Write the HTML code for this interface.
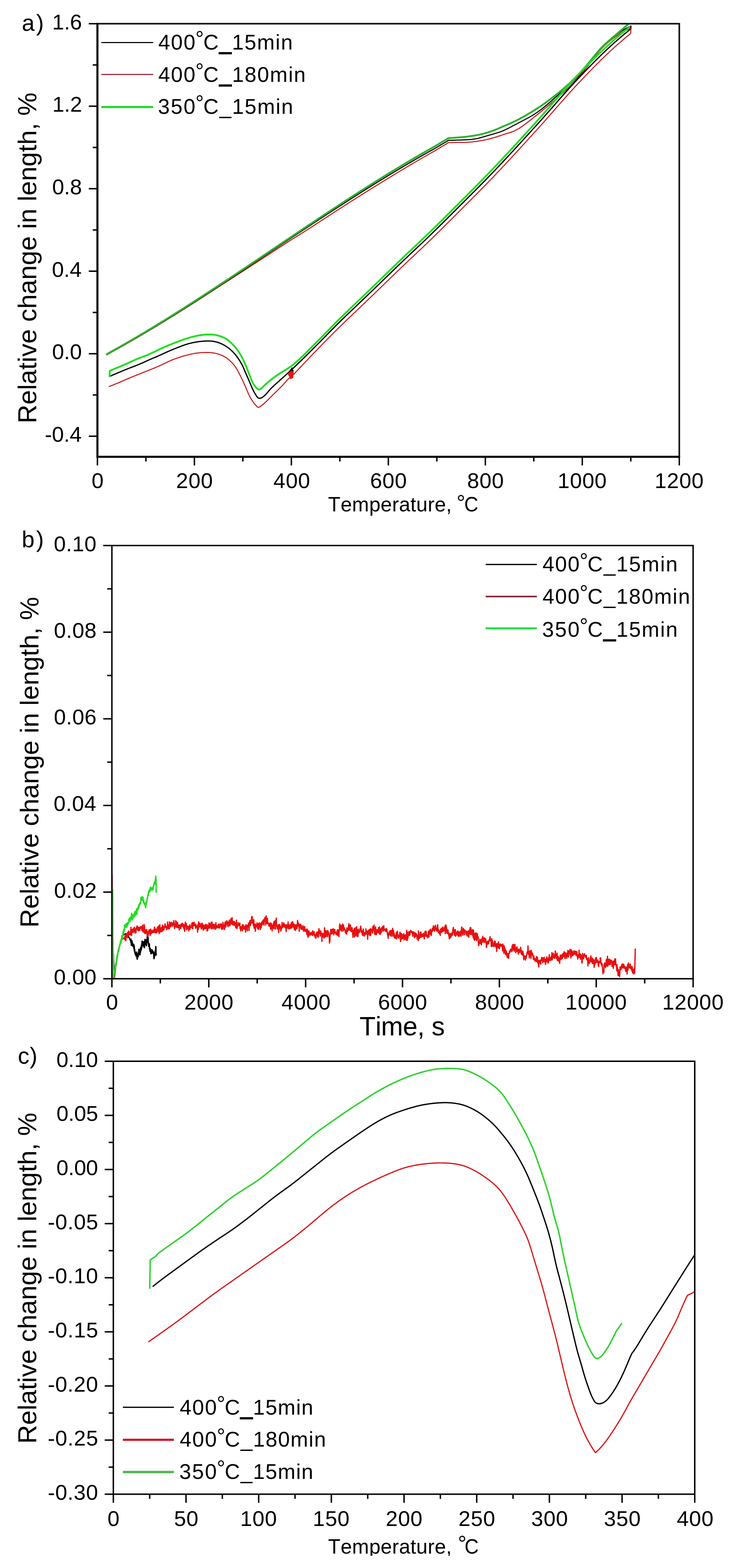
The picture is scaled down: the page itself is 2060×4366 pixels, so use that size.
<!DOCTYPE html>
<html><head><meta charset="utf-8"><title>Figure</title>
<style>html,body{margin:0;padding:0;background:#fff;}svg{display:block;} text{font-kerning:none;}</style>
</head><body>
<svg width="2060" height="4366" viewBox="0 0 2060 4366" font-family="'Liberation Sans', Arial, sans-serif">
<rect width="2060" height="4366" fill="#fff"/>
<defs>
<clipPath id="ca"><rect x="271.2" y="66.0" width="1619.8" height="1206.0"/></clipPath>
<clipPath id="cb"><rect x="311.5" y="1519.0" width="1618.0" height="1206.3"/></clipPath>
<clipPath id="cc"><rect x="315.5" y="2955.0" width="1618.5" height="1205.5"/></clipPath>
</defs>
<path d="M1756.0,78.6L1751.6,80.5L1750.8,80.9L1749.9,81.3L1749.0,81.7L1747.9,82.2L1746.9,82.7L1745.7,83.2L1744.5,83.7L1743.3,84.3L1742.1,84.9L1740.8,85.6L1739.5,86.2L1738.2,86.9L1736.9,87.5L1735.6,88.2L1734.3,88.9L1733.0,89.7L1731.7,90.4L1730.4,91.1L1729.1,91.9L1727.8,92.6L1726.5,93.4L1725.2,94.2L1724.0,94.9L1722.7,95.7L1721.4,96.5L1720.2,97.3L1718.9,98.2L1717.7,99.0L1716.4,99.8L1715.2,100.7L1713.9,101.5L1712.7,102.4L1711.5,103.3L1710.3,104.1L1709.1,105.0L1707.9,105.9L1706.7,106.8L1705.5,107.7L1704.3,108.7L1703.1,109.6L1702.0,110.5L1700.8,111.5L1699.6,112.4L1698.5,113.4L1697.3,114.3L1696.2,115.3L1695.0,116.3L1693.9,117.3L1692.8,118.2L1691.6,119.2L1690.5,120.2L1689.4,121.2L1688.3,122.2L1687.2,123.3L1686.1,124.3L1685.0,125.3L1683.9,126.3L1682.8,127.4L1681.7,128.4L1680.6,129.4L1679.6,130.5L1678.5,131.5L1677.4,132.6L1676.4,133.7L1675.3,134.7L1674.3,135.8L1673.3,136.9L1672.2,138.0L1671.2,139.1L1670.2,140.2L1669.2,141.3L1668.2,142.4L1667.2,143.6L1666.2,144.7L1665.2,145.8L1664.3,147.0L1663.3,148.1L1662.4,149.3L1661.4,150.5L1660.5,151.6L1659.6,152.8L1658.6,154.0L1657.7,155.2L1656.8,156.4L1655.9,157.6L1655.0,158.7L1654.1,159.9L1653.2,161.2L1652.3,162.4L1651.4,163.6L1650.5,164.8L1649.6,166.0L1648.7,167.2L1647.9,168.4L1647.0,169.6L1646.1,170.8L1645.2,172.1L1644.3,173.3L1643.5,174.5L1642.6,175.7L1641.7,176.9L1640.8,178.1L1639.9,179.4L1639.0,180.6L1638.2,181.8L1637.3,183.0L1636.4,184.2L1635.5,185.4L1634.6,186.6L1633.7,187.8L1632.7,189.0L1631.8,190.2L1630.9,191.3L1630.0,192.5L1629.0,193.7L1628.1,194.9L1627.2,196.0L1626.2,197.2L1625.3,198.4L1624.3,199.5L1623.3,200.7L1622.4,201.8L1621.4,203.0L1620.4,204.1L1619.4,205.2L1618.5,206.4L1617.5,207.5L1616.5,208.6L1615.5,209.7L1614.5,210.9L1613.5,212.0L1612.5,213.1L1611.5,214.2L1610.5,215.3L1609.4,216.4L1608.4,217.5L1607.4,218.6L1606.4,219.7L1605.4,220.8L1604.3,221.9L1603.3,223.0L1602.3,224.1L1601.2,225.2L1600.2,226.3L1599.2,227.4L1598.1,228.4L1597.1,229.5L1596.0,230.6L1595.0,231.7L1593.9,232.7L1592.9,233.8L1591.8,234.9L1590.8,236.0L1589.7,237.0L1588.7,238.1L1587.6,239.1L1586.5,240.2L1585.5,241.3L1584.4,242.3L1583.3,243.4L1582.3,244.4L1581.2,245.5L1580.1,246.5L1579.0,247.5L1577.9,248.6L1576.8,249.6L1575.8,250.6L1574.7,251.7L1573.6,252.7L1572.5,253.7L1571.4,254.7L1570.3,255.8L1569.2,256.8L1568.0,257.8L1566.9,258.8L1565.8,259.8L1564.7,260.8L1563.6,261.8L1562.4,262.8L1561.3,263.8L1560.2,264.8L1559.1,265.7L1557.9,266.7L1556.8,267.7L1555.7,268.7L1554.5,269.7L1553.4,270.7L1552.2,271.6L1551.1,272.6L1550.0,273.6L1548.8,274.6L1547.7,275.6L1546.6,276.5L1545.4,277.5L1544.3,278.5L1543.1,279.5L1542.0,280.4L1540.9,281.4L1539.7,282.4L1538.6,283.4L1537.5,284.4L1536.3,285.3L1535.2,286.3L1534.0,287.3L1532.9,288.3L1531.8,289.3L1530.6,290.2L1529.5,291.2L1528.3,292.2L1527.2,293.2L1526.1,294.1L1524.9,295.1L1523.8,296.1L1522.6,297.1L1521.5,298.0L1520.3,299.0L1519.2,300.0L1518.0,300.9L1516.9,301.9L1515.7,302.9L1514.6,303.8L1513.4,304.8L1512.3,305.7L1511.1,306.7L1510.0,307.7L1508.8,308.6L1507.6,309.6L1506.5,310.5L1505.3,311.5L1504.1,312.4L1503.0,313.3L1501.8,314.3L1500.6,315.2L1499.5,316.1L1498.3,317.1L1497.1,318.0L1495.9,319.0L1494.8,319.9L1493.6,320.8L1492.4,321.7L1491.2,322.7L1490.1,323.6L1488.9,324.5L1487.7,325.5L1486.5,326.4L1485.4,327.4L1484.2,328.3L1483.0,329.2L1481.8,330.2L1480.7,331.1L1479.5,332.0L1478.3,333.0L1477.2,333.9L1476.0,334.9L1474.8,335.8L1473.6,336.7L1472.5,337.7L1471.3,338.6L1470.1,339.5L1468.9,340.5L1467.7,341.4L1466.6,342.3L1465.4,343.2L1464.2,344.1L1463.0,345.0L1461.8,345.9L1460.6,346.8L1459.4,347.7L1458.2,348.6L1457.0,349.5L1455.7,350.4L1454.5,351.2L1453.3,352.1L1452.0,352.9L1450.8,353.8L1449.5,354.6L1448.3,355.4L1447.0,356.2L1445.8,357.0L1444.5,357.8L1443.2,358.6L1441.9,359.3L1440.6,360.0L1439.3,360.8L1438.0,361.5L1436.6,362.1L1435.3,362.8L1433.9,363.5L1432.6,364.1L1431.2,364.7L1429.8,365.3L1428.5,365.9L1427.1,366.4L1425.7,367.0L1424.3,367.5L1422.9,368.0L1421.5,368.5L1420.0,369.0L1418.6,369.4L1417.2,369.9L1415.8,370.3L1414.3,370.8L1412.9,371.2L1411.5,371.7L1410.0,372.1L1408.6,372.5L1407.2,373.0L1405.7,373.4L1404.3,373.8L1402.9,374.3L1401.4,374.7L1400.0,375.2L1398.6,375.7L1397.1,376.1L1395.7,376.6L1394.3,377.1L1392.9,377.5L1391.4,378.0L1390.0,378.5L1388.6,379.0L1387.2,379.4L1385.7,379.9L1384.3,380.4L1382.9,380.8L1381.5,381.3L1380.0,381.8L1378.6,382.2L1377.2,382.6L1375.7,383.1L1374.3,383.5L1372.9,383.9L1371.4,384.3L1370.0,384.7L1368.5,385.1L1367.1,385.5L1365.6,385.9L1364.2,386.3L1362.7,386.7L1361.3,387.0L1359.8,387.4L1358.3,387.7L1356.9,388.1L1355.4,388.4L1354.0,388.7L1352.5,389.1L1351.0,389.4L1349.6,389.7L1348.1,390.0L1346.6,390.3L1345.1,390.6L1343.7,390.9L1342.2,391.1L1340.7,391.4L1339.2,391.6L1337.8,391.9L1336.3,392.1L1334.8,392.4L1333.3,392.6L1331.8,392.8L1330.3,393.1L1328.9,393.3L1327.4,393.5L1325.9,393.7L1324.4,393.9L1322.9,394.1L1321.4,394.3L1319.9,394.5L1318.4,394.6L1317.0,394.8L1315.5,395.0L1314.0,395.1L1312.5,395.3L1311.0,395.4L1309.5,395.6L1308.0,395.7L1306.5,395.8L1305.0,395.9L1303.5,396.0L1302.0,396.1L1300.5,396.2L1299.0,396.3L1297.5,396.3L1296.0,396.4L1294.5,396.4L1293.0,396.5L1291.5,396.5L1290.0,396.5L1288.5,396.5L1287.0,396.6L1285.5,396.6L1284.0,396.6L1282.5,396.6L1281.0,396.6L1279.5,396.6L1278.0,396.6L1276.5,396.6L1275.0,396.6L1273.5,396.6L1272.0,396.6L1270.5,396.6L1269.0,396.7L1267.5,396.7L1266.0,396.7L1264.5,396.7L1263.0,396.8L1261.6,396.8L1260.1,396.9L1258.6,397.0L1257.1,397.0L1255.6,397.0L1254.1,397.0L1252.6,396.9L1251.0,396.8L1249.5,396.8L1248.1,397.1L1246.8,397.9L1245.6,398.8L1244.4,399.7L1243.1,400.5L1241.8,401.3L1240.5,402.1L1239.2,402.8L1237.9,403.5L1236.6,404.2L1235.4,405.0L1234.1,405.7L1232.8,406.5L1231.5,407.3L1230.2,408.0L1228.9,408.8L1227.7,409.6L1226.4,410.4L1225.1,411.2L1223.8,411.9L1222.5,412.7L1221.3,413.5L1220.0,414.3L1218.7,415.0L1217.4,415.8L1216.1,416.6L1214.8,417.3L1213.5,418.1L1212.2,418.9L1210.9,419.6L1209.6,420.4L1208.3,421.1L1207.0,421.9L1205.7,422.6L1204.4,423.3L1203.1,424.1L1201.8,424.8L1200.5,425.6L1199.2,426.3L1197.9,427.0L1196.6,427.8L1195.3,428.5L1194.0,429.3L1192.7,430.0L1191.3,430.7L1190.0,431.5L1188.7,432.2L1187.4,433.0L1186.1,433.7L1184.8,434.5L1183.5,435.2L1182.2,436.0L1180.9,436.7L1179.6,437.5L1178.3,438.2L1177.0,439.0L1175.7,439.7L1174.4,440.5L1173.1,441.2L1171.8,442.0L1170.5,442.7L1169.2,443.5L1167.9,444.2L1166.6,445.0L1165.3,445.7L1164.0,446.5L1162.7,447.2L1161.4,448.0L1160.1,448.7L1158.8,449.5L1157.5,450.3L1156.2,451.0L1154.9,451.8L1153.7,452.5L1152.4,453.3L1151.1,454.0L1149.8,454.8L1148.5,455.6L1147.2,456.3L1145.9,457.1L1144.6,457.9L1143.3,458.6L1142.0,459.4L1140.7,460.2L1139.4,460.9L1138.1,461.7L1136.8,462.4L1135.6,463.2L1134.3,464.0L1133.0,464.8L1131.7,465.5L1130.4,466.3L1129.1,467.1L1127.8,467.8L1126.5,468.6L1125.2,469.4L1124.0,470.1L1122.7,470.9L1121.4,471.7L1120.1,472.5L1118.8,473.2L1117.5,474.0L1116.2,474.8L1115.0,475.6L1113.7,476.3L1112.4,477.1L1111.1,477.9L1109.8,478.7L1108.5,479.4L1107.2,480.2L1106.0,481.0L1104.7,481.8L1103.4,482.6L1102.1,483.3L1100.8,484.1L1099.5,484.9L1098.3,485.7L1097.0,486.5L1095.7,487.2L1094.4,488.0L1093.1,488.8L1091.9,489.6L1090.6,490.4L1089.3,491.2L1088.0,491.9L1086.7,492.7L1085.5,493.5L1084.2,494.3L1082.9,495.1L1081.6,495.9L1080.3,496.6L1079.1,497.4L1077.8,498.2L1076.5,499.0L1075.2,499.8L1073.9,500.6L1072.6,501.3L1071.4,502.1L1070.1,502.9L1068.8,503.7L1067.5,504.5L1066.2,505.2L1065.0,506.0L1063.7,506.8L1062.4,507.6L1061.1,508.4L1059.8,509.2L1058.6,509.9L1057.3,510.7L1056.0,511.5L1054.7,512.3L1053.4,513.1L1052.2,513.9L1050.9,514.7L1049.6,515.4L1048.3,516.2L1047.0,517.0L1045.8,517.8L1044.5,518.6L1043.2,519.4L1041.9,520.2L1040.7,521.0L1039.4,521.8L1038.1,522.6L1036.8,523.3L1035.6,524.1L1034.3,524.9L1033.0,525.7L1031.7,526.5L1030.5,527.3L1029.2,528.1L1027.9,528.9L1026.6,529.7L1025.4,530.5L1024.1,531.3L1022.8,532.1L1021.5,532.9L1020.3,533.7L1019.0,534.5L1017.7,535.3L1016.5,536.1L1015.2,536.8L1013.9,537.6L1012.6,538.4L1011.4,539.2L1010.1,540.0L1008.8,540.8L1007.6,541.6L1006.3,542.4L1005.0,543.2L1003.7,544.0L1002.5,544.8L1001.2,545.6L999.9,546.4L998.7,547.2L997.4,548.0L996.1,548.8L994.9,549.6L993.6,550.5L992.3,551.3L991.1,552.1L989.8,552.9L988.5,553.7L987.2,554.5L986.0,555.3L984.7,556.1L983.4,556.9L982.2,557.7L980.9,558.5L979.6,559.3L978.4,560.1L977.1,560.9L975.8,561.7L974.6,562.5L973.3,563.3L972.0,564.1L970.8,565.0L969.5,565.8L968.3,566.6L967.0,567.4L965.7,568.2L964.5,569.0L963.2,569.8L961.9,570.6L960.7,571.4L959.4,572.2L958.1,573.0L956.9,573.9L955.6,574.7L954.4,575.5L953.1,576.3L951.8,577.1L950.6,577.9L949.3,578.7L948.0,579.5L946.8,580.4L945.5,581.2L944.3,582.0L943.0,582.8L941.7,583.6L940.5,584.4L939.2,585.2L937.9,586.1L936.7,586.9L935.4,587.7L934.2,588.5L932.9,589.3L931.6,590.1L930.4,590.9L929.1,591.8L927.9,592.6L926.6,593.4L925.3,594.2L924.1,595.0L922.8,595.8L921.6,596.7L920.3,597.5L919.1,598.3L917.8,599.1L916.5,599.9L915.3,600.8L914.0,601.6L912.8,602.4L911.5,603.2L910.2,604.0L909.0,604.8L907.7,605.7L906.5,606.5L905.2,607.3L904.0,608.1L902.7,608.9L901.4,609.8L900.2,610.6L898.9,611.4L897.7,612.2L896.4,613.1L895.2,613.9L893.9,614.7L892.6,615.5L891.4,616.3L890.1,617.2L888.9,618.0L887.6,618.8L886.4,619.6L885.1,620.5L883.9,621.3L882.6,622.1L881.3,622.9L880.1,623.7L878.8,624.6L877.6,625.4L876.3,626.2L875.1,627.0L873.8,627.9L872.5,628.7L871.3,629.5L870.0,630.3L868.8,631.1L867.5,631.9L866.3,632.8L865.0,633.6L863.7,634.4L862.5,635.2L861.2,636.0L859.9,636.8L858.7,637.6L857.4,638.4L856.1,639.3L854.9,640.1L853.6,640.9L852.4,641.7L851.1,642.5L849.8,643.3L848.5,644.1L847.3,644.9L846.0,645.7L844.7,646.5L843.5,647.3L842.2,648.1L840.9,648.9L839.7,649.7L838.4,650.5L837.1,651.3L835.8,652.1L834.6,652.9L833.3,653.7L832.0,654.5L830.7,655.3L829.5,656.0L828.2,656.8L826.9,657.6L825.6,658.4L824.4,659.2L823.1,660.0L821.8,660.8L820.5,661.6L819.3,662.4L818.0,663.2L816.7,664.0L815.4,664.7L814.2,665.5L812.9,666.3L811.6,667.1L810.4,667.9L809.1,668.8L807.8,669.6L806.6,670.4L805.3,671.2L804.0,672.0L802.8,672.8L801.5,673.6L800.2,674.4L799.0,675.2L797.7,676.1L796.5,676.9L795.2,677.7L793.9,678.5L792.7,679.3L791.4,680.2L790.2,681.0L788.9,681.8L787.7,682.6L786.4,683.4L785.1,684.2L783.9,685.1L782.6,685.9L781.4,686.7L780.1,687.5L778.8,688.3L777.6,689.2L776.3,690.0L775.1,690.8L773.8,691.6L772.6,692.4L771.3,693.3L770.0,694.1L768.8,694.9L767.5,695.7L766.3,696.5L765.0,697.4L763.8,698.2L762.5,699.0L761.2,699.8L760.0,700.6L758.7,701.4L757.5,702.3L756.2,703.1L754.9,703.9L753.7,704.7L752.4,705.5L751.2,706.4L749.9,707.2L748.7,708.0L747.4,708.8L746.1,709.6L744.9,710.5L743.6,711.3L742.4,712.1L741.1,712.9L739.8,713.7L738.6,714.6L737.3,715.4L736.1,716.2L734.8,717.0L733.6,717.8L732.3,718.6L731.0,719.5L729.8,720.3L728.5,721.1L727.3,721.9L726.0,722.7L724.7,723.6L723.5,724.4L722.2,725.2L721.0,726.0L719.7,726.8L718.5,727.7L717.2,728.5L715.9,729.3L714.7,730.1L713.4,730.9L712.2,731.7L710.9,732.6L709.6,733.4L708.4,734.2L707.1,735.0L705.9,735.8L704.6,736.6L703.3,737.5L702.1,738.3L700.8,739.1L699.6,739.9L698.3,740.7L697.1,741.6L695.8,742.4L694.5,743.2L693.3,744.0L692.0,744.8L690.8,745.6L689.5,746.5L688.2,747.3L687.0,748.1L685.7,748.9L684.5,749.7L683.2,750.5L681.9,751.3L680.7,752.2L679.4,753.0L678.2,753.8L676.9,754.6L675.6,755.4L674.4,756.2L673.1,757.1L671.9,757.9L670.6,758.7L669.3,759.5L668.1,760.3L666.8,761.1L665.5,761.9L664.3,762.8L663.0,763.6L661.8,764.4L660.5,765.2L659.2,766.0L658.0,766.8L656.7,767.6L655.5,768.5L654.2,769.3L652.9,770.1L651.7,770.9L650.4,771.7L649.1,772.5L647.9,773.3L646.6,774.1L645.4,775.0L644.1,775.8L642.8,776.6L641.6,777.4L640.3,778.2L639.0,779.0L637.8,779.8L636.5,780.6L635.3,781.4L634.0,782.3L632.7,783.1L631.5,783.9L630.2,784.7L628.9,785.5L627.7,786.3L626.4,787.1L625.1,787.9L623.9,788.8L622.6,789.6L621.4,790.4L620.1,791.2L618.8,792.0L617.6,792.8L616.3,793.6L615.1,794.4L613.8,795.3L612.5,796.1L611.3,796.9L610.0,797.7L608.7,798.5L607.5,799.3L606.2,800.1L605.0,801.0L603.7,801.8L602.4,802.6L601.2,803.4L599.9,804.2L598.7,805.0L597.4,805.9L596.1,806.7L594.9,807.5L593.6,808.3L592.4,809.1L591.1,809.9L589.8,810.7L588.6,811.6L587.3,812.4L586.1,813.2L584.8,814.0L583.5,814.8L582.3,815.7L581.0,816.5L579.8,817.3L578.5,818.1L577.2,818.9L576.0,819.7L574.7,820.6L573.5,821.4L572.2,822.2L570.9,823.0L569.7,823.8L568.4,824.6L567.2,825.4L565.9,826.3L564.6,827.1L563.4,827.9L562.1,828.7L560.9,829.5L559.6,830.3L558.3,831.1L557.1,832.0L555.8,832.8L554.5,833.6L553.3,834.4L552.0,835.2L550.8,836.0L549.5,836.8L548.2,837.6L547.0,838.4L545.7,839.3L544.4,840.1L543.2,840.9L541.9,841.7L540.6,842.5L539.4,843.3L538.1,844.1L536.8,844.9L535.6,845.7L534.3,846.5L533.1,847.3L531.8,848.1L530.5,849.0L529.3,849.8L528.0,850.6L526.7,851.4L525.5,852.2L524.2,853.0L522.9,853.8L521.7,854.6L520.4,855.4L519.1,856.2L517.8,857.0L516.6,857.8L515.3,858.6L514.0,859.4L512.8,860.2L511.5,861.0L510.2,861.8L509.0,862.6L507.7,863.4L506.4,864.2L505.2,865.0L503.9,865.8L502.6,866.6L501.3,867.4L500.1,868.2L498.8,869.0L497.5,869.8L496.3,870.6L495.0,871.4L493.7,872.2L492.4,873.0L491.2,873.8L489.9,874.6L488.6,875.4L487.3,876.2L486.1,877.0L484.8,877.8L483.5,878.6L482.3,879.4L481.0,880.1L479.7,880.9L478.4,881.7L477.2,882.5L475.9,883.3L474.6,884.1L473.3,884.9L472.0,885.7L470.8,886.5L469.5,887.3L468.2,888.1L466.9,888.8L465.7,889.6L464.4,890.4L463.1,891.2L461.8,892.0L460.6,892.8L459.3,893.6L458.0,894.4L456.7,895.1L455.4,895.9L454.2,896.7L452.9,897.5L451.6,898.3L450.3,899.1L449.0,899.8L447.7,900.6L446.5,901.4L445.2,902.2L443.9,903.0L442.6,903.8L441.3,904.5L440.1,905.3L438.8,906.1L437.5,906.9L436.2,907.7L434.9,908.4L433.6,909.2L432.4,910.0L431.1,910.8L429.8,911.5L428.5,912.3L427.2,913.1L425.9,913.9L424.6,914.6L423.4,915.4L422.1,916.2L420.8,917.0L419.5,917.7L418.2,918.5L416.9,919.3L415.6,920.0L414.3,920.8L413.1,921.6L411.8,922.4L410.5,923.1L409.2,923.9L407.9,924.7L406.6,925.4L405.3,926.2L404.0,927.0L402.7,927.7L401.4,928.5L400.1,929.3L398.9,930.0L397.6,930.8L396.3,931.5L395.0,932.3L393.7,933.1L392.4,933.8L391.1,934.6L389.8,935.3L388.5,936.1L387.2,936.9L385.9,937.6L384.6,938.4L383.3,939.1L382.0,939.9L380.7,940.7L379.4,941.4L378.1,942.2L376.8,942.9L375.5,943.7L374.2,944.4L372.9,945.2L371.6,945.9L370.3,946.7L369.0,947.4L367.7,948.2L366.4,948.9L365.1,949.7L363.8,950.4L362.5,951.2L361.2,951.9L359.9,952.7L358.6,953.4L357.3,954.2L356.0,954.9L354.7,955.7L353.4,956.4L352.1,957.2L350.8,957.9L349.5,958.6L348.2,959.4L346.9,960.1L345.6,960.9L344.3,961.6L343.0,962.3L341.7,963.1L340.4,963.8L339.1,964.6L337.8,965.3L336.4,966.0L335.1,966.8L333.8,967.5L332.5,968.2L331.2,969.0L329.9,969.7L328.6,970.4L327.3,971.2L326.0,971.9L324.7,972.6L323.4,973.4L322.0,974.1L320.7,974.8L319.4,975.5L318.1,976.3L316.8,977.0L315.5,977.7L314.2,978.4L313.0,979.1L311.7,979.8L310.5,980.5L309.3,981.2L308.1,981.8L307.0,982.5L305.9,983.1L304.8,983.7L303.8,984.2L302.9,984.8L302.1,985.2L301.3,985.7L297.3,988.1" fill="none" stroke="#c82020" stroke-width="3" stroke-linejoin="round" stroke-linecap="round" clip-path="url(#ca)" />
<path d="M1756.0,72.3L1751.8,74.5L1751.0,74.9L1750.1,75.3L1749.2,75.8L1748.2,76.4L1747.1,76.9L1746.0,77.5L1744.9,78.1L1743.7,78.8L1742.5,79.5L1741.3,80.1L1740.0,80.9L1738.7,81.6L1737.5,82.3L1736.2,83.1L1734.9,83.8L1733.7,84.6L1732.4,85.4L1731.1,86.2L1729.8,87.0L1728.6,87.8L1727.3,88.6L1726.0,89.4L1724.8,90.2L1723.5,91.0L1722.3,91.9L1721.0,92.7L1719.8,93.6L1718.6,94.4L1717.3,95.3L1716.1,96.1L1714.9,97.0L1713.7,97.9L1712.5,98.8L1711.3,99.6L1710.1,100.5L1708.9,101.4L1707.7,102.4L1706.5,103.3L1705.3,104.2L1704.1,105.1L1702.9,106.0L1701.8,107.0L1700.6,107.9L1699.4,108.9L1698.3,109.8L1697.1,110.8L1696.0,111.7L1694.8,112.7L1693.7,113.7L1692.5,114.7L1691.4,115.7L1690.3,116.6L1689.2,117.6L1688.0,118.6L1686.9,119.6L1685.8,120.7L1684.7,121.7L1683.6,122.7L1682.5,123.7L1681.4,124.8L1680.3,125.8L1679.3,126.8L1678.2,127.9L1677.1,128.9L1676.1,130.0L1675.0,131.1L1674.0,132.2L1672.9,133.2L1671.9,134.3L1670.9,135.4L1669.9,136.5L1668.9,137.6L1667.9,138.8L1666.9,139.9L1665.9,141.0L1665.0,142.2L1664.0,143.3L1663.0,144.5L1662.1,145.6L1661.2,146.8L1660.2,148.0L1659.3,149.2L1658.4,150.4L1657.5,151.5L1656.5,152.7L1655.6,153.9L1654.7,155.1L1653.8,156.3L1653.0,157.5L1652.1,158.8L1651.2,160.0L1650.3,161.2L1649.4,162.4L1648.5,163.6L1647.6,164.8L1646.8,166.0L1645.9,167.3L1645.0,168.5L1644.1,169.7L1643.3,170.9L1642.4,172.1L1641.5,173.3L1640.6,174.5L1639.7,175.8L1638.8,177.0L1637.9,178.2L1637.0,179.4L1636.1,180.6L1635.2,181.8L1634.3,183.0L1633.4,184.2L1632.5,185.4L1631.6,186.5L1630.7,187.7L1629.7,188.9L1628.8,190.1L1627.8,191.2L1626.9,192.4L1625.9,193.5L1625.0,194.7L1624.0,195.8L1623.0,197.0L1622.0,198.1L1621.1,199.2L1620.1,200.4L1619.1,201.5L1618.1,202.6L1617.1,203.7L1616.0,204.8L1615.0,205.9L1614.0,207.0L1613.0,208.1L1612.0,209.2L1610.9,210.3L1609.9,211.4L1608.9,212.5L1607.8,213.6L1606.8,214.7L1605.8,215.8L1604.7,216.8L1603.7,217.9L1602.6,219.0L1601.6,220.0L1600.5,221.1L1599.4,222.2L1598.4,223.2L1597.3,224.3L1596.2,225.4L1595.2,226.4L1594.1,227.5L1593.0,228.5L1592.0,229.6L1590.9,230.6L1589.8,231.7L1588.7,232.7L1587.7,233.7L1586.6,234.8L1585.5,235.8L1584.4,236.9L1583.3,237.9L1582.2,238.9L1581.1,240.0L1580.0,241.0L1578.9,242.0L1577.8,243.0L1576.7,244.1L1575.6,245.1L1574.5,246.1L1573.4,247.1L1572.3,248.1L1571.2,249.1L1570.1,250.2L1569.0,251.2L1567.9,252.2L1566.8,253.2L1565.7,254.2L1564.5,255.2L1563.4,256.2L1562.3,257.2L1561.2,258.1L1560.0,259.1L1558.9,260.1L1557.8,261.1L1556.6,262.1L1555.5,263.1L1554.4,264.1L1553.2,265.0L1552.1,266.0L1551.0,267.0L1549.8,268.0L1548.7,269.0L1547.5,270.0L1546.4,270.9L1545.3,271.9L1544.1,272.9L1543.0,273.9L1541.9,274.9L1540.7,275.9L1539.6,276.8L1538.5,277.8L1537.4,278.8L1536.2,279.8L1535.1,280.8L1534.0,281.8L1532.8,282.8L1531.7,283.8L1530.6,284.7L1529.4,285.7L1528.3,286.7L1527.2,287.7L1526.0,288.7L1524.9,289.7L1523.8,290.6L1522.6,291.6L1521.5,292.6L1520.3,293.6L1519.2,294.5L1518.0,295.5L1516.9,296.5L1515.7,297.4L1514.6,298.4L1513.4,299.3L1512.3,300.3L1511.1,301.2L1509.9,302.1L1508.7,303.1L1507.5,304.0L1506.4,304.9L1505.2,305.8L1504.0,306.7L1502.8,307.6L1501.6,308.5L1500.3,309.4L1499.1,310.3L1497.9,311.1L1496.7,312.0L1495.4,312.8L1494.2,313.7L1492.9,314.5L1491.7,315.3L1490.4,316.1L1489.2,317.0L1487.9,317.8L1486.6,318.6L1485.4,319.4L1484.1,320.1L1482.8,320.9L1481.5,321.7L1480.2,322.5L1478.9,323.2L1477.6,324.0L1476.3,324.7L1475.0,325.5L1473.7,326.2L1472.4,326.9L1471.1,327.7L1469.8,328.4L1468.5,329.1L1467.2,329.9L1465.8,330.6L1464.5,331.3L1463.2,332.0L1461.9,332.7L1460.5,333.4L1459.2,334.1L1457.9,334.8L1456.6,335.5L1455.2,336.2L1453.9,336.9L1452.6,337.6L1451.2,338.3L1449.9,339.0L1448.6,339.6L1447.2,340.3L1445.9,341.0L1444.6,341.7L1443.2,342.4L1441.9,343.1L1440.6,343.8L1439.2,344.5L1437.9,345.2L1436.6,345.9L1435.2,346.5L1433.9,347.2L1432.6,347.9L1431.2,348.6L1429.9,349.3L1428.6,350.0L1427.3,350.7L1425.9,351.5L1424.6,352.2L1423.3,352.9L1422.0,353.6L1420.6,354.3L1419.3,355.0L1418.0,355.7L1416.7,356.4L1415.3,357.1L1414.0,357.7L1412.6,358.4L1411.3,359.1L1410.0,359.7L1408.6,360.4L1407.3,361.0L1405.9,361.7L1404.5,362.3L1403.2,362.9L1401.8,363.5L1400.4,364.0L1399.0,364.6L1397.6,365.2L1396.2,365.7L1394.8,366.2L1393.4,366.8L1392.0,367.3L1390.6,367.8L1389.2,368.3L1387.8,368.7L1386.3,369.2L1384.9,369.7L1383.5,370.1L1382.0,370.6L1380.6,371.0L1379.2,371.5L1377.7,371.9L1376.3,372.3L1374.9,372.8L1373.4,373.2L1372.0,373.6L1370.5,374.0L1369.1,374.4L1367.6,374.8L1366.2,375.2L1364.8,375.6L1363.3,376.1L1361.9,376.5L1360.4,376.9L1359.0,377.3L1357.5,377.7L1356.1,378.1L1354.6,378.5L1353.2,378.9L1351.8,379.3L1350.3,379.8L1348.9,380.2L1347.4,380.6L1346.0,381.0L1344.6,381.5L1343.1,381.9L1341.7,382.3L1340.2,382.7L1338.8,383.1L1337.3,383.5L1335.9,383.9L1334.5,384.3L1333.0,384.7L1331.5,385.0L1330.1,385.4L1328.6,385.7L1327.2,386.0L1325.7,386.3L1324.2,386.6L1322.8,386.9L1321.3,387.1L1319.8,387.3L1318.3,387.5L1316.8,387.7L1315.4,387.9L1313.9,388.1L1312.4,388.2L1310.9,388.4L1309.4,388.5L1307.9,388.6L1306.4,388.7L1304.9,388.8L1303.4,388.9L1301.9,389.0L1300.4,389.1L1298.9,389.2L1297.4,389.2L1295.9,389.3L1294.4,389.4L1292.9,389.4L1291.4,389.5L1289.9,389.5L1288.4,389.6L1286.9,389.7L1285.4,389.7L1283.9,389.8L1282.4,389.8L1280.9,389.9L1279.4,389.9L1277.9,389.9L1276.4,390.0L1274.9,390.0L1273.4,390.1L1271.9,390.1L1270.4,390.2L1268.9,390.2L1267.4,390.3L1265.9,390.3L1264.4,390.4L1263.0,390.4L1261.5,390.5L1260.0,390.6L1258.5,390.7L1257.0,390.7L1255.5,390.8L1254.0,390.7L1252.5,390.6L1250.9,390.5L1249.4,390.6L1248.1,391.0L1246.8,391.7L1245.5,392.6L1244.3,393.5L1243.0,394.3L1241.7,395.1L1240.4,395.8L1239.1,396.6L1237.8,397.3L1236.5,398.0L1235.2,398.8L1233.9,399.5L1232.7,400.3L1231.4,401.0L1230.1,401.8L1228.8,402.6L1227.5,403.3L1226.2,404.1L1224.9,404.9L1223.7,405.7L1222.4,406.4L1221.1,407.2L1219.8,408.0L1218.5,408.7L1217.2,409.5L1215.9,410.2L1214.6,411.0L1213.3,411.8L1212.0,412.5L1210.7,413.2L1209.4,414.0L1208.1,414.7L1206.8,415.5L1205.5,416.2L1204.2,416.9L1202.9,417.7L1201.6,418.4L1200.2,419.1L1198.9,419.9L1197.6,420.6L1196.3,421.3L1195.0,422.1L1193.7,422.8L1192.4,423.5L1191.1,424.3L1189.8,425.0L1188.5,425.7L1187.1,426.5L1185.8,427.2L1184.5,427.9L1183.2,428.7L1181.9,429.4L1180.6,430.2L1179.3,430.9L1178.0,431.6L1176.7,432.4L1175.4,433.1L1174.1,433.9L1172.8,434.6L1171.5,435.4L1170.2,436.1L1168.9,436.9L1167.6,437.6L1166.3,438.3L1165.0,439.1L1163.7,439.8L1162.4,440.6L1161.1,441.3L1159.8,442.1L1158.5,442.8L1157.2,443.6L1155.9,444.3L1154.6,445.1L1153.3,445.8L1152.0,446.6L1150.7,447.3L1149.4,448.1L1148.1,448.9L1146.8,449.6L1145.5,450.4L1144.2,451.1L1142.9,451.9L1141.6,452.6L1140.3,453.4L1139.0,454.1L1137.7,454.9L1136.4,455.7L1135.1,456.4L1133.8,457.2L1132.5,457.9L1131.2,458.7L1129.9,459.5L1128.6,460.2L1127.3,461.0L1126.1,461.8L1124.8,462.5L1123.5,463.3L1122.2,464.1L1120.9,464.8L1119.6,465.6L1118.3,466.4L1117.0,467.1L1115.7,467.9L1114.4,468.7L1113.1,469.4L1111.9,470.2L1110.6,471.0L1109.3,471.7L1108.0,472.5L1106.7,473.3L1105.4,474.1L1104.1,474.8L1102.8,475.6L1101.6,476.4L1100.3,477.1L1099.0,477.9L1097.7,478.7L1096.4,479.5L1095.1,480.2L1093.8,481.0L1092.6,481.8L1091.3,482.6L1090.0,483.3L1088.7,484.1L1087.4,484.9L1086.1,485.7L1084.8,486.5L1083.6,487.2L1082.3,488.0L1081.0,488.8L1079.7,489.6L1078.4,490.4L1077.1,491.1L1075.9,491.9L1074.6,492.7L1073.3,493.5L1072.0,494.3L1070.7,495.0L1069.5,495.8L1068.2,496.6L1066.9,497.4L1065.6,498.2L1064.3,499.0L1063.1,499.7L1061.8,500.5L1060.5,501.3L1059.2,502.1L1057.9,502.9L1056.7,503.7L1055.4,504.5L1054.1,505.2L1052.8,506.0L1051.5,506.8L1050.3,507.6L1049.0,508.4L1047.7,509.2L1046.4,510.0L1045.2,510.8L1043.9,511.6L1042.6,512.4L1041.3,513.1L1040.1,513.9L1038.8,514.7L1037.5,515.5L1036.2,516.3L1035.0,517.1L1033.7,517.9L1032.4,518.7L1031.1,519.5L1029.9,520.3L1028.6,521.1L1027.3,521.9L1026.0,522.7L1024.8,523.5L1023.5,524.3L1022.2,525.1L1021.0,525.9L1019.7,526.7L1018.4,527.5L1017.1,528.3L1015.9,529.0L1014.6,529.8L1013.3,530.6L1012.1,531.4L1010.8,532.2L1009.5,533.0L1008.2,533.8L1007.0,534.6L1005.7,535.4L1004.4,536.2L1003.2,537.1L1001.9,537.9L1000.6,538.7L999.4,539.5L998.1,540.3L996.8,541.1L995.6,541.9L994.3,542.7L993.0,543.5L991.8,544.3L990.5,545.1L989.2,545.9L988.0,546.7L986.7,547.5L985.4,548.3L984.2,549.1L982.9,549.9L981.6,550.7L980.4,551.5L979.1,552.3L977.8,553.2L976.6,554.0L975.3,554.8L974.0,555.6L972.8,556.4L971.5,557.2L970.2,558.0L969.0,558.8L967.7,559.6L966.4,560.4L965.2,561.2L963.9,562.1L962.7,562.9L961.4,563.7L960.1,564.5L958.9,565.3L957.6,566.1L956.3,566.9L955.1,567.7L953.8,568.6L952.6,569.4L951.3,570.2L950.0,571.0L948.8,571.8L947.5,572.6L946.2,573.4L945.0,574.2L943.7,575.1L942.5,575.9L941.2,576.7L939.9,577.5L938.7,578.3L937.4,579.1L936.2,580.0L934.9,580.8L933.6,581.6L932.4,582.4L931.1,583.2L929.9,584.0L928.6,584.9L927.3,585.7L926.1,586.5L924.8,587.3L923.6,588.1L922.3,589.0L921.1,589.8L919.8,590.6L918.5,591.4L917.3,592.2L916.0,593.0L914.8,593.9L913.5,594.7L912.3,595.5L911.0,596.3L909.7,597.1L908.5,598.0L907.2,598.8L906.0,599.6L904.7,600.4L903.5,601.3L902.2,602.1L900.9,602.9L899.7,603.7L898.4,604.5L897.2,605.4L895.9,606.2L894.7,607.0L893.4,607.8L892.2,608.7L890.9,609.5L889.6,610.3L888.4,611.1L887.1,612.0L885.9,612.8L884.6,613.6L883.4,614.4L882.1,615.2L880.9,616.1L879.6,616.9L878.3,617.7L877.1,618.5L875.8,619.4L874.6,620.2L873.3,621.0L872.1,621.8L870.8,622.7L869.6,623.5L868.3,624.3L867.1,625.2L865.8,626.0L864.6,626.8L863.3,627.6L862.1,628.5L860.8,629.3L859.5,630.1L858.3,630.9L857.0,631.8L855.8,632.6L854.5,633.4L853.3,634.2L852.0,635.1L850.8,635.9L849.5,636.7L848.3,637.6L847.0,638.4L845.8,639.2L844.5,640.0L843.3,640.9L842.0,641.7L840.8,642.5L839.5,643.4L838.3,644.2L837.0,645.0L835.8,645.8L834.5,646.7L833.2,647.5L832.0,648.3L830.7,649.2L829.5,650.0L828.2,650.8L827.0,651.6L825.7,652.5L824.5,653.3L823.2,654.1L822.0,655.0L820.7,655.8L819.5,656.6L818.2,657.5L817.0,658.3L815.7,659.1L814.5,660.0L813.2,660.8L812.0,661.6L810.7,662.5L809.5,663.3L808.2,664.1L807.0,665.0L805.7,665.8L804.5,666.6L803.2,667.5L802.0,668.3L800.8,669.1L799.5,670.0L798.3,670.8L797.0,671.6L795.8,672.5L794.5,673.3L793.3,674.1L792.0,675.0L790.8,675.8L789.5,676.6L788.3,677.5L787.0,678.3L785.8,679.1L784.5,680.0L783.3,680.8L782.0,681.7L780.8,682.5L779.6,683.3L778.3,684.2L777.1,685.0L775.8,685.8L774.6,686.7L773.3,687.5L772.1,688.3L770.8,689.2L769.6,690.0L768.3,690.9L767.1,691.7L765.8,692.5L764.6,693.4L763.3,694.2L762.1,695.0L760.8,695.9L759.6,696.7L758.4,697.5L757.1,698.4L755.9,699.2L754.6,700.0L753.4,700.9L752.1,701.7L750.9,702.6L749.6,703.4L748.4,704.2L747.1,705.1L745.9,705.9L744.6,706.7L743.4,707.6L742.1,708.4L740.9,709.2L739.6,710.1L738.4,710.9L737.2,711.8L735.9,712.6L734.7,713.4L733.4,714.3L732.2,715.1L730.9,715.9L729.7,716.8L728.4,717.6L727.2,718.4L725.9,719.3L724.7,720.1L723.4,720.9L722.2,721.8L720.9,722.6L719.7,723.4L718.4,724.3L717.2,725.1L716.0,726.0L714.7,726.8L713.5,727.6L712.2,728.5L711.0,729.3L709.7,730.1L708.5,731.0L707.2,731.8L706.0,732.6L704.7,733.5L703.5,734.3L702.2,735.1L701.0,736.0L699.7,736.8L698.5,737.6L697.2,738.5L696.0,739.3L694.7,740.1L693.5,741.0L692.2,741.8L691.0,742.6L689.7,743.5L688.5,744.3L687.2,745.1L686.0,746.0L684.7,746.8L683.5,747.6L682.2,748.5L681.0,749.3L679.7,750.1L678.5,751.0L677.3,751.8L676.0,752.6L674.8,753.5L673.5,754.3L672.3,755.1L671.0,756.0L669.8,756.8L668.5,757.6L667.3,758.5L666.0,759.3L664.8,760.1L663.5,760.9L662.3,761.8L661.0,762.6L659.8,763.4L658.5,764.3L657.3,765.1L656.0,765.9L654.7,766.8L653.5,767.6L652.2,768.4L651.0,769.3L649.7,770.1L648.5,770.9L647.2,771.7L646.0,772.6L644.7,773.4L643.5,774.2L642.2,775.1L641.0,775.9L639.7,776.7L638.5,777.5L637.2,778.4L636.0,779.2L634.7,780.0L633.5,780.9L632.2,781.7L631.0,782.5L629.7,783.3L628.5,784.2L627.2,785.0L626.0,785.8L624.7,786.6L623.4,787.5L622.2,788.3L620.9,789.1L619.7,789.9L618.4,790.8L617.2,791.6L615.9,792.4L614.7,793.2L613.4,794.1L612.2,794.9L610.9,795.7L609.7,796.5L608.4,797.4L607.1,798.2L605.9,799.0L604.6,799.8L603.4,800.7L602.1,801.5L600.9,802.3L599.6,803.1L598.4,804.0L597.1,804.8L595.8,805.6L594.6,806.4L593.3,807.2L592.1,808.1L590.8,808.9L589.6,809.7L588.3,810.5L587.0,811.3L585.8,812.2L584.5,813.0L583.3,813.8L582.0,814.6L580.8,815.4L579.5,816.3L578.2,817.1L577.0,817.9L575.7,818.7L574.5,819.5L573.2,820.4L571.9,821.2L570.7,822.0L569.4,822.8L568.2,823.6L566.9,824.4L565.6,825.3L564.4,826.1L563.1,826.9L561.9,827.7L560.6,828.5L559.3,829.3L558.1,830.2L556.8,831.0L555.6,831.8L554.3,832.6L553.0,833.4L551.8,834.2L550.5,835.0L549.3,835.8L548.0,836.7L546.7,837.5L545.5,838.3L544.2,839.1L542.9,839.9L541.7,840.7L540.4,841.5L539.2,842.3L537.9,843.2L536.6,844.0L535.4,844.8L534.1,845.6L532.8,846.4L531.6,847.2L530.3,848.0L529.0,848.8L527.8,849.6L526.5,850.4L525.2,851.2L524.0,852.0L522.7,852.9L521.4,853.7L520.2,854.5L518.9,855.3L517.6,856.1L516.4,856.9L515.1,857.7L513.8,858.5L512.6,859.3L511.3,860.1L510.0,860.9L508.8,861.7L507.5,862.5L506.2,863.3L505.0,864.1L503.7,864.9L502.4,865.7L501.2,866.5L499.9,867.3L498.6,868.1L497.3,868.9L496.1,869.7L494.8,870.5L493.5,871.3L492.3,872.1L491.0,872.9L489.7,873.7L488.4,874.5L487.2,875.3L485.9,876.1L484.6,876.9L483.4,877.7L482.1,878.5L480.8,879.3L479.5,880.1L478.3,880.9L477.0,881.7L475.7,882.5L474.4,883.2L473.2,884.0L471.9,884.8L470.6,885.6L469.3,886.4L468.1,887.2L466.8,888.0L465.5,888.8L464.2,889.6L463.0,890.4L461.7,891.2L460.4,891.9L459.1,892.7L457.8,893.5L456.6,894.3L455.3,895.1L454.0,895.9L452.7,896.7L451.4,897.5L450.2,898.2L448.9,899.0L447.6,899.8L446.3,900.6L445.0,901.4L443.8,902.2L442.5,902.9L441.2,903.7L439.9,904.5L438.6,905.3L437.4,906.1L436.1,906.9L434.8,907.6L433.5,908.4L432.2,909.2L430.9,910.0L429.7,910.7L428.4,911.5L427.1,912.3L425.8,913.1L424.5,913.9L423.2,914.6L422.0,915.4L420.7,916.2L419.4,917.0L418.1,917.7L416.8,918.5L415.5,919.3L414.2,920.0L412.9,920.8L411.7,921.6L410.4,922.4L409.1,923.1L407.8,923.9L406.5,924.7L405.2,925.4L403.9,926.2L402.6,927.0L401.3,927.7L400.1,928.5L398.8,929.3L397.5,930.0L396.2,930.8L394.9,931.6L393.6,932.3L392.3,933.1L391.0,933.9L389.7,934.6L388.4,935.4L387.1,936.1L385.8,936.9L384.5,937.7L383.2,938.4L382.0,939.2L380.7,939.9L379.4,940.7L378.1,941.5L376.8,942.2L375.5,943.0L374.2,943.7L372.9,944.5L371.6,945.2L370.3,946.0L369.0,946.8L367.7,947.5L366.4,948.3L365.1,949.0L363.8,949.8L362.5,950.5L361.2,951.3L359.9,952.0L358.6,952.8L357.3,953.5L356.0,954.3L354.7,955.0L353.4,955.8L352.1,956.5L350.8,957.2L349.5,958.0L348.2,958.7L346.9,959.5L345.6,960.2L344.3,961.0L342.9,961.7L341.6,962.4L340.3,963.2L339.0,963.9L337.7,964.7L336.4,965.4L335.1,966.1L333.8,966.9L332.5,967.6L331.2,968.3L329.9,969.1L328.6,969.8L327.3,970.6L325.9,971.3L324.6,972.0L323.3,972.7L322.0,973.5L320.7,974.2L319.4,974.9L318.1,975.7L316.8,976.4L315.5,977.1L314.2,977.8L313.0,978.5L311.7,979.2L310.5,979.9L309.3,980.6L308.1,981.2L306.9,981.9L305.9,982.5L304.8,983.1L303.8,983.7L302.9,984.2L302.1,984.7L301.3,985.1L297.3,987.6" fill="none" stroke="#000000" stroke-width="3" stroke-linejoin="round" stroke-linecap="round" clip-path="url(#ca)" />
<path d="M1756.0,60.3L1752.6,63.6L1751.9,64.2L1751.2,64.8L1750.4,65.5L1749.6,66.3L1748.7,67.1L1747.8,68.0L1746.9,68.9L1745.9,69.8L1744.8,70.7L1743.8,71.6L1742.7,72.6L1741.6,73.5L1740.5,74.5L1739.4,75.5L1738.3,76.4L1737.1,77.4L1736.0,78.4L1734.8,79.4L1733.7,80.3L1732.6,81.3L1731.4,82.3L1730.3,83.2L1729.1,84.2L1728.0,85.2L1726.8,86.1L1725.7,87.1L1724.5,88.1L1723.4,89.0L1722.2,90.0L1721.1,91.0L1720.0,91.9L1718.8,92.9L1717.7,93.9L1716.5,94.9L1715.4,95.8L1714.3,96.8L1713.1,97.8L1712.0,98.8L1710.8,99.8L1709.7,100.8L1708.6,101.7L1707.4,102.7L1706.3,103.7L1705.2,104.7L1704.0,105.7L1702.9,106.7L1701.8,107.7L1700.7,108.7L1699.5,109.6L1698.4,110.6L1697.3,111.6L1696.2,112.6L1695.1,113.6L1693.9,114.6L1692.8,115.7L1691.7,116.7L1690.6,117.7L1689.5,118.7L1688.4,119.7L1687.3,120.7L1686.2,121.8L1685.1,122.8L1684.0,123.8L1683.0,124.9L1681.9,125.9L1680.8,126.9L1679.7,128.0L1678.7,129.0L1677.6,130.1L1676.5,131.2L1675.5,132.2L1674.4,133.3L1673.4,134.4L1672.3,135.5L1671.3,136.6L1670.3,137.6L1669.3,138.7L1668.2,139.8L1667.2,140.9L1666.2,142.1L1665.2,143.2L1664.2,144.3L1663.2,145.4L1662.3,146.6L1661.3,147.7L1660.3,148.8L1659.3,150.0L1658.3,151.1L1657.4,152.3L1656.4,153.4L1655.5,154.6L1654.5,155.7L1653.6,156.9L1652.6,158.0L1651.6,159.2L1650.7,160.4L1649.8,161.5L1648.8,162.7L1647.9,163.9L1646.9,165.0L1646.0,166.2L1645.0,167.4L1644.1,168.5L1643.1,169.7L1642.2,170.9L1641.2,172.0L1640.3,173.2L1639.3,174.3L1638.4,175.5L1637.4,176.7L1636.5,177.8L1635.5,179.0L1634.6,180.1L1633.6,181.3L1632.6,182.4L1631.6,183.6L1630.7,184.7L1629.7,185.8L1628.7,187.0L1627.7,188.1L1626.7,189.2L1625.7,190.3L1624.7,191.5L1623.7,192.6L1622.7,193.7L1621.7,194.8L1620.7,195.9L1619.7,197.0L1618.7,198.1L1617.6,199.2L1616.6,200.3L1615.6,201.4L1614.6,202.5L1613.5,203.6L1612.5,204.7L1611.5,205.8L1610.4,206.8L1609.4,207.9L1608.3,209.0L1607.3,210.1L1606.2,211.2L1605.2,212.2L1604.2,213.3L1603.1,214.4L1602.0,215.5L1601.0,216.5L1599.9,217.6L1598.9,218.7L1597.8,219.7L1596.7,220.8L1595.7,221.8L1594.6,222.9L1593.5,223.9L1592.5,225.0L1591.4,226.0L1590.3,227.1L1589.2,228.1L1588.2,229.2L1587.1,230.2L1586.0,231.2L1584.9,232.3L1583.8,233.3L1582.7,234.3L1581.6,235.3L1580.5,236.4L1579.4,237.4L1578.3,238.4L1577.2,239.4L1576.1,240.4L1574.9,241.4L1573.8,242.4L1572.7,243.4L1571.6,244.4L1570.4,245.4L1569.3,246.3L1568.2,247.3L1567.0,248.3L1565.9,249.3L1564.7,250.2L1563.6,251.2L1562.4,252.2L1561.3,253.1L1560.1,254.1L1559.0,255.0L1557.8,256.0L1556.6,256.9L1555.5,257.8L1554.3,258.8L1553.1,259.7L1551.9,260.7L1550.8,261.6L1549.6,262.5L1548.4,263.4L1547.2,264.4L1546.0,265.3L1544.9,266.2L1543.7,267.1L1542.5,268.1L1541.3,269.0L1540.1,269.9L1538.9,270.8L1537.7,271.7L1536.5,272.7L1535.4,273.6L1534.2,274.5L1533.0,275.4L1531.8,276.3L1530.6,277.2L1529.4,278.1L1528.2,279.0L1527.0,279.9L1525.8,280.8L1524.6,281.7L1523.4,282.6L1522.2,283.5L1520.9,284.4L1519.7,285.2L1518.5,286.1L1517.3,287.0L1516.1,287.9L1514.9,288.8L1513.6,289.6L1512.4,290.5L1511.2,291.3L1509.9,292.2L1508.7,293.1L1507.5,293.9L1506.2,294.8L1505.0,295.6L1503.7,296.4L1502.5,297.3L1501.3,298.1L1500.0,298.9L1498.7,299.7L1497.5,300.6L1496.2,301.4L1495.0,302.2L1493.7,303.0L1492.4,303.8L1491.2,304.6L1489.9,305.4L1488.6,306.2L1487.4,307.0L1486.1,307.8L1484.8,308.6L1483.6,309.4L1482.3,310.2L1481.0,311.0L1479.7,311.8L1478.4,312.6L1477.2,313.3L1475.9,314.1L1474.6,314.9L1473.3,315.7L1472.0,316.4L1470.7,317.2L1469.4,318.0L1468.1,318.7L1466.8,319.5L1465.5,320.2L1464.2,321.0L1462.9,321.7L1461.6,322.5L1460.3,323.2L1459.0,324.0L1457.7,324.7L1456.4,325.4L1455.1,326.2L1453.8,326.9L1452.5,327.6L1451.1,328.3L1449.8,329.0L1448.5,329.7L1447.2,330.5L1445.9,331.2L1444.5,331.9L1443.2,332.6L1441.9,333.2L1440.5,333.9L1439.2,334.6L1437.9,335.3L1436.5,336.0L1435.2,336.6L1433.8,337.3L1432.5,338.0L1431.1,338.6L1429.8,339.2L1428.4,339.9L1427.1,340.5L1425.7,341.2L1424.3,341.8L1423.0,342.4L1421.6,343.0L1420.2,343.6L1418.8,344.2L1417.5,344.8L1416.1,345.4L1414.7,346.0L1413.3,346.6L1412.0,347.2L1410.6,347.8L1409.2,348.4L1407.8,349.0L1406.4,349.5L1405.1,350.1L1403.7,350.7L1402.3,351.3L1400.9,351.9L1399.5,352.5L1398.2,353.1L1396.8,353.7L1395.4,354.3L1394.0,354.9L1392.7,355.5L1391.3,356.1L1389.9,356.7L1388.5,357.3L1387.2,357.9L1385.8,358.5L1384.4,359.1L1383.0,359.6L1381.6,360.2L1380.2,360.8L1378.8,361.3L1377.4,361.9L1376.0,362.4L1374.6,363.0L1373.2,363.5L1371.8,364.0L1370.4,364.5L1369.0,365.0L1367.6,365.5L1366.2,366.0L1364.8,366.5L1363.3,367.0L1361.9,367.4L1360.5,367.9L1359.1,368.4L1357.6,368.8L1356.2,369.2L1354.8,369.7L1353.3,370.1L1351.9,370.5L1350.4,370.9L1349.0,371.3L1347.5,371.7L1346.1,372.1L1344.6,372.5L1343.2,372.9L1341.7,373.2L1340.3,373.6L1338.8,373.9L1337.4,374.2L1335.9,374.6L1334.4,374.9L1333.0,375.2L1331.5,375.5L1330.0,375.8L1328.5,376.1L1327.1,376.4L1325.6,376.6L1324.1,376.9L1322.6,377.1L1321.2,377.4L1319.7,377.7L1318.2,377.9L1316.7,378.1L1315.2,378.4L1313.7,378.6L1312.3,378.8L1310.8,379.0L1309.3,379.2L1307.8,379.4L1306.3,379.6L1304.8,379.8L1303.3,380.0L1301.9,380.2L1300.4,380.4L1298.9,380.5L1297.4,380.7L1295.9,380.9L1294.4,381.0L1292.9,381.2L1291.4,381.3L1289.9,381.5L1288.4,381.6L1286.9,381.7L1285.4,381.9L1283.9,382.0L1282.4,382.1L1280.9,382.3L1279.5,382.4L1278.0,382.5L1276.5,382.6L1275.0,382.7L1273.5,382.9L1272.0,383.0L1270.5,383.1L1269.0,383.2L1267.5,383.3L1266.0,383.4L1264.5,383.6L1263.0,383.7L1261.5,383.8L1260.1,384.0L1258.6,384.1L1257.1,384.2L1255.6,384.3L1254.1,384.3L1252.6,384.3L1251.0,384.3L1249.5,384.3L1248.1,384.7L1246.8,385.5L1245.6,386.3L1244.4,387.2L1243.1,388.1L1241.8,388.9L1240.5,389.6L1239.2,390.3L1237.9,391.1L1236.6,391.8L1235.4,392.6L1234.1,393.3L1232.8,394.1L1231.5,394.8L1230.2,395.6L1228.9,396.4L1227.7,397.2L1226.4,398.0L1225.1,398.7L1223.8,399.5L1222.5,400.3L1221.2,401.1L1220.0,401.8L1218.7,402.6L1217.4,403.4L1216.1,404.1L1214.8,404.9L1213.5,405.7L1212.2,406.4L1210.9,407.2L1209.6,407.9L1208.3,408.7L1207.0,409.4L1205.7,410.1L1204.4,410.9L1203.1,411.6L1201.8,412.4L1200.5,413.1L1199.2,413.8L1197.9,414.6L1196.6,415.3L1195.2,416.1L1193.9,416.8L1192.6,417.5L1191.3,418.3L1190.0,419.0L1188.7,419.8L1187.4,420.5L1186.1,421.2L1184.8,422.0L1183.5,422.7L1182.2,423.5L1180.9,424.2L1179.6,425.0L1178.3,425.7L1177.0,426.5L1175.7,427.2L1174.4,428.0L1173.1,428.7L1171.8,429.5L1170.5,430.2L1169.2,431.0L1167.9,431.7L1166.6,432.5L1165.3,433.2L1164.0,434.0L1162.7,434.7L1161.4,435.5L1160.1,436.2L1158.8,437.0L1157.5,437.7L1156.2,438.5L1154.9,439.3L1153.6,440.0L1152.3,440.8L1151.0,441.5L1149.7,442.3L1148.4,443.1L1147.1,443.8L1145.9,444.6L1144.6,445.3L1143.3,446.1L1142.0,446.9L1140.7,447.6L1139.4,448.4L1138.1,449.2L1136.8,449.9L1135.5,450.7L1134.2,451.4L1132.9,452.2L1131.6,453.0L1130.4,453.8L1129.1,454.5L1127.8,455.3L1126.5,456.1L1125.2,456.8L1123.9,457.6L1122.6,458.4L1121.3,459.1L1120.0,459.9L1118.8,460.7L1117.5,461.5L1116.2,462.2L1114.9,463.0L1113.6,463.8L1112.3,464.6L1111.0,465.3L1109.8,466.1L1108.5,466.9L1107.2,467.7L1105.9,468.4L1104.6,469.2L1103.3,470.0L1102.1,470.8L1100.8,471.5L1099.5,472.3L1098.2,473.1L1096.9,473.9L1095.6,474.7L1094.4,475.5L1093.1,476.2L1091.8,477.0L1090.5,477.8L1089.2,478.6L1088.0,479.4L1086.7,480.1L1085.4,480.9L1084.1,481.7L1082.8,482.5L1081.6,483.3L1080.3,484.1L1079.0,484.9L1077.7,485.7L1076.5,486.4L1075.2,487.2L1073.9,488.0L1072.6,488.8L1071.3,489.6L1070.1,490.4L1068.8,491.2L1067.5,492.0L1066.2,492.8L1065.0,493.6L1063.7,494.3L1062.4,495.1L1061.1,495.9L1059.9,496.7L1058.6,497.5L1057.3,498.3L1056.0,499.1L1054.8,499.9L1053.5,500.7L1052.2,501.5L1051.0,502.3L1049.7,503.1L1048.4,503.9L1047.1,504.7L1045.9,505.5L1044.6,506.3L1043.3,507.1L1042.1,507.9L1040.8,508.7L1039.5,509.5L1038.2,510.3L1037.0,511.1L1035.7,511.9L1034.4,512.7L1033.2,513.5L1031.9,514.3L1030.6,515.1L1029.4,515.9L1028.1,516.7L1026.8,517.5L1025.6,518.3L1024.3,519.1L1023.0,519.9L1021.8,520.7L1020.5,521.5L1019.2,522.3L1018.0,523.1L1016.7,523.9L1015.4,524.7L1014.2,525.5L1012.9,526.3L1011.6,527.1L1010.4,528.0L1009.1,528.8L1007.8,529.6L1006.6,530.4L1005.3,531.2L1004.0,532.0L1002.8,532.8L1001.5,533.6L1000.2,534.4L999.0,535.2L997.7,536.0L996.5,536.9L995.2,537.7L993.9,538.5L992.7,539.3L991.4,540.1L990.1,540.9L988.9,541.7L987.6,542.5L986.4,543.4L985.1,544.2L983.8,545.0L982.6,545.8L981.3,546.6L980.1,547.4L978.8,548.2L977.5,549.1L976.3,549.9L975.0,550.7L973.7,551.5L972.5,552.3L971.2,553.1L970.0,554.0L968.7,554.8L967.5,555.6L966.2,556.4L964.9,557.2L963.7,558.0L962.4,558.9L961.2,559.7L959.9,560.5L958.6,561.3L957.4,562.1L956.1,563.0L954.9,563.8L953.6,564.6L952.4,565.4L951.1,566.2L949.8,567.1L948.6,567.9L947.3,568.7L946.1,569.5L944.8,570.3L943.6,571.2L942.3,572.0L941.1,572.8L939.8,573.6L938.5,574.5L937.3,575.3L936.0,576.1L934.8,576.9L933.5,577.8L932.3,578.6L931.0,579.4L929.8,580.2L928.5,581.1L927.3,581.9L926.0,582.7L924.8,583.5L923.5,584.4L922.2,585.2L921.0,586.0L919.7,586.8L918.5,587.7L917.2,588.5L916.0,589.3L914.7,590.1L913.5,591.0L912.2,591.8L911.0,592.6L909.7,593.5L908.5,594.3L907.2,595.1L906.0,595.9L904.7,596.8L903.5,597.6L902.2,598.4L901.0,599.3L899.7,600.1L898.5,600.9L897.2,601.7L896.0,602.6L894.7,603.4L893.5,604.2L892.2,605.1L891.0,605.9L889.7,606.7L888.5,607.6L887.2,608.4L886.0,609.2L884.7,610.0L883.5,610.9L882.2,611.7L881.0,612.5L879.7,613.4L878.5,614.2L877.2,615.0L876.0,615.9L874.7,616.7L873.5,617.5L872.2,618.4L871.0,619.2L869.7,620.0L868.5,620.9L867.2,621.7L866.0,622.5L864.7,623.4L863.5,624.2L862.2,625.0L861.0,625.9L859.7,626.7L858.5,627.5L857.2,628.4L856.0,629.2L854.7,630.0L853.5,630.9L852.2,631.7L851.0,632.5L849.8,633.4L848.5,634.2L847.3,635.0L846.0,635.9L844.8,636.7L843.5,637.6L842.3,638.4L841.0,639.2L839.8,640.1L838.5,640.9L837.3,641.7L836.0,642.6L834.8,643.4L833.5,644.2L832.3,645.1L831.1,645.9L829.8,646.8L828.6,647.6L827.3,648.4L826.1,649.3L824.8,650.1L823.6,650.9L822.3,651.8L821.1,652.6L819.8,653.4L818.6,654.3L817.3,655.1L816.1,656.0L814.9,656.8L813.6,657.6L812.4,658.5L811.1,659.3L809.9,660.1L808.6,661.0L807.4,661.8L806.1,662.7L804.9,663.5L803.6,664.3L802.4,665.2L801.2,666.0L799.9,666.9L798.7,667.7L797.4,668.5L796.2,669.4L794.9,670.2L793.7,671.0L792.4,671.9L791.2,672.7L790.0,673.6L788.7,674.4L787.5,675.2L786.2,676.1L785.0,676.9L783.7,677.7L782.5,678.6L781.2,679.4L780.0,680.3L778.7,681.1L777.5,681.9L776.3,682.8L775.0,683.6L773.8,684.5L772.5,685.3L771.3,686.1L770.0,687.0L768.8,687.8L767.5,688.7L766.3,689.5L765.1,690.3L763.8,691.2L762.6,692.0L761.3,692.8L760.1,693.7L758.8,694.5L757.6,695.4L756.3,696.2L755.1,697.0L753.9,697.9L752.6,698.7L751.4,699.6L750.1,700.4L748.9,701.2L747.6,702.1L746.4,702.9L745.1,703.8L743.9,704.6L742.6,705.4L741.4,706.3L740.2,707.1L738.9,707.9L737.7,708.8L736.4,709.6L735.2,710.5L733.9,711.3L732.7,712.1L731.4,713.0L730.2,713.8L729.0,714.7L727.7,715.5L726.5,716.3L725.2,717.2L724.0,718.0L722.7,718.8L721.5,719.7L720.2,720.5L719.0,721.4L717.7,722.2L716.5,723.0L715.3,723.9L714.0,724.7L712.8,725.5L711.5,726.4L710.3,727.2L709.0,728.1L707.8,728.9L706.5,729.7L705.3,730.6L704.0,731.4L702.8,732.2L701.6,733.1L700.3,733.9L699.1,734.8L697.8,735.6L696.6,736.4L695.3,737.3L694.1,738.1L692.8,738.9L691.6,739.8L690.3,740.6L689.1,741.4L687.8,742.3L686.6,743.1L685.4,744.0L684.1,744.8L682.9,745.6L681.6,746.5L680.4,747.3L679.1,748.1L677.9,749.0L676.6,749.8L675.4,750.6L674.1,751.5L672.9,752.3L671.6,753.1L670.4,754.0L669.1,754.8L667.9,755.6L666.6,756.5L665.4,757.3L664.1,758.1L662.9,759.0L661.7,759.8L660.4,760.6L659.2,761.5L657.9,762.3L656.7,763.1L655.4,764.0L654.2,764.8L652.9,765.6L651.7,766.5L650.4,767.3L649.2,768.1L647.9,769.0L646.7,769.8L645.4,770.6L644.2,771.5L642.9,772.3L641.7,773.1L640.4,774.0L639.2,774.8L637.9,775.6L636.7,776.5L635.4,777.3L634.2,778.1L632.9,778.9L631.7,779.8L630.4,780.6L629.2,781.4L627.9,782.3L626.7,783.1L625.4,783.9L624.2,784.8L622.9,785.6L621.7,786.4L620.4,787.2L619.2,788.1L617.9,788.9L616.7,789.7L615.4,790.6L614.1,791.4L612.9,792.2L611.6,793.0L610.4,793.9L609.1,794.7L607.9,795.5L606.6,796.3L605.4,797.2L604.1,798.0L602.9,798.8L601.6,799.6L600.4,800.5L599.1,801.3L597.9,802.1L596.6,803.0L595.4,803.8L594.1,804.6L592.8,805.4L591.6,806.2L590.3,807.1L589.1,807.9L587.8,808.7L586.6,809.5L585.3,810.4L584.1,811.2L582.8,812.0L581.5,812.8L580.3,813.7L579.0,814.5L577.8,815.3L576.5,816.1L575.3,816.9L574.0,817.8L572.8,818.6L571.5,819.4L570.2,820.2L569.0,821.0L567.7,821.9L566.5,822.7L565.2,823.5L564.0,824.3L562.7,825.1L561.4,826.0L560.2,826.8L558.9,827.6L557.7,828.4L556.4,829.2L555.1,830.0L553.9,830.9L552.6,831.7L551.4,832.5L550.1,833.3L548.8,834.1L547.6,834.9L546.3,835.8L545.1,836.6L543.8,837.4L542.5,838.2L541.3,839.0L540.0,839.8L538.8,840.6L537.5,841.5L536.2,842.3L535.0,843.1L533.7,843.9L532.4,844.7L531.2,845.5L529.9,846.3L528.7,847.1L527.4,847.9L526.1,848.8L524.9,849.6L523.6,850.4L522.3,851.2L521.1,852.0L519.8,852.8L518.5,853.6L517.3,854.4L516.0,855.2L514.8,856.0L513.5,856.8L512.2,857.6L511.0,858.5L509.7,859.3L508.4,860.1L507.2,860.9L505.9,861.7L504.6,862.5L503.4,863.3L502.1,864.1L500.8,864.9L499.6,865.7L498.3,866.5L497.0,867.3L495.7,868.1L494.5,868.9L493.2,869.7L491.9,870.5L490.7,871.3L489.4,872.1L488.1,872.9L486.9,873.7L485.6,874.5L484.3,875.3L483.1,876.1L481.8,876.9L480.5,877.7L479.2,878.5L478.0,879.3L476.7,880.1L475.4,880.9L474.1,881.7L472.9,882.5L471.6,883.3L470.3,884.1L469.1,884.9L467.8,885.7L466.5,886.5L465.2,887.3L464.0,888.0L462.7,888.8L461.4,889.6L460.1,890.4L458.9,891.2L457.6,892.0L456.3,892.8L455.0,893.6L453.8,894.4L452.5,895.2L451.2,895.9L449.9,896.7L448.6,897.5L447.4,898.3L446.1,899.1L444.8,899.9L443.5,900.7L442.3,901.5L441.0,902.2L439.7,903.0L438.4,903.8L437.1,904.6L435.9,905.4L434.6,906.2L433.3,906.9L432.0,907.7L430.7,908.5L429.4,909.3L428.2,910.1L426.9,910.8L425.6,911.6L424.3,912.4L423.0,913.2L421.8,914.0L420.5,914.7L419.2,915.5L417.9,916.3L416.6,917.1L415.3,917.8L414.0,918.6L412.8,919.4L411.5,920.2L410.2,920.9L408.9,921.7L407.6,922.5L406.3,923.3L405.0,924.0L403.8,924.8L402.5,925.6L401.2,926.3L399.9,927.1L398.6,927.9L397.3,928.7L396.0,929.4L394.7,930.2L393.4,931.0L392.2,931.7L390.9,932.5L389.6,933.3L388.3,934.0L387.0,934.8L385.7,935.6L384.4,936.3L383.1,937.1L381.8,937.8L380.5,938.6L379.2,939.4L377.9,940.1L376.6,940.9L375.3,941.6L374.1,942.4L372.8,943.2L371.5,943.9L370.2,944.7L368.9,945.4L367.6,946.2L366.3,946.9L365.0,947.7L363.7,948.5L362.4,949.2L361.1,950.0L359.8,950.7L358.5,951.5L357.2,952.2L355.9,953.0L354.6,953.7L353.3,954.5L352.0,955.2L350.7,956.0L349.4,956.7L348.1,957.5L346.8,958.2L345.5,959.0L344.2,959.7L342.9,960.4L341.6,961.2L340.3,961.9L339.0,962.7L337.7,963.4L336.4,964.2L335.0,964.9L333.7,965.6L332.4,966.4L331.1,967.1L329.8,967.9L328.5,968.6L327.2,969.3L325.9,970.1L324.6,970.8L323.3,971.5L322.0,972.3L320.7,973.0L319.4,973.7L318.1,974.5L316.8,975.2L315.5,975.9L314.2,976.6L312.9,977.3L311.7,978.0L310.4,978.7L309.2,979.4L308.1,980.1L306.9,980.7L305.8,981.3L304.8,981.9L303.8,982.5L302.9,983.0L302.1,983.5L301.3,983.9L297.3,986.4" fill="none" stroke="#2cb02c" stroke-width="5" stroke-linejoin="round" stroke-linecap="round" clip-path="url(#ca)" />
<path d="M304.1,1076.2L307.8,1074.7L308.7,1074.4L309.6,1074.0L310.7,1073.6L311.8,1073.1L313.0,1072.6L314.2,1072.1L315.5,1071.6L316.8,1071.1L318.1,1070.6L319.5,1070.0L320.9,1069.4L322.2,1068.9L323.6,1068.3L325.0,1067.8L326.4,1067.2L327.8,1066.6L329.1,1066.0L330.5,1065.5L331.9,1064.9L333.3,1064.3L334.7,1063.7L336.1,1063.1L337.4,1062.5L338.8,1061.9L340.2,1061.3L341.6,1060.7L342.9,1060.1L344.3,1059.6L345.7,1059.0L347.1,1058.4L348.5,1057.8L349.8,1057.2L351.2,1056.6L352.6,1056.0L354.0,1055.4L355.4,1054.8L356.7,1054.2L358.1,1053.6L359.5,1053.0L360.9,1052.5L362.3,1051.9L363.6,1051.3L365.0,1050.7L366.4,1050.1L367.8,1049.6L369.2,1049.0L370.6,1048.4L372.0,1047.9L373.4,1047.3L374.7,1046.7L376.1,1046.2L377.5,1045.6L378.9,1045.0L380.3,1044.5L381.7,1043.9L383.1,1043.4L384.5,1042.8L385.9,1042.3L387.3,1041.7L388.7,1041.1L390.1,1040.6L391.5,1040.0L392.9,1039.5L394.3,1038.9L395.6,1038.4L397.0,1037.8L398.4,1037.2L399.8,1036.7L401.2,1036.1L402.6,1035.6L404.0,1035.0L405.4,1034.4L406.8,1033.9L408.2,1033.3L409.6,1032.8L411.0,1032.2L412.4,1031.7L413.8,1031.1L415.2,1030.5L416.5,1030.0L417.9,1029.4L419.3,1028.9L420.7,1028.3L422.1,1027.8L423.5,1027.2L424.9,1026.6L426.3,1026.1L427.7,1025.5L429.1,1024.9L430.5,1024.4L431.8,1023.8L433.2,1023.2L434.6,1022.6L436.0,1022.1L437.4,1021.5L438.8,1020.9L440.1,1020.3L441.5,1019.7L442.9,1019.1L444.2,1018.4L445.6,1017.8L447.0,1017.2L448.3,1016.6L449.7,1015.9L451.0,1015.3L452.4,1014.6L453.8,1014.0L455.1,1013.4L456.5,1012.7L457.8,1012.1L459.2,1011.4L460.5,1010.8L461.9,1010.1L463.2,1009.5L464.6,1008.8L465.9,1008.2L467.3,1007.5L468.7,1006.9L470.0,1006.3L471.4,1005.7L472.8,1005.0L474.1,1004.4L475.5,1003.8L476.9,1003.2L478.3,1002.7L479.6,1002.1L481.0,1001.5L482.4,1000.9L483.8,1000.4L485.2,999.9L486.6,999.3L488.0,998.8L489.4,998.3L490.8,997.8L492.2,997.3L493.7,996.8L495.1,996.3L496.5,995.8L497.9,995.3L499.4,994.9L500.8,994.4L502.2,994.0L503.7,993.5L505.1,993.1L506.5,992.7L508.0,992.2L509.4,991.8L510.9,991.4L512.3,991.0L513.7,990.6L515.2,990.2L516.6,989.8L518.1,989.5L519.5,989.1L521.0,988.7L522.4,988.3L523.9,988.0L525.4,987.6L526.8,987.2L528.3,986.9L529.7,986.5L531.2,986.2L532.7,985.9L534.1,985.5L535.6,985.2L537.1,984.9L538.5,984.6L540.0,984.4L541.5,984.1L543.0,983.9L544.4,983.6L545.9,983.4L547.4,983.2L548.9,983.0L550.4,982.8L551.9,982.7L553.4,982.5L554.8,982.4L556.3,982.2L557.8,982.1L559.3,982.0L560.8,981.9L562.3,981.8L563.8,981.7L565.3,981.7L566.8,981.6L568.3,981.5L569.8,981.5L571.3,981.5L572.8,981.5L574.3,981.4L575.8,981.4L577.3,981.5L578.8,981.5L580.3,981.5L581.8,981.6L583.3,981.6L584.8,981.7L586.3,981.8L587.8,981.9L589.3,982.1L590.7,982.2L592.2,982.4L593.7,982.6L595.2,982.9L596.7,983.1L598.1,983.4L599.6,983.7L601.0,984.1L602.5,984.4L603.9,984.8L605.4,985.2L606.8,985.7L608.2,986.1L609.6,986.6L611.1,987.1L612.5,987.6L613.9,988.1L615.3,988.6L616.6,989.2L618.0,989.8L619.4,990.4L620.8,991.0L622.1,991.6L623.4,992.3L624.7,993.0L626.0,993.7L627.3,994.5L628.6,995.2L629.8,996.1L631.1,996.9L632.3,997.8L633.4,998.7L634.6,999.6L635.7,1000.6L636.9,1001.5L638.0,1002.5L639.1,1003.5L640.2,1004.6L641.3,1005.6L642.3,1006.7L643.4,1007.7L644.4,1008.8L645.5,1009.9L646.5,1010.9L647.5,1012.0L648.5,1013.2L649.5,1014.3L650.5,1015.4L651.5,1016.5L652.4,1017.7L653.3,1018.9L654.2,1020.1L655.1,1021.3L655.9,1022.5L656.8,1023.7L657.6,1025.0L658.3,1026.2L659.1,1027.5L659.9,1028.8L660.6,1030.1L661.3,1031.4L662.0,1032.7L662.8,1034.1L663.5,1035.4L664.2,1036.7L664.9,1038.0L665.6,1039.4L666.3,1040.7L667.0,1042.0L667.6,1043.3L668.3,1044.7L669.0,1046.0L669.7,1047.4L670.3,1048.7L671.0,1050.1L671.6,1051.4L672.3,1052.8L672.9,1054.1L673.5,1055.5L674.2,1056.8L674.8,1058.2L675.4,1059.6L676.1,1060.9L676.7,1062.3L677.3,1063.7L678.0,1065.0L678.6,1066.4L679.2,1067.7L679.8,1069.1L680.4,1070.5L681.1,1071.8L681.7,1073.2L682.3,1074.6L682.9,1076.0L683.5,1077.3L684.1,1078.7L684.6,1080.1L685.2,1081.5L685.8,1082.9L686.4,1084.3L687.0,1085.6L687.6,1087.0L688.2,1088.4L688.7,1089.8L689.3,1091.2L689.9,1092.5L690.5,1093.9L691.1,1095.3L691.8,1096.6L692.4,1098.0L693.0,1099.4L693.7,1100.7L694.4,1102.0L695.0,1103.4L695.7,1104.7L696.4,1106.0L697.2,1107.3L697.9,1108.6L698.6,1109.9L699.4,1111.2L700.2,1112.5L701.0,1113.8L701.8,1115.0L702.6,1116.3L703.4,1117.5L704.3,1118.8L705.2,1120.0L706.0,1121.2L706.9,1122.4L707.8,1123.5L708.8,1124.7L709.7,1125.8L710.7,1126.9L711.7,1128.0L712.6,1129.1L713.6,1130.3L714.7,1131.3L715.8,1132.4L716.9,1133.4L718.1,1134.3L719.3,1134.7L720.7,1134.2L722.0,1133.5L723.3,1132.7L724.6,1131.9L725.8,1131.0L726.9,1130.1L728.1,1129.2L729.3,1128.3L730.5,1127.4L731.6,1126.5L732.8,1125.5L733.9,1124.6L735.0,1123.6L736.2,1122.6L737.3,1121.6L738.4,1120.6L739.5,1119.6L740.6,1118.6L741.7,1117.5L742.7,1116.5L743.8,1115.5L744.9,1114.4L745.9,1113.3L747.0,1112.3L748.1,1111.2L749.1,1110.2L750.2,1109.1L751.2,1108.0L752.3,1107.0L753.3,1105.9L754.4,1104.8L755.5,1103.8L756.5,1102.7L757.6,1101.7L758.7,1100.6L759.7,1099.6L760.8,1098.5L761.9,1097.5L763.0,1096.4L764.0,1095.4L765.1,1094.3L766.2,1093.3L767.3,1092.2L768.3,1091.2L769.4,1090.2L770.5,1089.1L771.6,1088.1L772.6,1087.0L773.7,1086.0L774.8,1084.9L775.8,1083.8L776.9,1082.8L778.0,1081.7L779.0,1080.7L780.1,1079.6L781.1,1078.5L782.2,1077.5L783.2,1076.4L784.3,1075.3L785.3,1074.2L786.4,1073.1L787.4,1072.1L788.4,1071.0L789.4,1069.9L790.4,1068.7L791.4,1067.6L792.4,1066.5L793.4,1065.4L794.3,1064.2L795.3,1063.1L796.3,1062.0L797.2,1060.8L798.2,1059.7L799.2,1058.6L800.2,1057.5L801.2,1056.5L802.2,1055.5L803.2,1054.5L804.3,1053.5L805.4,1052.6L806.5,1051.7L807.6,1050.8L808.8,1049.9L809.9,1049.0L811.0,1048.1L812.2,1047.2L813.3,1046.2L814.4,1045.3L815.5,1044.3L816.5,1043.3L817.6,1042.2L818.7,1041.2L819.7,1040.1L820.7,1039.1L821.8,1038.0L822.8,1036.9L823.8,1035.8L824.8,1034.7L825.9,1033.6L826.9,1032.5L827.9,1031.4L828.9,1030.3L830.0,1029.2L831.0,1028.1L832.0,1027.0L833.0,1025.9L834.1,1024.8L835.1,1023.7L836.1,1022.6L837.1,1021.6L838.2,1020.5L839.2,1019.4L840.2,1018.3L841.3,1017.2L842.3,1016.1L843.3,1015.0L844.3,1013.9L845.4,1012.8L846.4,1011.7L847.4,1010.6L848.5,1009.5L849.5,1008.5L850.5,1007.4L851.6,1006.3L852.6,1005.2L853.6,1004.1L854.7,1003.0L855.7,1001.9L856.7,1000.8L857.8,999.7L858.8,998.7L859.8,997.6L860.9,996.5L861.9,995.4L862.9,994.3L864.0,993.2L865.0,992.1L866.1,991.1L867.1,990.0L868.1,988.9L869.2,987.8L870.2,986.7L871.2,985.6L872.3,984.6L873.3,983.5L874.4,982.4L875.4,981.3L876.5,980.2L877.5,979.2L878.5,978.1L879.6,977.0L880.6,975.9L881.7,974.8L882.7,973.8L883.7,972.7L884.8,971.6L885.8,970.5L886.9,969.4L887.9,968.4L889.0,967.3L890.0,966.2L891.1,965.1L892.1,964.1L893.2,963.0L894.2,961.9L895.2,960.8L896.3,959.8L897.3,958.7L898.4,957.6L899.4,956.5L900.5,955.5L901.5,954.4L902.6,953.3L903.6,952.3L904.7,951.2L905.7,950.1L906.8,949.0L907.8,948.0L908.9,946.9L910.0,945.8L911.0,944.8L912.1,943.7L913.1,942.6L914.2,941.6L915.2,940.5L916.3,939.4L917.3,938.4L918.4,937.3L919.4,936.2L920.5,935.2L921.6,934.1L922.6,933.0L923.7,932.0L924.7,930.9L925.8,929.8L926.9,928.8L927.9,927.7L929.0,926.7L930.0,925.6L931.1,924.5L932.2,923.5L933.2,922.4L934.3,921.4L935.4,920.3L936.4,919.2L937.5,918.2L938.6,917.1L939.6,916.1L940.7,915.0L941.8,914.0L942.8,912.9L943.9,911.9L945.0,910.8L946.0,909.8L947.1,908.7L948.2,907.7L949.3,906.6L950.3,905.6L951.4,904.5L952.5,903.5L953.5,902.4L954.6,901.4L955.7,900.3L956.8,899.3L957.9,898.2L958.9,897.2L960.0,896.1L961.1,895.1L962.2,894.1L963.3,893.0L964.3,892.0L965.4,890.9L966.5,889.9L967.6,888.9L968.7,887.8L969.7,886.8L970.8,885.7L971.9,884.7L973.0,883.7L974.1,882.6L975.2,881.6L976.3,880.6L977.3,879.5L978.4,878.5L979.5,877.5L980.6,876.4L981.7,875.4L982.8,874.3L983.9,873.3L984.9,872.3L986.0,871.2L987.1,870.2L988.2,869.2L989.3,868.1L990.4,867.1L991.5,866.1L992.6,865.0L993.6,864.0L994.7,863.0L995.8,861.9L996.9,860.9L998.0,859.9L999.1,858.8L1000.2,857.8L1001.3,856.8L1002.4,855.7L1003.4,854.7L1004.5,853.7L1005.6,852.6L1006.7,851.6L1007.8,850.6L1008.9,849.5L1010.0,848.5L1011.0,847.5L1012.1,846.4L1013.2,845.4L1014.3,844.4L1015.4,843.3L1016.5,842.3L1017.6,841.2L1018.6,840.2L1019.7,839.2L1020.8,838.1L1021.9,837.1L1023.0,836.0L1024.1,835.0L1025.1,834.0L1026.2,832.9L1027.3,831.9L1028.4,830.8L1029.5,829.8L1030.5,828.8L1031.6,827.7L1032.7,826.7L1033.8,825.6L1034.9,824.6L1035.9,823.6L1037.0,822.5L1038.1,821.5L1039.2,820.4L1040.3,819.4L1041.3,818.3L1042.4,817.3L1043.5,816.2L1044.6,815.2L1045.7,814.2L1046.7,813.1L1047.8,812.1L1048.9,811.0L1050.0,810.0L1051.0,808.9L1052.1,807.9L1053.2,806.8L1054.3,805.8L1055.3,804.8L1056.4,803.7L1057.5,802.7L1058.6,801.6L1059.7,800.6L1060.7,799.5L1061.8,798.5L1062.9,797.4L1064.0,796.4L1065.0,795.3L1066.1,794.3L1067.2,793.3L1068.3,792.2L1069.3,791.2L1070.4,790.1L1071.5,789.1L1072.6,788.0L1073.6,787.0L1074.7,785.9L1075.8,784.9L1076.9,783.8L1077.9,782.8L1079.0,781.7L1080.1,780.7L1081.2,779.7L1082.3,778.6L1083.3,777.6L1084.4,776.5L1085.5,775.5L1086.6,774.4L1087.6,773.4L1088.7,772.3L1089.8,771.3L1090.9,770.3L1092.0,769.2L1093.0,768.2L1094.1,767.1L1095.2,766.1L1096.3,765.0L1097.3,764.0L1098.4,763.0L1099.5,761.9L1100.6,760.9L1101.7,759.8L1102.7,758.8L1103.8,757.7L1104.9,756.7L1106.0,755.7L1107.1,754.6L1108.1,753.6L1109.2,752.5L1110.3,751.5L1111.4,750.5L1112.5,749.4L1113.6,748.4L1114.6,747.3L1115.7,746.3L1116.8,745.3L1117.9,744.2L1119.0,743.2L1120.1,742.2L1121.2,741.1L1122.2,740.1L1123.3,739.1L1124.4,738.0L1125.5,737.0L1126.6,735.9L1127.7,734.9L1128.8,733.9L1129.9,732.9L1130.9,731.8L1132.0,730.8L1133.1,729.8L1134.2,728.7L1135.3,727.7L1136.4,726.7L1137.5,725.6L1138.6,724.6L1139.7,723.6L1140.8,722.6L1141.9,721.5L1143.0,720.5L1144.1,719.5L1145.1,718.4L1146.2,717.4L1147.3,716.4L1148.4,715.4L1149.5,714.3L1150.6,713.3L1151.7,712.3L1152.8,711.2L1153.9,710.2L1155.0,709.2L1156.1,708.2L1157.2,707.1L1158.3,706.1L1159.4,705.1L1160.5,704.1L1161.5,703.0L1162.6,702.0L1163.7,701.0L1164.8,699.9L1165.9,698.9L1167.0,697.9L1168.1,696.8L1169.2,695.8L1170.3,694.8L1171.4,693.8L1172.5,692.7L1173.6,691.7L1174.6,690.7L1175.7,689.6L1176.8,688.6L1177.9,687.6L1179.0,686.5L1180.1,685.5L1181.2,684.5L1182.3,683.4L1183.3,682.4L1184.4,681.3L1185.5,680.3L1186.6,679.3L1187.7,678.2L1188.8,677.2L1189.8,676.1L1190.9,675.1L1192.0,674.1L1193.1,673.0L1194.2,672.0L1195.2,670.9L1196.3,669.9L1197.4,668.8L1198.5,667.8L1199.5,666.8L1200.6,665.7L1201.7,664.7L1202.8,663.6L1203.8,662.6L1204.9,661.5L1206.0,660.5L1207.1,659.4L1208.1,658.4L1209.2,657.3L1210.3,656.3L1211.4,655.2L1212.4,654.2L1213.5,653.1L1214.6,652.1L1215.6,651.0L1216.7,650.0L1217.8,648.9L1218.8,647.9L1219.9,646.8L1221.0,645.8L1222.1,644.7L1223.1,643.7L1224.2,642.6L1225.3,641.5L1226.3,640.5L1227.4,639.4L1228.5,638.4L1229.5,637.3L1230.6,636.3L1231.7,635.2L1232.7,634.2L1233.8,633.1L1234.9,632.0L1235.9,631.0L1237.0,629.9L1238.1,628.9L1239.1,627.8L1240.2,626.8L1241.3,625.7L1242.3,624.6L1243.4,623.6L1244.4,622.5L1245.5,621.5L1246.6,620.4L1247.6,619.3L1248.7,618.3L1249.8,617.2L1250.8,616.2L1251.9,615.1L1253.0,614.1L1254.0,613.0L1255.1,611.9L1256.1,610.9L1257.2,609.8L1258.3,608.8L1259.3,607.7L1260.4,606.6L1261.4,605.6L1262.5,604.5L1263.6,603.4L1264.6,602.4L1265.7,601.3L1266.8,600.3L1267.8,599.2L1268.9,598.1L1269.9,597.1L1271.0,596.0L1272.1,595.0L1273.1,593.9L1274.2,592.8L1275.2,591.8L1276.3,590.7L1277.4,589.6L1278.4,588.6L1279.5,587.5L1280.5,586.5L1281.6,585.4L1282.7,584.3L1283.7,583.3L1284.8,582.2L1285.8,581.2L1286.9,580.1L1288.0,579.0L1289.0,578.0L1290.1,576.9L1291.2,575.9L1292.2,574.8L1293.3,573.7L1294.3,572.7L1295.4,571.6L1296.5,570.5L1297.5,569.5L1298.6,568.4L1299.6,567.4L1300.7,566.3L1301.8,565.2L1302.8,564.2L1303.9,563.1L1304.9,562.1L1306.0,561.0L1307.1,559.9L1308.1,558.9L1309.2,557.8L1310.3,556.7L1311.3,555.7L1312.4,554.6L1313.4,553.6L1314.5,552.5L1315.6,551.4L1316.6,550.4L1317.7,549.3L1318.7,548.2L1319.8,547.2L1320.8,546.1L1321.9,545.1L1323.0,544.0L1324.0,542.9L1325.1,541.9L1326.1,540.8L1327.2,539.7L1328.3,538.7L1329.3,537.6L1330.4,536.5L1331.4,535.5L1332.5,534.4L1333.5,533.3L1334.6,532.3L1335.6,531.2L1336.7,530.1L1337.8,529.1L1338.8,528.0L1339.9,526.9L1340.9,525.9L1342.0,524.8L1343.0,523.7L1344.1,522.7L1345.1,521.6L1346.2,520.5L1347.2,519.4L1348.3,518.4L1349.3,517.3L1350.4,516.2L1351.4,515.2L1352.5,514.1L1353.5,513.0L1354.6,511.9L1355.6,510.9L1356.7,509.8L1357.7,508.7L1358.8,507.6L1359.8,506.5L1360.8,505.5L1361.9,504.4L1362.9,503.3L1364.0,502.2L1365.0,501.2L1366.1,500.1L1367.1,499.0L1368.1,497.9L1369.2,496.8L1370.2,495.7L1371.3,494.7L1372.3,493.6L1373.3,492.5L1374.4,491.4L1375.4,490.3L1376.4,489.2L1377.5,488.2L1378.5,487.1L1379.6,486.0L1380.6,484.9L1381.6,483.8L1382.7,482.7L1383.7,481.6L1384.7,480.5L1385.7,479.5L1386.8,478.4L1387.8,477.3L1388.8,476.2L1389.9,475.1L1390.9,474.0L1391.9,472.9L1393.0,471.8L1394.0,470.7L1395.0,469.6L1396.0,468.5L1397.1,467.4L1398.1,466.3L1399.1,465.3L1400.2,464.2L1401.2,463.1L1402.2,462.0L1403.2,460.9L1404.3,459.8L1405.3,458.7L1406.3,457.6L1407.3,456.5L1408.4,455.4L1409.4,454.3L1410.4,453.2L1411.4,452.1L1412.4,451.0L1413.5,449.9L1414.5,448.8L1415.5,447.7L1416.5,446.6L1417.5,445.5L1418.6,444.4L1419.6,443.3L1420.6,442.2L1421.6,441.1L1422.6,440.0L1423.7,438.9L1424.7,437.8L1425.7,436.7L1426.7,435.6L1427.7,434.5L1428.8,433.4L1429.8,432.3L1430.8,431.2L1431.8,430.1L1432.8,429.0L1433.8,427.9L1434.9,426.7L1435.9,425.6L1436.9,424.5L1437.9,423.4L1438.9,422.3L1439.9,421.2L1440.9,420.1L1442.0,419.0L1443.0,417.9L1444.0,416.8L1445.0,415.7L1446.0,414.6L1447.0,413.5L1448.0,412.4L1449.1,411.3L1450.1,410.2L1451.1,409.0L1452.1,407.9L1453.1,406.8L1454.1,405.7L1455.1,404.6L1456.1,403.5L1457.1,402.4L1458.2,401.3L1459.2,400.2L1460.2,399.1L1461.2,398.0L1462.2,396.9L1463.2,395.7L1464.2,394.6L1465.2,393.5L1466.2,392.4L1467.3,391.3L1468.3,390.2L1469.3,389.1L1470.3,388.0L1471.3,386.9L1472.3,385.8L1473.3,384.6L1474.3,383.5L1475.3,382.4L1476.3,381.3L1477.3,380.2L1478.4,379.1L1479.4,378.0L1480.4,376.9L1481.4,375.8L1482.4,374.6L1483.4,373.5L1484.4,372.4L1485.4,371.3L1486.4,370.2L1487.4,369.1L1488.4,368.0L1489.5,366.9L1490.5,365.8L1491.5,364.6L1492.5,363.5L1493.5,362.4L1494.5,361.3L1495.5,360.2L1496.5,359.1L1497.5,358.0L1498.5,356.9L1499.5,355.7L1500.5,354.6L1501.5,353.5L1502.5,352.4L1503.5,351.3L1504.6,350.2L1505.6,349.1L1506.6,347.9L1507.6,346.8L1508.6,345.7L1509.6,344.6L1510.6,343.5L1511.6,342.3L1512.6,341.2L1513.6,340.1L1514.6,339.0L1515.6,337.9L1516.6,336.7L1517.5,335.6L1518.5,334.5L1519.5,333.4L1520.5,332.2L1521.5,331.1L1522.5,330.0L1523.5,328.9L1524.5,327.7L1525.5,326.6L1526.5,325.5L1527.5,324.4L1528.5,323.2L1529.5,322.1L1530.5,321.0L1531.4,319.9L1532.4,318.7L1533.4,317.6L1534.4,316.5L1535.4,315.3L1536.4,314.2L1537.4,313.1L1538.4,312.0L1539.4,310.8L1540.3,309.7L1541.3,308.6L1542.3,307.4L1543.3,306.3L1544.3,305.2L1545.3,304.1L1546.3,302.9L1547.3,301.8L1548.2,300.7L1549.2,299.5L1550.2,298.4L1551.2,297.3L1552.2,296.1L1553.2,295.0L1554.2,293.9L1555.2,292.8L1556.2,291.6L1557.2,290.5L1558.1,289.4L1559.1,288.3L1560.1,287.1L1561.1,286.0L1562.1,284.9L1563.1,283.7L1564.1,282.6L1565.1,281.5L1566.1,280.4L1567.1,279.2L1568.1,278.1L1569.1,277.0L1570.0,275.9L1571.0,274.7L1572.0,273.6L1573.0,272.5L1574.0,271.4L1575.0,270.3L1576.0,269.1L1577.0,268.0L1578.0,266.9L1579.0,265.8L1580.0,264.7L1581.0,263.5L1582.0,262.4L1583.0,261.3L1584.0,260.2L1585.0,259.1L1586.0,258.0L1587.0,256.8L1588.1,255.7L1589.1,254.6L1590.1,253.5L1591.1,252.4L1592.1,251.3L1593.1,250.2L1594.1,249.1L1595.1,248.0L1596.1,246.9L1597.2,245.8L1598.2,244.7L1599.2,243.6L1600.2,242.4L1601.2,241.3L1602.3,240.2L1603.3,239.2L1604.3,238.1L1605.3,237.0L1606.3,235.9L1607.4,234.8L1608.4,233.7L1609.4,232.6L1610.5,231.5L1611.5,230.4L1612.5,229.3L1613.5,228.2L1614.6,227.1L1615.6,226.0L1616.6,224.9L1617.7,223.8L1618.7,222.8L1619.7,221.7L1620.8,220.6L1621.8,219.5L1622.8,218.4L1623.9,217.3L1624.9,216.2L1625.9,215.1L1627.0,214.1L1628.0,213.0L1629.1,211.9L1630.1,210.8L1631.1,209.7L1632.2,208.6L1633.2,207.6L1634.2,206.5L1635.3,205.4L1636.3,204.3L1637.4,203.2L1638.4,202.2L1639.5,201.1L1640.5,200.0L1641.5,198.9L1642.6,197.8L1643.6,196.8L1644.7,195.7L1645.7,194.6L1646.8,193.5L1647.8,192.5L1648.9,191.4L1649.9,190.3L1651.0,189.2L1652.0,188.2L1653.1,187.1L1654.1,186.0L1655.2,185.0L1656.2,183.9L1657.3,182.8L1658.3,181.8L1659.4,180.7L1660.5,179.6L1661.5,178.6L1662.6,177.5L1663.6,176.4L1664.7,175.4L1665.8,174.3L1666.8,173.3L1667.9,172.2L1668.9,171.1L1670.0,170.1L1671.1,169.0L1672.1,168.0L1673.2,166.9L1674.3,165.9L1675.4,164.8L1676.4,163.8L1677.5,162.7L1678.6,161.7L1679.7,160.6L1680.7,159.6L1681.8,158.5L1682.9,157.5L1684.0,156.5L1685.1,155.4L1686.1,154.4L1687.2,153.3L1688.3,152.3L1689.4,151.3L1690.5,150.2L1691.6,149.2L1692.7,148.2L1693.8,147.1L1694.9,146.1L1695.9,145.1L1697.0,144.1L1698.1,143.0L1699.2,142.0L1700.3,141.0L1701.4,140.0L1702.6,139.0L1703.7,138.0L1704.8,136.9L1705.9,135.9L1707.0,134.9L1708.1,133.9L1709.2,132.9L1710.3,131.9L1711.4,130.9L1712.6,129.9L1713.7,128.9L1714.8,127.9L1715.9,126.9L1717.0,125.9L1718.2,124.9L1719.3,123.9L1720.4,122.9L1721.5,121.9L1722.7,121.0L1723.8,120.0L1724.9,119.0L1726.1,118.0L1727.2,117.0L1728.4,116.1L1729.5,115.1L1730.6,114.1L1731.8,113.1L1732.9,112.2L1734.1,111.2L1735.2,110.2L1736.4,109.2L1737.5,108.3L1738.6,107.3L1739.8,106.4L1740.9,105.4L1742.1,104.4L1743.2,103.5L1744.3,102.6L1745.5,101.6L1746.5,100.7L1747.6,99.9L1748.6,99.0L1749.6,98.2L1750.6,97.4L1751.4,96.7L1752.2,96.1L1752.9,95.5L1756.0,93.0" fill="none" stroke="#c82020" stroke-width="3" stroke-linejoin="round" stroke-linecap="round" clip-path="url(#ca)" />
<path d="M308.1,1046.8L310.0,1045.9L311.2,1045.4L312.5,1044.8L313.9,1044.2L315.2,1043.6L316.5,1043.0L317.9,1042.5L319.2,1041.9L320.6,1041.4L321.9,1040.8L323.3,1040.2L324.6,1039.6L326.0,1039.1L327.4,1038.5L328.8,1037.9L330.1,1037.3L331.5,1036.8L332.9,1036.2L334.3,1035.6L335.7,1035.0L337.1,1034.5L338.4,1033.9L339.8,1033.3L341.2,1032.7L342.6,1032.2L344.0,1031.6L345.4,1031.0L346.8,1030.4L348.1,1029.9L349.5,1029.3L350.9,1028.7L352.3,1028.2L353.7,1027.6L355.1,1027.0L356.5,1026.5L357.9,1025.9L359.3,1025.4L360.7,1024.8L362.1,1024.3L363.5,1023.7L364.9,1023.2L366.3,1022.7L367.7,1022.1L369.1,1021.6L370.5,1021.1L371.9,1020.5L373.3,1020.0L374.7,1019.5L376.1,1018.9L377.5,1018.4L378.9,1017.8L380.3,1017.3L381.7,1016.7L383.1,1016.2L384.4,1015.6L385.8,1015.0L387.2,1014.4L388.6,1013.9L390.0,1013.3L391.4,1012.7L392.7,1012.1L394.1,1011.5L395.5,1010.9L396.9,1010.3L398.2,1009.7L399.6,1009.1L401.0,1008.4L402.3,1007.8L403.7,1007.2L405.1,1006.6L406.4,1006.0L407.8,1005.3L409.2,1004.7L410.5,1004.1L411.9,1003.5L413.3,1002.9L414.6,1002.3L416.0,1001.6L417.4,1001.0L418.7,1000.4L420.1,999.8L421.5,999.2L422.9,998.6L424.2,998.0L425.6,997.4L427.0,996.9L428.4,996.3L429.8,995.7L431.2,995.1L432.5,994.5L433.9,994.0L435.3,993.4L436.7,992.8L438.1,992.2L439.4,991.6L440.8,991.0L442.2,990.4L443.5,989.8L444.9,989.1L446.3,988.5L447.7,987.9L449.0,987.3L450.4,986.7L451.7,986.0L453.1,985.4L454.5,984.8L455.8,984.2L457.2,983.6L458.6,982.9L459.9,982.3L461.3,981.7L462.7,981.1L464.0,980.4L465.4,979.8L466.8,979.2L468.1,978.6L469.5,978.0L470.9,977.4L472.3,976.8L473.6,976.2L475.0,975.6L476.4,975.0L477.8,974.5L479.2,973.9L480.6,973.3L482.0,972.8L483.3,972.2L484.7,971.6L486.1,971.1L487.5,970.5L488.9,970.0L490.3,969.4L491.7,968.8L493.1,968.3L494.5,967.7L495.9,967.2L497.3,966.6L498.7,966.1L500.1,965.5L501.5,965.0L502.9,964.5L504.3,963.9L505.7,963.4L507.1,962.9L508.5,962.4L509.9,961.8L511.3,961.3L512.7,960.8L514.1,960.4L515.6,959.9L517.0,959.4L518.4,958.9L519.8,958.5L521.3,958.1L522.7,957.6L524.2,957.2L525.6,956.8L527.1,956.4L528.5,956.1L530.0,955.7L531.4,955.4L532.9,955.0L534.3,954.7L535.8,954.4L537.3,954.1L538.7,953.8L540.2,953.5L541.7,953.2L543.2,953.0L544.6,952.7L546.1,952.4L547.6,952.2L549.1,952.0L550.6,951.7L552.0,951.5L553.5,951.3L555.0,951.1L556.5,950.9L558.0,950.7L559.5,950.6L561.0,950.4L562.5,950.3L564.0,950.1L565.4,950.0L566.9,949.9L568.4,949.8L569.9,949.7L571.4,949.7L572.9,949.6L574.4,949.6L575.9,949.5L577.4,949.5L578.9,949.5L580.4,949.5L581.9,949.5L583.4,949.6L584.9,949.6L586.4,949.7L587.9,949.8L589.4,950.0L590.9,950.1L592.3,950.3L593.8,950.5L595.3,950.7L596.8,951.0L598.2,951.3L599.7,951.6L601.1,951.9L602.6,952.3L604.0,952.7L605.4,953.1L606.9,953.5L608.3,954.0L609.7,954.5L611.1,955.0L612.5,955.6L613.9,956.1L615.3,956.7L616.6,957.3L618.0,957.9L619.3,958.6L620.7,959.3L622.0,959.9L623.3,960.7L624.6,961.4L625.9,962.1L627.2,962.9L628.4,963.7L629.7,964.5L630.9,965.4L632.1,966.2L633.4,967.1L634.6,967.9L635.8,968.8L637.0,969.7L638.2,970.7L639.3,971.6L640.5,972.6L641.6,973.5L642.7,974.5L643.8,975.5L644.9,976.5L646.0,977.6L647.1,978.6L648.2,979.7L649.2,980.7L650.2,981.8L651.2,982.9L652.2,984.0L653.2,985.2L654.2,986.3L655.1,987.4L656.1,988.6L657.0,989.8L657.9,991.0L658.8,992.2L659.7,993.4L660.6,994.6L661.4,995.8L662.3,997.0L663.1,998.3L664.0,999.5L664.8,1000.8L665.6,1002.0L666.5,1003.3L667.3,1004.5L668.1,1005.8L668.8,1007.1L669.6,1008.4L670.4,1009.7L671.1,1011.0L671.9,1012.3L672.6,1013.6L673.3,1014.9L674.0,1016.2L674.7,1017.5L675.4,1018.9L676.0,1020.2L676.6,1021.6L677.3,1022.9L677.9,1024.3L678.5,1025.7L679.1,1027.1L679.6,1028.4L680.2,1029.8L680.8,1031.2L681.4,1032.6L681.9,1034.0L682.5,1035.4L683.1,1036.7L683.7,1038.1L684.3,1039.5L684.9,1040.9L685.5,1042.2L686.1,1043.6L686.7,1045.0L687.3,1046.3L687.9,1047.7L688.6,1049.1L689.2,1050.5L689.8,1051.8L690.4,1053.2L690.9,1054.6L691.5,1056.0L692.1,1057.3L692.7,1058.7L693.3,1060.1L693.9,1061.5L694.4,1062.9L695.0,1064.3L695.6,1065.7L696.2,1067.0L696.7,1068.4L697.3,1069.8L697.9,1071.2L698.5,1072.6L699.1,1074.0L699.7,1075.3L700.3,1076.7L700.9,1078.1L701.5,1079.4L702.1,1080.8L702.7,1082.1L703.4,1083.5L704.0,1084.8L704.7,1086.2L705.4,1087.5L706.1,1088.9L706.7,1090.2L707.4,1091.5L708.1,1092.8L708.8,1094.1L709.6,1095.4L710.3,1096.7L711.1,1098.0L711.9,1099.2L712.6,1100.5L713.4,1101.7L714.2,1102.9L715.1,1104.2L716.0,1105.3L716.9,1106.5L718.0,1107.4L719.2,1108.2L720.5,1108.7L721.9,1108.9L723.4,1108.9L724.8,1108.7L726.2,1108.4L727.6,1107.8L729.0,1107.2L730.2,1106.4L731.4,1105.6L732.6,1104.7L733.7,1103.8L734.9,1102.9L736.0,1101.9L737.1,1100.9L738.1,1099.9L739.2,1098.8L740.2,1097.8L741.2,1096.7L742.3,1095.6L743.2,1094.5L744.2,1093.3L745.2,1092.2L746.1,1091.1L747.1,1089.9L748.1,1088.8L749.0,1087.7L750.0,1086.5L751.0,1085.4L752.0,1084.3L753.0,1083.2L754.0,1082.2L755.1,1081.1L756.1,1080.0L757.2,1079.0L758.2,1077.9L759.3,1076.9L760.4,1075.9L761.5,1074.9L762.6,1073.8L763.7,1072.8L764.8,1071.8L765.9,1070.8L767.0,1069.8L768.1,1068.8L769.2,1067.8L770.3,1066.8L771.4,1065.8L772.6,1064.8L773.7,1063.8L774.8,1062.8L775.9,1061.8L777.1,1060.8L778.2,1059.8L779.3,1058.8L780.4,1057.8L781.5,1056.8L782.6,1055.8L783.8,1054.8L784.9,1053.8L786.0,1052.8L787.1,1051.8L788.2,1050.8L789.3,1049.7L790.4,1048.7L791.5,1047.7L792.6,1046.7L793.7,1045.7L794.9,1044.7L796.0,1043.7L797.1,1042.7L798.2,1041.7L799.3,1040.7L800.4,1039.7L801.5,1038.7L802.7,1037.6L803.8,1036.6L804.9,1035.6L806.0,1034.6L807.1,1033.6L808.2,1032.6L809.3,1031.6L810.4,1030.6L811.5,1029.6L812.7,1028.6L813.8,1027.6L814.9,1026.5L816.0,1025.5L817.0,1024.5L818.1,1023.5L819.2,1022.4L820.3,1021.4L821.4,1020.4L822.5,1019.3L823.6,1018.3L824.7,1017.3L825.7,1016.2L826.8,1015.2L827.9,1014.1L829.0,1013.1L830.0,1012.0L831.1,1011.0L832.2,1009.9L833.3,1008.9L834.3,1007.9L835.4,1006.8L836.5,1005.8L837.6,1004.7L838.6,1003.7L839.7,1002.6L840.8,1001.6L841.9,1000.5L842.9,999.5L844.0,998.4L845.1,997.4L846.1,996.3L847.2,995.3L848.3,994.2L849.4,993.2L850.4,992.1L851.5,991.1L852.6,990.0L853.6,988.9L854.7,987.9L855.8,986.8L856.8,985.8L857.9,984.7L859.0,983.7L860.0,982.6L861.1,981.6L862.2,980.5L863.2,979.5L864.3,978.4L865.4,977.3L866.4,976.3L867.5,975.2L868.6,974.2L869.6,973.1L870.7,972.1L871.8,971.0L872.8,969.9L873.9,968.9L874.9,967.8L876.0,966.8L877.1,965.7L878.1,964.6L879.2,963.6L880.3,962.5L881.3,961.5L882.4,960.4L883.4,959.3L884.5,958.3L885.5,957.2L886.6,956.1L887.7,955.1L888.7,954.0L889.8,952.9L890.8,951.9L891.9,950.8L892.9,949.7L894.0,948.7L895.0,947.6L896.1,946.5L897.1,945.4L898.2,944.4L899.2,943.3L900.3,942.2L901.3,941.2L902.4,940.1L903.4,939.0L904.5,937.9L905.5,936.9L906.6,935.8L907.6,934.7L908.7,933.6L909.7,932.6L910.8,931.5L911.8,930.4L912.9,929.4L913.9,928.3L915.0,927.2L916.0,926.1L917.1,925.1L918.1,924.0L919.2,922.9L920.2,921.9L921.3,920.8L922.3,919.7L923.4,918.6L924.4,917.6L925.5,916.5L926.5,915.4L927.6,914.4L928.6,913.3L929.7,912.2L930.8,911.2L931.8,910.1L932.9,909.0L933.9,908.0L935.0,906.9L936.1,905.9L937.1,904.8L938.2,903.7L939.2,902.7L940.3,901.6L941.4,900.6L942.4,899.5L943.5,898.5L944.6,897.4L945.6,896.4L946.7,895.3L947.8,894.3L948.9,893.2L949.9,892.2L951.0,891.1L952.1,890.1L953.2,889.0L954.2,888.0L955.3,886.9L956.4,885.9L957.5,884.8L958.5,883.8L959.6,882.7L960.7,881.7L961.8,880.7L962.9,879.6L963.9,878.6L965.0,877.5L966.1,876.5L967.2,875.5L968.3,874.4L969.3,873.4L970.4,872.3L971.5,871.3L972.6,870.3L973.7,869.2L974.8,868.2L975.9,867.2L976.9,866.1L978.0,865.1L979.1,864.1L980.2,863.0L981.3,862.0L982.4,860.9L983.5,859.9L984.5,858.9L985.6,857.8L986.7,856.8L987.8,855.8L988.9,854.7L990.0,853.7L991.1,852.7L992.2,851.6L993.2,850.6L994.3,849.6L995.4,848.5L996.5,847.5L997.6,846.5L998.7,845.4L999.8,844.4L1000.9,843.4L1001.9,842.3L1003.0,841.3L1004.1,840.3L1005.2,839.2L1006.3,838.2L1007.4,837.2L1008.5,836.1L1009.6,835.1L1010.6,834.1L1011.7,833.0L1012.8,832.0L1013.9,831.0L1015.0,829.9L1016.1,828.9L1017.1,827.9L1018.2,826.8L1019.3,825.8L1020.4,824.7L1021.5,823.7L1022.6,822.7L1023.6,821.6L1024.7,820.6L1025.8,819.5L1026.9,818.5L1028.0,817.5L1029.1,816.4L1030.1,815.4L1031.2,814.3L1032.3,813.3L1033.4,812.3L1034.5,811.2L1035.5,810.2L1036.6,809.1L1037.7,808.1L1038.8,807.0L1039.8,806.0L1040.9,805.0L1042.0,803.9L1043.1,802.9L1044.2,801.8L1045.2,800.8L1046.3,799.7L1047.4,798.7L1048.5,797.6L1049.5,796.6L1050.6,795.6L1051.7,794.5L1052.8,793.5L1053.9,792.4L1054.9,791.4L1056.0,790.3L1057.1,789.3L1058.2,788.2L1059.2,787.2L1060.3,786.1L1061.4,785.1L1062.5,784.1L1063.5,783.0L1064.6,782.0L1065.7,780.9L1066.8,779.9L1067.8,778.8L1068.9,777.8L1070.0,776.7L1071.1,775.7L1072.1,774.6L1073.2,773.6L1074.3,772.6L1075.4,771.5L1076.5,770.5L1077.5,769.4L1078.6,768.4L1079.7,767.3L1080.8,766.3L1081.8,765.2L1082.9,764.2L1084.0,763.1L1085.1,762.1L1086.1,761.1L1087.2,760.0L1088.3,759.0L1089.4,757.9L1090.5,756.9L1091.5,755.8L1092.6,754.8L1093.7,753.8L1094.8,752.7L1095.8,751.7L1096.9,750.6L1098.0,749.6L1099.1,748.5L1100.2,747.5L1101.2,746.5L1102.3,745.4L1103.4,744.4L1104.5,743.3L1105.6,742.3L1106.6,741.2L1107.7,740.2L1108.8,739.2L1109.9,738.1L1111.0,737.1L1112.0,736.0L1113.1,735.0L1114.2,734.0L1115.3,732.9L1116.4,731.9L1117.5,730.9L1118.6,729.8L1119.6,728.8L1120.7,727.8L1121.8,726.7L1122.9,725.7L1124.0,724.6L1125.1,723.6L1126.2,722.6L1127.2,721.5L1128.3,720.5L1129.4,719.5L1130.5,718.5L1131.6,717.4L1132.7,716.4L1133.8,715.4L1134.9,714.3L1136.0,713.3L1137.1,712.3L1138.1,711.2L1139.2,710.2L1140.3,709.2L1141.4,708.2L1142.5,707.1L1143.6,706.1L1144.7,705.1L1145.8,704.0L1146.9,703.0L1148.0,702.0L1149.1,701.0L1150.2,699.9L1151.3,698.9L1152.4,697.9L1153.5,696.9L1154.5,695.8L1155.6,694.8L1156.7,693.8L1157.8,692.7L1158.9,691.7L1160.0,690.7L1161.1,689.7L1162.2,688.6L1163.3,687.6L1164.4,686.6L1165.5,685.5L1166.6,684.5L1167.7,683.5L1168.7,682.5L1169.8,681.4L1170.9,680.4L1172.0,679.4L1173.1,678.3L1174.2,677.3L1175.3,676.3L1176.4,675.2L1177.5,674.2L1178.5,673.2L1179.6,672.1L1180.7,671.1L1181.8,670.1L1182.9,669.0L1184.0,668.0L1185.1,666.9L1186.1,665.9L1187.2,664.9L1188.3,663.8L1189.4,662.8L1190.5,661.7L1191.5,660.7L1192.6,659.7L1193.7,658.6L1194.8,657.6L1195.9,656.5L1196.9,655.5L1198.0,654.4L1199.1,653.4L1200.2,652.4L1201.2,651.3L1202.3,650.3L1203.4,649.2L1204.5,648.2L1205.5,647.1L1206.6,646.1L1207.7,645.0L1208.8,644.0L1209.8,642.9L1210.9,641.9L1212.0,640.8L1213.1,639.8L1214.1,638.7L1215.2,637.7L1216.3,636.6L1217.3,635.6L1218.4,634.5L1219.5,633.5L1220.5,632.4L1221.6,631.4L1222.7,630.3L1223.7,629.3L1224.8,628.2L1225.9,627.1L1227.0,626.1L1228.0,625.0L1229.1,624.0L1230.2,622.9L1231.2,621.9L1232.3,620.8L1233.3,619.8L1234.4,618.7L1235.5,617.6L1236.5,616.6L1237.6,615.5L1238.7,614.5L1239.7,613.4L1240.8,612.4L1241.9,611.3L1242.9,610.2L1244.0,609.2L1245.1,608.1L1246.1,607.1L1247.2,606.0L1248.2,605.0L1249.3,603.9L1250.4,602.8L1251.4,601.8L1252.5,600.7L1253.6,599.7L1254.6,598.6L1255.7,597.5L1256.7,596.5L1257.8,595.4L1258.9,594.4L1259.9,593.3L1261.0,592.2L1262.1,591.2L1263.1,590.1L1264.2,589.1L1265.2,588.0L1266.3,586.9L1267.4,585.9L1268.4,584.8L1269.5,583.8L1270.5,582.7L1271.6,581.6L1272.7,580.6L1273.7,579.5L1274.8,578.4L1275.8,577.4L1276.9,576.3L1278.0,575.3L1279.0,574.2L1280.1,573.1L1281.2,572.1L1282.2,571.0L1283.3,570.0L1284.3,568.9L1285.4,567.8L1286.5,566.8L1287.5,565.7L1288.6,564.6L1289.6,563.6L1290.7,562.5L1291.8,561.5L1292.8,560.4L1293.9,559.3L1294.9,558.3L1296.0,557.2L1297.1,556.2L1298.1,555.1L1299.2,554.0L1300.2,553.0L1301.3,551.9L1302.4,550.9L1303.4,549.8L1304.5,548.7L1305.5,547.7L1306.6,546.6L1307.7,545.5L1308.7,544.5L1309.8,543.4L1310.9,542.4L1311.9,541.3L1313.0,540.2L1314.0,539.2L1315.1,538.1L1316.2,537.1L1317.2,536.0L1318.3,534.9L1319.3,533.9L1320.4,532.8L1321.4,531.7L1322.5,530.7L1323.6,529.6L1324.6,528.5L1325.7,527.5L1326.7,526.4L1327.8,525.4L1328.8,524.3L1329.9,523.2L1331.0,522.2L1332.0,521.1L1333.1,520.0L1334.1,519.0L1335.2,517.9L1336.2,516.8L1337.3,515.8L1338.3,514.7L1339.4,513.6L1340.5,512.6L1341.5,511.5L1342.6,510.4L1343.6,509.3L1344.7,508.3L1345.7,507.2L1346.8,506.1L1347.8,505.1L1348.9,504.0L1349.9,502.9L1351.0,501.8L1352.0,500.8L1353.1,499.7L1354.1,498.6L1355.2,497.5L1356.2,496.5L1357.2,495.4L1358.3,494.3L1359.3,493.2L1360.4,492.2L1361.4,491.1L1362.5,490.0L1363.5,488.9L1364.6,487.9L1365.6,486.8L1366.6,485.7L1367.7,484.6L1368.7,483.5L1369.8,482.4L1370.8,481.4L1371.8,480.3L1372.9,479.2L1373.9,478.1L1374.9,477.0L1376.0,475.9L1377.0,474.9L1378.1,473.8L1379.1,472.7L1380.1,471.6L1381.2,470.5L1382.2,469.4L1383.2,468.3L1384.3,467.2L1385.3,466.2L1386.3,465.1L1387.3,464.0L1388.4,462.9L1389.4,461.8L1390.4,460.7L1391.5,459.6L1392.5,458.5L1393.5,457.4L1394.6,456.3L1395.6,455.2L1396.6,454.2L1397.6,453.1L1398.7,452.0L1399.7,450.9L1400.7,449.8L1401.7,448.7L1402.8,447.6L1403.8,446.5L1404.8,445.4L1405.8,444.3L1406.9,443.2L1407.9,442.1L1408.9,441.0L1409.9,439.9L1411.0,438.8L1412.0,437.7L1413.0,436.6L1414.0,435.5L1415.0,434.4L1416.1,433.3L1417.1,432.2L1418.1,431.1L1419.1,430.0L1420.1,428.9L1421.2,427.8L1422.2,426.7L1423.2,425.6L1424.2,424.5L1425.2,423.4L1426.3,422.3L1427.3,421.2L1428.3,420.1L1429.3,419.0L1430.3,417.9L1431.3,416.8L1432.4,415.7L1433.4,414.6L1434.4,413.5L1435.4,412.4L1436.4,411.3L1437.4,410.2L1438.4,409.1L1439.5,407.9L1440.5,406.8L1441.5,405.7L1442.5,404.6L1443.5,403.5L1444.5,402.4L1445.5,401.3L1446.6,400.2L1447.6,399.1L1448.6,398.0L1449.6,396.9L1450.6,395.8L1451.6,394.7L1452.6,393.6L1453.6,392.5L1454.7,391.3L1455.7,390.2L1456.7,389.1L1457.7,388.0L1458.7,386.9L1459.7,385.8L1460.7,384.7L1461.7,383.6L1462.7,382.5L1463.8,381.4L1464.8,380.3L1465.8,379.1L1466.8,378.0L1467.8,376.9L1468.8,375.8L1469.8,374.7L1470.8,373.6L1471.8,372.5L1472.8,371.4L1473.9,370.3L1474.9,369.2L1475.9,368.0L1476.9,366.9L1477.9,365.8L1478.9,364.7L1479.9,363.6L1480.9,362.5L1481.9,361.4L1482.9,360.3L1483.9,359.2L1484.9,358.0L1486.0,356.9L1487.0,355.8L1488.0,354.7L1489.0,353.6L1490.0,352.5L1491.0,351.4L1492.0,350.3L1493.0,349.2L1494.0,348.0L1495.0,346.9L1496.0,345.8L1497.0,344.7L1498.0,343.6L1499.1,342.5L1500.1,341.4L1501.1,340.3L1502.1,339.1L1503.1,338.0L1504.1,336.9L1505.1,335.8L1506.1,334.7L1507.1,333.6L1508.1,332.4L1509.1,331.3L1510.1,330.2L1511.1,329.1L1512.1,328.0L1513.1,326.8L1514.1,325.7L1515.1,324.6L1516.1,323.5L1517.1,322.4L1518.1,321.2L1519.1,320.1L1520.0,319.0L1521.0,317.9L1522.0,316.7L1523.0,315.6L1524.0,314.5L1525.0,313.4L1526.0,312.2L1527.0,311.1L1528.0,310.0L1529.0,308.9L1530.0,307.7L1531.0,306.6L1531.9,305.5L1532.9,304.3L1533.9,303.2L1534.9,302.1L1535.9,301.0L1536.9,299.8L1537.9,298.7L1538.9,297.6L1539.8,296.4L1540.8,295.3L1541.8,294.2L1542.8,293.1L1543.8,291.9L1544.8,290.8L1545.8,289.7L1546.8,288.5L1547.7,287.4L1548.7,286.3L1549.7,285.1L1550.7,284.0L1551.7,282.9L1552.7,281.8L1553.7,280.6L1554.7,279.5L1555.7,278.4L1556.6,277.2L1557.6,276.1L1558.6,275.0L1559.6,273.9L1560.6,272.7L1561.6,271.6L1562.6,270.5L1563.6,269.4L1564.6,268.2L1565.6,267.1L1566.5,266.0L1567.5,264.9L1568.5,263.7L1569.5,262.6L1570.5,261.5L1571.5,260.4L1572.5,259.2L1573.5,258.1L1574.5,257.0L1575.5,255.9L1576.5,254.7L1577.5,253.6L1578.5,252.5L1579.5,251.4L1580.5,250.3L1581.5,249.2L1582.5,248.0L1583.5,246.9L1584.5,245.8L1585.5,244.7L1586.5,243.6L1587.5,242.5L1588.5,241.4L1589.6,240.2L1590.6,239.1L1591.6,238.0L1592.6,236.9L1593.6,235.8L1594.6,234.7L1595.6,233.6L1596.6,232.5L1597.7,231.4L1598.7,230.3L1599.7,229.2L1600.7,228.1L1601.7,227.0L1602.8,225.9L1603.8,224.8L1604.8,223.7L1605.8,222.6L1606.9,221.5L1607.9,220.4L1608.9,219.3L1610.0,218.2L1611.0,217.2L1612.0,216.1L1613.0,215.0L1614.1,213.9L1615.1,212.8L1616.1,211.7L1617.2,210.6L1618.2,209.5L1619.3,208.5L1620.3,207.4L1621.3,206.3L1622.4,205.2L1623.4,204.1L1624.4,203.0L1625.5,201.9L1626.5,200.9L1627.6,199.8L1628.6,198.7L1629.6,197.6L1630.7,196.5L1631.7,195.5L1632.8,194.4L1633.8,193.3L1634.8,192.2L1635.9,191.1L1636.9,190.1L1638.0,189.0L1639.0,187.9L1640.1,186.8L1641.1,185.8L1642.2,184.7L1643.2,183.6L1644.3,182.5L1645.3,181.5L1646.4,180.4L1647.4,179.3L1648.5,178.3L1649.5,177.2L1650.6,176.1L1651.6,175.1L1652.7,174.0L1653.7,172.9L1654.8,171.9L1655.9,170.8L1656.9,169.7L1658.0,168.7L1659.0,167.6L1660.1,166.5L1661.2,165.5L1662.2,164.4L1663.3,163.4L1664.3,162.3L1665.4,161.3L1666.5,160.2L1667.5,159.2L1668.6,158.1L1669.7,157.0L1670.8,156.0L1671.8,154.9L1672.9,153.9L1674.0,152.9L1675.1,151.8L1676.1,150.8L1677.2,149.7L1678.3,148.7L1679.4,147.6L1680.4,146.6L1681.5,145.6L1682.6,144.5L1683.7,143.5L1684.8,142.4L1685.9,141.4L1687.0,140.4L1688.0,139.3L1689.1,138.3L1690.2,137.3L1691.3,136.3L1692.4,135.2L1693.5,134.2L1694.6,133.2L1695.7,132.2L1696.8,131.1L1697.9,130.1L1699.0,129.1L1700.1,128.1L1701.2,127.1L1702.3,126.1L1703.5,125.1L1704.6,124.1L1705.7,123.1L1706.8,122.0L1707.9,121.0L1709.0,120.0L1710.1,119.0L1711.3,118.0L1712.4,117.0L1713.5,116.1L1714.6,115.1L1715.8,114.1L1716.9,113.1L1718.0,112.1L1719.1,111.1L1720.3,110.1L1721.4,109.1L1722.5,108.2L1723.7,107.2L1724.8,106.2L1726.0,105.2L1727.1,104.2L1728.2,103.3L1729.4,102.3L1730.5,101.3L1731.7,100.4L1732.8,99.4L1734.0,98.4L1735.1,97.5L1736.3,96.5L1737.4,95.5L1738.6,94.6L1739.7,93.6L1740.9,92.7L1742.0,91.7L1743.2,90.8L1744.3,89.9L1745.4,89.0L1746.5,88.1L1747.6,87.2L1748.6,86.3L1749.6,85.5L1750.5,84.8L1751.4,84.1L1752.2,83.4L1752.9,82.9L1756.0,80.4" fill="none" stroke="#000000" stroke-width="3.5" stroke-linejoin="round" stroke-linecap="round" clip-path="url(#ca)" />
<path d="M305.0,1047.9L305.5,1032.8L305.5,1032.8L307.3,1032.1L308.4,1031.7L309.7,1031.1L311.0,1030.5L312.4,1029.8L313.7,1029.1L315.1,1028.5L316.4,1027.9L317.8,1027.4L319.2,1026.8L320.6,1026.2L321.9,1025.7L323.3,1025.1L324.7,1024.5L326.1,1024.0L327.5,1023.4L328.9,1022.8L330.3,1022.3L331.6,1021.7L333.0,1021.1L334.4,1020.6L335.8,1020.0L337.2,1019.4L338.6,1018.8L340.0,1018.2L341.3,1017.6L342.7,1017.0L344.1,1016.4L345.5,1015.8L346.8,1015.2L348.2,1014.6L349.6,1014.0L350.9,1013.4L352.3,1012.8L353.7,1012.1L355.0,1011.5L356.4,1010.9L357.7,1010.3L359.1,1009.6L360.5,1009.0L361.8,1008.4L363.2,1007.8L364.6,1007.1L365.9,1006.5L367.3,1005.9L368.7,1005.3L370.0,1004.7L371.4,1004.0L372.8,1003.4L374.1,1002.8L375.5,1002.2L376.9,1001.6L378.3,1001.0L379.6,1000.4L381.0,999.9L382.4,999.3L383.8,998.7L385.2,998.2L386.6,997.6L388.0,997.1L389.4,996.6L390.8,996.0L392.2,995.5L393.6,995.0L395.0,994.5L396.4,993.9L397.8,993.4L399.2,992.9L400.6,992.4L402.0,991.8L403.4,991.3L404.8,990.7L406.2,990.1L407.6,989.6L409.0,989.0L410.3,988.4L411.7,987.8L413.1,987.2L414.5,986.6L415.8,986.0L417.2,985.3L418.6,984.7L419.9,984.1L421.3,983.4L422.6,982.8L424.0,982.2L425.4,981.6L426.7,980.9L428.1,980.3L429.4,979.7L430.8,979.0L432.2,978.4L433.5,977.7L434.9,977.1L436.2,976.5L437.6,975.8L438.9,975.2L440.3,974.5L441.6,973.9L443.0,973.2L444.3,972.6L445.7,971.9L447.1,971.3L448.4,970.6L449.8,970.0L451.1,969.3L452.5,968.7L453.8,968.1L455.2,967.4L456.6,966.8L457.9,966.2L459.3,965.6L460.7,965.0L462.0,964.4L463.4,963.8L464.8,963.2L466.2,962.6L467.6,962.1L469.0,961.5L470.3,960.9L471.7,960.4L473.1,959.8L474.5,959.3L475.9,958.7L477.3,958.1L478.7,957.6L480.1,957.0L481.5,956.5L482.9,955.9L484.3,955.4L485.7,954.8L487.1,954.3L488.5,953.8L489.9,953.2L491.3,952.7L492.7,952.2L494.1,951.6L495.5,951.1L496.9,950.6L498.3,950.1L499.7,949.5L501.1,949.0L502.5,948.5L503.9,948.0L505.3,947.5L506.8,947.0L508.2,946.4L509.6,945.9L511.0,945.4L512.4,944.9L513.8,944.5L515.2,944.0L516.7,943.5L518.1,943.0L519.5,942.6L520.9,942.1L522.4,941.7L523.8,941.2L525.2,940.8L526.7,940.4L528.1,940.0L529.6,939.5L531.0,939.1L532.5,938.8L533.9,938.4L535.4,938.0L536.8,937.6L538.3,937.3L539.7,936.9L541.2,936.6L542.7,936.2L544.1,935.9L545.6,935.6L547.1,935.3L548.5,935.0L550.0,934.7L551.5,934.4L552.9,934.1L554.4,933.9L555.9,933.6L557.4,933.4L558.8,933.2L560.3,932.9L561.8,932.7L563.3,932.5L564.8,932.4L566.3,932.2L567.8,932.0L569.3,931.9L570.7,931.8L572.2,931.7L573.7,931.6L575.2,931.5L576.7,931.5L578.2,931.4L579.7,931.4L581.2,931.4L582.7,931.4L584.2,931.4L585.7,931.4L587.2,931.4L588.7,931.5L590.2,931.6L591.7,931.7L593.2,931.8L594.6,932.0L596.1,932.2L597.6,932.4L599.1,932.6L600.5,932.9L602.0,933.2L603.5,933.5L604.9,933.9L606.3,934.2L607.8,934.6L609.2,935.0L610.7,935.5L612.1,935.9L613.5,936.4L614.9,936.9L616.3,937.4L617.7,937.9L619.1,938.5L620.5,939.0L621.9,939.6L623.2,940.3L624.6,940.9L625.9,941.6L627.2,942.3L628.5,943.0L629.8,943.8L631.0,944.6L632.2,945.4L633.4,946.2L634.6,947.1L635.8,948.0L637.0,949.0L638.1,949.9L639.2,950.9L640.4,951.9L641.5,952.9L642.6,953.9L643.6,955.0L644.7,956.0L645.8,957.0L646.8,958.1L647.9,959.2L648.9,960.3L650.0,961.3L651.0,962.4L652.0,963.5L653.0,964.6L654.0,965.8L655.0,966.9L656.0,968.0L656.9,969.2L657.8,970.4L658.8,971.5L659.7,972.7L660.6,973.9L661.4,975.1L662.3,976.4L663.2,977.6L664.0,978.8L664.8,980.1L665.6,981.3L666.4,982.6L667.2,983.9L668.0,985.2L668.8,986.5L669.5,987.7L670.3,989.0L671.0,990.3L671.8,991.6L672.5,992.9L673.2,994.3L673.9,995.6L674.6,996.9L675.3,998.2L676.0,999.6L676.6,1000.9L677.3,1002.3L677.9,1003.6L678.6,1005.0L679.2,1006.3L679.8,1007.7L680.5,1009.1L681.1,1010.4L681.7,1011.8L682.3,1013.1L682.9,1014.5L683.5,1015.9L684.1,1017.2L684.7,1018.6L685.3,1020.0L685.8,1021.4L686.4,1022.8L686.9,1024.2L687.4,1025.6L688.0,1027.0L688.5,1028.4L689.0,1029.8L689.6,1031.2L690.1,1032.6L690.6,1034.0L691.2,1035.4L691.7,1036.8L692.2,1038.2L692.8,1039.6L693.3,1041.0L693.9,1042.4L694.4,1043.8L695.0,1045.2L695.5,1046.6L696.1,1047.9L696.6,1049.3L697.2,1050.7L697.7,1052.1L698.3,1053.5L698.8,1054.9L699.4,1056.3L700.0,1057.7L700.6,1059.1L701.2,1060.4L701.8,1061.8L702.4,1063.1L703.1,1064.5L703.7,1065.8L704.5,1067.1L705.2,1068.4L706.0,1069.7L706.8,1070.9L707.6,1072.1L708.4,1073.3L709.3,1074.5L710.2,1075.7L711.1,1076.8L712.1,1078.0L713.0,1079.1L714.0,1080.2L715.0,1081.3L716.0,1082.3L717.1,1083.3L718.3,1084.1L719.6,1084.6L721.0,1084.7L722.4,1084.5L723.8,1083.9L725.1,1083.2L726.3,1082.4L727.4,1081.4L728.5,1080.5L729.6,1079.5L730.7,1078.5L731.8,1077.5L732.8,1076.5L733.9,1075.5L734.9,1074.4L736.0,1073.4L737.1,1072.4L738.1,1071.3L739.2,1070.3L740.3,1069.3L741.4,1068.3L742.6,1067.4L743.7,1066.4L744.8,1065.4L746.0,1064.4L747.1,1063.5L748.3,1062.5L749.4,1061.6L750.6,1060.6L751.8,1059.7L752.9,1058.8L754.1,1057.8L755.3,1056.9L756.5,1056.0L757.6,1055.0L758.8,1054.1L760.0,1053.2L761.2,1052.3L762.4,1051.4L763.6,1050.5L764.8,1049.6L766.0,1048.7L767.2,1047.8L768.4,1047.0L769.7,1046.1L770.9,1045.2L772.1,1044.4L773.4,1043.5L774.6,1042.7L775.9,1041.9L777.1,1041.0L778.4,1040.2L779.6,1039.4L780.9,1038.6L782.2,1037.8L783.4,1037.0L784.7,1036.2L786.0,1035.4L787.3,1034.6L788.5,1033.9L789.8,1033.1L791.1,1032.3L792.4,1031.5L793.6,1030.7L794.9,1029.9L796.2,1029.1L797.5,1028.3L798.7,1027.5L800.0,1026.7L801.2,1025.9L802.5,1025.1L803.7,1024.2L805.0,1023.4L806.2,1022.5L807.4,1021.7L808.7,1020.8L809.9,1019.9L811.1,1019.0L812.3,1018.1L813.5,1017.2L814.7,1016.3L815.8,1015.4L817.0,1014.5L818.2,1013.5L819.3,1012.6L820.5,1011.6L821.6,1010.6L822.8,1009.7L823.9,1008.7L825.1,1007.7L826.2,1006.7L827.3,1005.7L828.4,1004.7L829.5,1003.7L830.7,1002.7L831.8,1001.7L832.9,1000.7L834.0,999.7L835.1,998.7L836.2,997.6L837.2,996.6L838.3,995.6L839.4,994.5L840.5,993.5L841.6,992.4L842.7,991.4L843.7,990.4L844.8,989.3L845.9,988.3L846.9,987.2L848.0,986.1L849.1,985.1L850.1,984.0L851.2,983.0L852.3,981.9L853.3,980.8L854.4,979.8L855.4,978.7L856.5,977.7L857.5,976.6L858.6,975.5L859.7,974.5L860.7,973.4L861.8,972.3L862.8,971.3L863.9,970.2L864.9,969.1L866.0,968.1L867.1,967.0L868.1,965.9L869.2,964.9L870.2,963.8L871.3,962.8L872.3,961.7L873.4,960.6L874.5,959.6L875.5,958.5L876.6,957.5L877.7,956.4L878.7,955.3L879.8,954.3L880.8,953.2L881.9,952.2L883.0,951.1L884.0,950.0L885.1,949.0L886.2,947.9L887.2,946.9L888.3,945.8L889.3,944.7L890.4,943.7L891.4,942.6L892.5,941.5L893.5,940.5L894.6,939.4L895.7,938.3L896.7,937.2L897.8,936.2L898.8,935.1L899.9,934.0L900.9,933.0L901.9,931.9L903.0,930.8L904.0,929.7L905.1,928.7L906.1,927.6L907.2,926.5L908.2,925.4L909.3,924.4L910.3,923.3L911.4,922.2L912.4,921.1L913.5,920.1L914.5,919.0L915.5,917.9L916.6,916.8L917.6,915.7L918.7,914.7L919.7,913.6L920.8,912.5L921.8,911.4L922.9,910.4L923.9,909.3L925.0,908.2L926.0,907.2L927.1,906.1L928.1,905.0L929.2,903.9L930.2,902.9L931.3,901.8L932.3,900.7L933.4,899.7L934.4,898.6L935.5,897.6L936.6,896.5L937.6,895.4L938.7,894.4L939.7,893.3L940.8,892.2L941.9,891.2L942.9,890.1L944.0,889.1L945.1,888.0L946.1,887.0L947.2,885.9L948.3,884.9L949.4,883.8L950.4,882.8L951.5,881.7L952.6,880.7L953.6,879.6L954.7,878.6L955.8,877.5L956.9,876.5L957.9,875.4L959.0,874.4L960.1,873.3L961.2,872.3L962.3,871.3L963.3,870.2L964.4,869.2L965.5,868.1L966.6,867.1L967.7,866.1L968.7,865.0L969.8,864.0L970.9,862.9L972.0,861.9L973.1,860.9L974.1,859.8L975.2,858.8L976.3,857.7L977.4,856.7L978.5,855.7L979.6,854.6L980.7,853.6L981.7,852.6L982.8,851.5L983.9,850.5L985.0,849.5L986.1,848.4L987.2,847.4L988.3,846.4L989.3,845.3L990.4,844.3L991.5,843.3L992.6,842.2L993.7,841.2L994.8,840.1L995.9,839.1L996.9,838.1L998.0,837.0L999.1,836.0L1000.2,835.0L1001.3,833.9L1002.4,832.9L1003.5,831.9L1004.6,830.8L1005.6,829.8L1006.7,828.8L1007.8,827.7L1008.9,826.7L1010.0,825.7L1011.1,824.6L1012.1,823.6L1013.2,822.5L1014.3,821.5L1015.4,820.5L1016.5,819.4L1017.6,818.4L1018.7,817.4L1019.7,816.3L1020.8,815.3L1021.9,814.2L1023.0,813.2L1024.1,812.2L1025.1,811.1L1026.2,810.1L1027.3,809.0L1028.4,808.0L1029.5,807.0L1030.5,805.9L1031.6,804.9L1032.7,803.8L1033.8,802.8L1034.9,801.7L1035.9,800.7L1037.0,799.7L1038.1,798.6L1039.2,797.6L1040.2,796.5L1041.3,795.5L1042.4,794.4L1043.5,793.4L1044.5,792.3L1045.6,791.3L1046.7,790.2L1047.8,789.2L1048.8,788.2L1049.9,787.1L1051.0,786.1L1052.1,785.0L1053.2,784.0L1054.2,782.9L1055.3,781.9L1056.4,780.8L1057.5,779.8L1058.5,778.7L1059.6,777.7L1060.7,776.6L1061.8,775.6L1062.8,774.6L1063.9,773.5L1065.0,772.5L1066.0,771.4L1067.1,770.4L1068.2,769.3L1069.3,768.3L1070.3,767.2L1071.4,766.2L1072.5,765.1L1073.6,764.1L1074.6,763.0L1075.7,762.0L1076.8,760.9L1077.9,759.9L1078.9,758.9L1080.0,757.8L1081.1,756.8L1082.2,755.7L1083.2,754.7L1084.3,753.6L1085.4,752.6L1086.5,751.5L1087.6,750.5L1088.6,749.4L1089.7,748.4L1090.8,747.4L1091.9,746.3L1092.9,745.3L1094.0,744.2L1095.1,743.2L1096.2,742.1L1097.2,741.1L1098.3,740.0L1099.4,739.0L1100.5,738.0L1101.6,736.9L1102.6,735.9L1103.7,734.8L1104.8,733.8L1105.9,732.7L1107.0,731.7L1108.0,730.7L1109.1,729.6L1110.2,728.6L1111.3,727.5L1112.4,726.5L1113.4,725.5L1114.5,724.4L1115.6,723.4L1116.7,722.3L1117.8,721.3L1118.9,720.3L1119.9,719.2L1121.0,718.2L1122.1,717.2L1123.2,716.1L1124.3,715.1L1125.4,714.1L1126.4,713.0L1127.5,712.0L1128.6,710.9L1129.7,709.9L1130.8,708.9L1131.9,707.9L1133.0,706.8L1134.1,705.8L1135.2,704.8L1136.2,703.7L1137.3,702.7L1138.4,701.7L1139.5,700.6L1140.6,699.6L1141.7,698.6L1142.8,697.5L1143.9,696.5L1145.0,695.5L1146.1,694.5L1147.2,693.4L1148.3,692.4L1149.3,691.4L1150.4,690.3L1151.5,689.3L1152.6,688.3L1153.7,687.3L1154.8,686.2L1155.9,685.2L1157.0,684.2L1158.1,683.1L1159.2,682.1L1160.3,681.1L1161.4,680.1L1162.4,679.0L1163.5,678.0L1164.6,677.0L1165.7,675.9L1166.8,674.9L1167.9,673.9L1169.0,672.8L1170.1,671.8L1171.2,670.8L1172.3,669.8L1173.3,668.7L1174.4,667.7L1175.5,666.7L1176.6,665.6L1177.7,664.6L1178.8,663.5L1179.9,662.5L1181.0,661.5L1182.0,660.4L1183.1,659.4L1184.2,658.4L1185.3,657.3L1186.4,656.3L1187.4,655.2L1188.5,654.2L1189.6,653.2L1190.7,652.1L1191.8,651.1L1192.8,650.0L1193.9,649.0L1195.0,647.9L1196.1,646.9L1197.1,645.9L1198.2,644.8L1199.3,643.8L1200.4,642.7L1201.4,641.7L1202.5,640.6L1203.6,639.6L1204.7,638.5L1205.7,637.5L1206.8,636.4L1207.9,635.4L1209.0,634.3L1210.0,633.3L1211.1,632.2L1212.2,631.2L1213.2,630.1L1214.3,629.1L1215.4,628.0L1216.4,627.0L1217.5,625.9L1218.6,624.9L1219.7,623.8L1220.7,622.8L1221.8,621.7L1222.9,620.6L1223.9,619.6L1225.0,618.5L1226.1,617.5L1227.1,616.4L1228.2,615.4L1229.3,614.3L1230.3,613.3L1231.4,612.2L1232.4,611.1L1233.5,610.1L1234.6,609.0L1235.6,608.0L1236.7,606.9L1237.8,605.9L1238.8,604.8L1239.9,603.7L1241.0,602.7L1242.0,601.6L1243.1,600.6L1244.1,599.5L1245.2,598.4L1246.3,597.4L1247.3,596.3L1248.4,595.3L1249.5,594.2L1250.5,593.1L1251.6,592.1L1252.6,591.0L1253.7,590.0L1254.8,588.9L1255.8,587.8L1256.9,586.8L1257.9,585.7L1259.0,584.7L1260.1,583.6L1261.1,582.5L1262.2,581.5L1263.2,580.4L1264.3,579.3L1265.4,578.3L1266.4,577.2L1267.5,576.2L1268.5,575.1L1269.6,574.0L1270.7,573.0L1271.7,571.9L1272.8,570.9L1273.8,569.8L1274.9,568.7L1276.0,567.7L1277.0,566.6L1278.1,565.5L1279.1,564.5L1280.2,563.4L1281.3,562.4L1282.3,561.3L1283.4,560.2L1284.4,559.2L1285.5,558.1L1286.6,557.0L1287.6,556.0L1288.7,554.9L1289.7,553.9L1290.8,552.8L1291.9,551.7L1292.9,550.7L1294.0,549.6L1295.0,548.5L1296.1,547.5L1297.2,546.4L1298.2,545.4L1299.3,544.3L1300.3,543.2L1301.4,542.2L1302.5,541.1L1303.5,540.0L1304.6,539.0L1305.6,537.9L1306.7,536.9L1307.7,535.8L1308.8,534.7L1309.9,533.7L1310.9,532.6L1312.0,531.5L1313.0,530.5L1314.1,529.4L1315.2,528.4L1316.2,527.3L1317.3,526.2L1318.3,525.2L1319.4,524.1L1320.4,523.0L1321.5,522.0L1322.6,520.9L1323.6,519.8L1324.7,518.8L1325.7,517.7L1326.8,516.7L1327.8,515.6L1328.9,514.5L1330.0,513.5L1331.0,512.4L1332.1,511.3L1333.1,510.3L1334.2,509.2L1335.2,508.1L1336.3,507.0L1337.3,506.0L1338.4,504.9L1339.4,503.8L1340.5,502.8L1341.5,501.7L1342.6,500.6L1343.6,499.6L1344.7,498.5L1345.7,497.4L1346.8,496.3L1347.8,495.3L1348.9,494.2L1349.9,493.1L1351.0,492.1L1352.0,491.0L1353.1,489.9L1354.1,488.8L1355.2,487.8L1356.2,486.7L1357.3,485.6L1358.3,484.5L1359.4,483.4L1360.4,482.4L1361.4,481.3L1362.5,480.2L1363.5,479.1L1364.6,478.0L1365.6,477.0L1366.6,475.9L1367.7,474.8L1368.7,473.7L1369.8,472.6L1370.8,471.6L1371.8,470.5L1372.9,469.4L1373.9,468.3L1374.9,467.2L1376.0,466.1L1377.0,465.0L1378.0,464.0L1379.1,462.9L1380.1,461.8L1381.1,460.7L1382.2,459.6L1383.2,458.5L1384.2,457.4L1385.3,456.3L1386.3,455.2L1387.3,454.2L1388.4,453.1L1389.4,452.0L1390.4,450.9L1391.4,449.8L1392.5,448.7L1393.5,447.6L1394.5,446.5L1395.6,445.4L1396.6,444.3L1397.6,443.2L1398.6,442.1L1399.7,441.0L1400.7,439.9L1401.7,438.8L1402.7,437.7L1403.8,436.6L1404.8,435.6L1405.8,434.5L1406.8,433.4L1407.8,432.3L1408.9,431.2L1409.9,430.1L1410.9,429.0L1411.9,427.9L1413.0,426.8L1414.0,425.7L1415.0,424.6L1416.0,423.5L1417.0,422.4L1418.1,421.3L1419.1,420.2L1420.1,419.1L1421.1,418.0L1422.1,416.9L1423.1,415.8L1424.2,414.6L1425.2,413.5L1426.2,412.4L1427.2,411.3L1428.2,410.2L1429.2,409.1L1430.3,408.0L1431.3,406.9L1432.3,405.8L1433.3,404.7L1434.3,403.6L1435.3,402.5L1436.3,401.4L1437.4,400.3L1438.4,399.2L1439.4,398.1L1440.4,397.0L1441.4,395.9L1442.4,394.8L1443.4,393.7L1444.4,392.5L1445.5,391.4L1446.5,390.3L1447.5,389.2L1448.5,388.1L1449.5,387.0L1450.5,385.9L1451.5,384.8L1452.5,383.7L1453.6,382.6L1454.6,381.5L1455.6,380.4L1456.6,379.2L1457.6,378.1L1458.6,377.0L1459.6,375.9L1460.6,374.8L1461.6,373.7L1462.6,372.6L1463.7,371.5L1464.7,370.4L1465.7,369.3L1466.7,368.1L1467.7,367.0L1468.7,365.9L1469.7,364.8L1470.7,363.7L1471.7,362.6L1472.7,361.5L1473.7,360.4L1474.7,359.3L1475.8,358.1L1476.8,357.0L1477.8,355.9L1478.8,354.8L1479.8,353.7L1480.8,352.6L1481.8,351.5L1482.8,350.4L1483.8,349.3L1484.8,348.1L1485.8,347.0L1486.8,345.9L1487.8,344.8L1488.8,343.7L1489.9,342.6L1490.9,341.5L1491.9,340.4L1492.9,339.2L1493.9,338.1L1494.9,337.0L1495.9,335.9L1496.9,334.8L1497.9,333.7L1498.9,332.6L1499.9,331.4L1500.9,330.3L1501.9,329.2L1502.9,328.1L1503.9,327.0L1504.9,325.9L1505.9,324.8L1506.9,323.6L1507.9,322.5L1508.9,321.4L1509.9,320.3L1510.9,319.2L1511.9,318.0L1512.9,316.9L1513.9,315.8L1514.9,314.7L1515.9,313.5L1516.9,312.4L1517.9,311.3L1518.9,310.2L1519.9,309.0L1520.9,307.9L1521.8,306.8L1522.8,305.7L1523.8,304.5L1524.8,303.4L1525.8,302.3L1526.8,301.1L1527.8,300.0L1528.8,298.9L1529.8,297.8L1530.7,296.6L1531.7,295.5L1532.7,294.4L1533.7,293.2L1534.7,292.1L1535.7,291.0L1536.7,289.8L1537.6,288.7L1538.6,287.6L1539.6,286.4L1540.6,285.3L1541.6,284.2L1542.6,283.0L1543.5,281.9L1544.5,280.8L1545.5,279.7L1546.5,278.5L1547.5,277.4L1548.5,276.3L1549.5,275.1L1550.4,274.0L1551.4,272.9L1552.4,271.7L1553.4,270.6L1554.4,269.5L1555.4,268.3L1556.4,267.2L1557.3,266.1L1558.3,264.9L1559.3,263.8L1560.3,262.7L1561.3,261.6L1562.3,260.4L1563.3,259.3L1564.3,258.2L1565.2,257.0L1566.2,255.9L1567.2,254.8L1568.2,253.7L1569.2,252.5L1570.2,251.4L1571.2,250.3L1572.2,249.2L1573.2,248.1L1574.2,246.9L1575.2,245.8L1576.2,244.7L1577.2,243.6L1578.2,242.4L1579.2,241.3L1580.2,240.2L1581.2,239.1L1582.2,238.0L1583.2,236.9L1584.2,235.7L1585.2,234.6L1586.2,233.5L1587.2,232.4L1588.2,231.3L1589.2,230.2L1590.2,229.1L1591.2,228.0L1592.3,226.9L1593.3,225.8L1594.3,224.7L1595.3,223.6L1596.3,222.5L1597.3,221.4L1598.4,220.3L1599.4,219.2L1600.4,218.1L1601.4,217.0L1602.5,215.9L1603.5,214.8L1604.5,213.7L1605.5,212.6L1606.6,211.5L1607.6,210.4L1608.6,209.3L1609.7,208.2L1610.7,207.2L1611.8,206.1L1612.8,205.0L1613.8,203.9L1614.9,202.8L1615.9,201.7L1616.9,200.7L1618.0,199.6L1619.0,198.5L1620.1,197.4L1621.1,196.3L1622.2,195.3L1623.2,194.2L1624.2,193.1L1625.3,192.0L1626.3,191.0L1627.4,189.9L1628.4,188.8L1629.5,187.7L1630.5,186.7L1631.6,185.6L1632.6,184.5L1633.7,183.4L1634.7,182.4L1635.8,181.3L1636.8,180.2L1637.9,179.2L1638.9,178.1L1640.0,177.0L1641.1,176.0L1642.1,174.9L1643.2,173.8L1644.2,172.8L1645.3,171.7L1646.4,170.7L1647.4,169.6L1648.5,168.5L1649.5,167.5L1650.6,166.4L1651.7,165.4L1652.7,164.3L1653.8,163.3L1654.9,162.2L1655.9,161.1L1657.0,160.1L1658.1,159.0L1659.1,158.0L1660.2,156.9L1661.3,155.9L1662.4,154.8L1663.4,153.8L1664.5,152.8L1665.6,151.7L1666.7,150.7L1667.7,149.6L1668.8,148.6L1669.9,147.5L1671.0,146.5L1672.1,145.5L1673.2,144.4L1674.2,143.4L1675.3,142.4L1676.4,141.3L1677.5,140.3L1678.6,139.3L1679.7,138.2L1680.8,137.2L1681.9,136.2L1683.0,135.2L1684.1,134.1L1685.2,133.1L1686.3,132.1L1687.4,131.1L1688.5,130.1L1689.6,129.0L1690.7,128.0L1691.8,127.0L1692.9,126.0L1694.0,125.0L1695.1,124.0L1696.2,123.0L1697.3,122.0L1698.4,121.0L1699.6,120.0L1700.7,119.0L1701.8,118.0L1702.9,117.0L1704.0,116.0L1705.2,115.0L1706.3,114.0L1707.4,113.0L1708.5,112.0L1709.7,111.0L1710.8,110.0L1711.9,109.0L1713.1,108.1L1714.2,107.1L1715.3,106.1L1716.5,105.1L1717.6,104.1L1718.8,103.2L1719.9,102.2L1721.1,101.2L1722.2,100.3L1723.3,99.3L1724.5,98.3L1725.6,97.4L1726.8,96.4L1727.9,95.4L1729.1,94.5L1730.3,93.5L1731.4,92.6L1732.6,91.6L1733.7,90.7L1734.9,89.7L1736.1,88.8L1737.2,87.8L1738.4,86.9L1739.6,85.9L1740.7,85.0L1741.9,84.1L1743.0,83.2L1744.2,82.2L1745.3,81.3L1746.4,80.5L1747.5,79.6L1748.5,78.8L1749.5,78.0L1750.5,77.2L1751.4,76.6L1752.2,75.9L1752.9,75.4L1756.0,72.9" fill="none" stroke="#22dd22" stroke-width="5" stroke-linejoin="round" stroke-linecap="round" clip-path="url(#ca)" />
<line x1="1756.0" y1="82.1" x2="1756.0" y2="72.3" stroke="#000000" stroke-width="3.5" />
<line x1="1756.0" y1="91.8" x2="1756.0" y2="78.6" stroke="#c82020" stroke-width="3" />
<path d="M804,1035 L813,1022 L818,1034 z" fill="#000"/>
<path d="M800,1040 L812,1032 L818,1036 L816,1052 L809,1056 z" fill="#e41818"/>
<path d="M271.2,66.0 H1891.0 V1272.0" fill="none" stroke="#141414" stroke-width="4.5" stroke-linecap="square"/>
<line x1="271.2" y1="63.8" x2="271.2" y2="1275.0" stroke="#141414" stroke-width="6"/>
<line x1="271.2" y1="1272.0" x2="1893.2" y2="1272.0" stroke="#141414" stroke-width="6"/>
<line x1="271.2" y1="1272.0" x2="271.2" y2="1296.0" stroke="#000" stroke-width="4" />
<line x1="541.2" y1="1272.0" x2="541.2" y2="1296.0" stroke="#000" stroke-width="4" />
<line x1="811.1" y1="1272.0" x2="811.1" y2="1296.0" stroke="#000" stroke-width="4" />
<line x1="1081.1" y1="1272.0" x2="1081.1" y2="1296.0" stroke="#000" stroke-width="4" />
<line x1="1351.1" y1="1272.0" x2="1351.1" y2="1296.0" stroke="#000" stroke-width="4" />
<line x1="1621.0" y1="1272.0" x2="1621.0" y2="1296.0" stroke="#000" stroke-width="4" />
<line x1="1891.0" y1="1272.0" x2="1891.0" y2="1296.0" stroke="#000" stroke-width="4" />
<line x1="406.2" y1="1272.0" x2="406.2" y2="1285.0" stroke="#000" stroke-width="4" />
<line x1="676.1" y1="1272.0" x2="676.1" y2="1285.0" stroke="#000" stroke-width="4" />
<line x1="946.1" y1="1272.0" x2="946.1" y2="1285.0" stroke="#000" stroke-width="4" />
<line x1="1216.1" y1="1272.0" x2="1216.1" y2="1285.0" stroke="#000" stroke-width="4" />
<line x1="1486.0" y1="1272.0" x2="1486.0" y2="1285.0" stroke="#000" stroke-width="4" />
<line x1="1756.0" y1="1272.0" x2="1756.0" y2="1285.0" stroke="#000" stroke-width="4" />
<line x1="271.2" y1="1214.6" x2="247.2" y2="1214.6" stroke="#000" stroke-width="4" />
<line x1="271.2" y1="984.9" x2="247.2" y2="984.9" stroke="#000" stroke-width="4" />
<line x1="271.2" y1="755.1" x2="247.2" y2="755.1" stroke="#000" stroke-width="4" />
<line x1="271.2" y1="525.4" x2="247.2" y2="525.4" stroke="#000" stroke-width="4" />
<line x1="271.2" y1="295.7" x2="247.2" y2="295.7" stroke="#000" stroke-width="4" />
<line x1="271.2" y1="66.0" x2="247.2" y2="66.0" stroke="#000" stroke-width="4" />
<line x1="271.2" y1="1099.7" x2="258.2" y2="1099.7" stroke="#000" stroke-width="4" />
<line x1="271.2" y1="870.0" x2="258.2" y2="870.0" stroke="#000" stroke-width="4" />
<line x1="271.2" y1="640.3" x2="258.2" y2="640.3" stroke="#000" stroke-width="4" />
<line x1="271.2" y1="410.6" x2="258.2" y2="410.6" stroke="#000" stroke-width="4" />
<line x1="271.2" y1="180.9" x2="258.2" y2="180.9" stroke="#000" stroke-width="4" />
<text x="124.77" y="1230.07" font-size="60" letter-spacing="-0.3" >-0.4</text>
<text x="145.04" y="1000.36" font-size="60" letter-spacing="-0.3" >0.0</text>
<text x="144.45" y="770.64" font-size="60" letter-spacing="-0.3" >0.4</text>
<text x="145.30" y="540.93" font-size="60" letter-spacing="-0.3" >0.8</text>
<text x="145.71" y="311.21" font-size="60" letter-spacing="-0.3" >1.2</text>
<text x="145.33" y="81.50" font-size="60" letter-spacing="-0.3" >1.6</text>
<text x="255.02" y="1358.50" font-size="60" letter-spacing="1.0" >0</text>
<text x="490.28" y="1358.50" font-size="60" letter-spacing="1.0" >200</text>
<text x="761.06" y="1358.50" font-size="60" letter-spacing="1.0" >400</text>
<text x="1030.19" y="1358.50" font-size="60" letter-spacing="1.0" >600</text>
<text x="1300.38" y="1358.50" font-size="60" letter-spacing="1.0" >800</text>
<text x="1552.18" y="1358.50" font-size="60" letter-spacing="1.0" >1000</text>
<text x="1822.15" y="1358.50" font-size="60" letter-spacing="1.0" >1200</text>
<text x="913.23" y="1424.30" font-size="56.5" letter-spacing="0.47" >Temperature,</text>
<text x="1270.89" y="1421.35" font-size="60.66" >°</text>
<text transform="translate(1292.23,1424.30) scale(0.9642,1)" font-size="56.5" >C</text>
<text transform="translate(100.80,1178.96) rotate(-90) scale(0.9960,1)" font-size="73">Relative change in length, %</text>
<text x="60.78" y="86.00" font-size="64" letter-spacing="4.28" >a)</text>
<line x1="282.0" y1="118.5" x2="426.5" y2="118.5" stroke="#000000" stroke-width="3" />
<line x1="282.0" y1="207.4" x2="426.5" y2="207.4" stroke="#983040" stroke-width="3.2" />
<line x1="282.0" y1="298.0" x2="426.5" y2="298.0" stroke="#20dd30" stroke-width="6" />
<text x="440.65" y="138.00" font-size="59" letter-spacing="2.36" >400</text>
<text x="543.99" y="128.11" font-size="58.87" >°</text>
<text x="566.00" y="138.00" font-size="59" letter-spacing="2.12" >C<tspan stroke="#000" stroke-width="2.6">_</tspan>15min</text>
<text x="440.65" y="228.00" font-size="59" letter-spacing="2.36" >400</text>
<text x="543.99" y="218.11" font-size="58.87" >°</text>
<text x="566.00" y="228.00" font-size="59" letter-spacing="2.27" >C<tspan stroke="#000" stroke-width="2.6">_</tspan>180min</text>
<text x="439.75" y="316.50" font-size="59" letter-spacing="2.81" >350</text>
<text x="543.99" y="306.61" font-size="58.87" >°</text>
<text x="566.00" y="316.50" font-size="59" letter-spacing="2.29" >C_15min</text>
<path d="M313.5,2562 L315,2640 L317,2700 L319,2718 L322,2692 L329.5,2646 L341.4,2604 L350,2600 L356,2604 L363.7,2620" fill="none" stroke="#111" stroke-width="3.5" clip-path="url(#cb)"/>
<path d="M363.7,2621.9L364.2,2614.5L364.7,2624.5L365.2,2619.8L365.7,2631.9L366.2,2623.2L366.7,2629.1L367.2,2619.4L367.7,2628.0L368.2,2624.5L368.7,2626.8L369.2,2633.7L369.7,2629.0L370.2,2632.0L370.7,2635.8L371.2,2635.5L371.7,2633.5L372.2,2629.5L372.7,2634.1L373.2,2642.7L373.7,2634.5L374.2,2648.4L374.7,2643.4L375.2,2647.1L375.7,2654.0L376.2,2656.1L376.7,2655.9L377.2,2652.9L377.7,2658.9L378.2,2659.5L378.7,2655.6L379.2,2662.9L379.7,2662.3L380.2,2651.3L380.7,2661.2L381.2,2657.2L381.7,2669.8L382.2,2670.6L382.7,2660.7L383.2,2659.7L383.7,2662.9L384.2,2656.1L384.7,2663.9L385.2,2659.9L385.7,2652.0L386.2,2653.3L386.7,2643.4L387.2,2653.2L387.7,2655.3L388.2,2649.9L388.7,2647.6L389.2,2653.5L389.7,2658.6L390.2,2649.4L390.7,2642.7L391.2,2651.1L391.7,2637.9L392.2,2647.1L392.7,2638.3L393.2,2644.1L393.7,2631.4L394.2,2640.3L394.7,2634.9L395.2,2625.6L395.7,2620.5L396.2,2626.1L396.7,2634.0L397.2,2629.3L397.7,2625.9L398.2,2623.1L398.7,2629.9L399.2,2628.5L399.7,2627.3L400.2,2622.3L400.7,2632.9L401.2,2638.2L401.7,2623.8L402.2,2638.4L402.7,2628.5L403.2,2621.3L403.7,2615.8L404.2,2627.9L404.7,2625.9L405.2,2624.2L405.7,2618.8L406.2,2629.1L406.7,2619.1L407.2,2618.2L407.7,2633.1L408.2,2629.8L408.7,2621.7L409.2,2614.0L409.7,2618.4L410.2,2602.7L410.7,2613.9L411.2,2610.2L411.7,2609.2L412.2,2611.8L412.7,2624.5L413.2,2625.7L413.7,2626.8L414.2,2635.5L414.7,2628.4L415.2,2629.7L415.7,2628.2L416.2,2638.0L416.7,2642.4L417.2,2642.1L417.7,2648.9L418.2,2640.9L418.7,2647.2L419.2,2646.9L419.7,2645.1L420.2,2655.6L420.7,2651.7L421.2,2646.1L421.7,2645.7L422.2,2652.3L422.7,2644.4L423.2,2654.2L423.7,2645.9L424.2,2651.7L424.7,2647.4L425.2,2650.7L425.7,2650.0L426.2,2649.2L426.7,2650.4L427.2,2653.2L427.7,2656.1L428.2,2661.6L428.7,2669.1L429.2,2666.3L429.7,2659.1L430.2,2661.1L430.7,2653.7L431.2,2661.4L431.7,2657.1L432.2,2647.2L432.7,2654.7L433.2,2651.8L433.7,2635.7L434.2,2652.9L434.7,2660.6" fill="none" stroke="#000" stroke-width="4" stroke-linejoin="round" clip-path="url(#cb)"/>
<line x1="312.8" y1="2436.0" x2="313.2" y2="2725.0" stroke="#e01010" stroke-width="2" clip-path="url(#cb)"/>
<path d="M316,2700 L318.5,2723 L320.3,2702 L324.5,2672 L329.5,2646 L338,2617 L346.6,2611" fill="none" stroke="#e01010" stroke-width="3.5" clip-path="url(#cb)"/>
<path d="M346.6,2615.8L347.2,2616.8L347.8,2605.8L348.4,2609.5L349.0,2615.9L349.6,2604.1L350.2,2619.6L350.8,2606.4L351.4,2609.0L352.0,2602.5L352.6,2609.0L353.2,2603.1L353.8,2604.2L354.4,2598.3L355.0,2611.0L355.6,2595.8L356.2,2607.5L356.8,2602.8L357.4,2601.5L358.0,2592.3L358.6,2603.4L359.2,2603.0L359.8,2598.9L360.4,2600.9L361.0,2596.7L361.6,2600.6L362.2,2595.0L362.8,2603.2L363.4,2602.7L364.0,2592.1L364.6,2582.0L365.2,2594.5L365.8,2596.8L366.4,2604.7L367.0,2597.4L367.6,2594.4L368.2,2588.1L368.8,2594.4L369.4,2589.2L370.0,2587.1L370.6,2592.0L371.2,2596.6L371.8,2591.2L372.4,2584.2L373.0,2591.1L373.6,2585.4L374.2,2581.7L374.8,2593.5L375.4,2587.6L376.0,2598.0L376.6,2593.4L377.2,2586.6L377.8,2591.7L378.4,2597.2L379.0,2589.0L379.6,2583.3L380.2,2583.4L380.8,2581.6L381.4,2578.4L382.0,2578.6L382.6,2587.7L383.2,2589.9L383.8,2580.9L384.4,2589.2L385.0,2588.3L385.6,2591.4L386.2,2582.9L386.8,2582.3L387.4,2587.1L388.0,2584.3L388.6,2584.6L389.2,2591.1L389.8,2581.3L390.4,2586.5L391.0,2580.2L391.6,2582.6L392.2,2580.6L392.8,2581.2L393.4,2583.9L394.0,2582.7L394.6,2588.3L395.2,2590.8L395.8,2578.7L396.4,2592.8L397.0,2576.0L397.6,2591.4L398.2,2594.1L398.8,2588.6L399.4,2588.1L400.0,2585.1L400.6,2596.4L401.2,2574.1L401.8,2586.0L402.4,2579.7L403.0,2593.3L403.6,2599.6L404.2,2599.6L404.8,2597.9L405.4,2595.4L406.0,2589.0L406.6,2598.8L407.2,2598.0L407.8,2589.0L408.4,2588.6L409.0,2592.6L409.6,2601.9L410.2,2605.2L410.8,2607.0L411.4,2594.6L412.0,2595.4L412.6,2605.7L413.2,2597.6L413.8,2600.1L414.4,2589.9L415.0,2594.5L415.6,2595.6L416.2,2592.6L416.8,2595.1L417.4,2588.2L418.0,2604.8L418.6,2597.5L419.2,2587.0L419.8,2600.5L420.4,2594.6L421.0,2599.6L421.6,2593.8L422.2,2591.6L422.8,2590.5L423.4,2593.8L424.0,2597.0L424.6,2596.7L425.2,2596.6L425.8,2595.5L426.4,2590.0L427.0,2596.4L427.6,2595.9L428.2,2591.9L428.8,2590.6L429.4,2588.2L430.0,2582.8L430.6,2581.4L431.2,2596.8L431.8,2588.2L432.4,2586.6L433.0,2597.7L433.6,2593.9L434.2,2587.6L434.8,2593.2L435.4,2589.1L436.0,2589.0L436.6,2596.9L437.2,2590.2L437.8,2582.0L438.4,2588.4L439.0,2590.7L439.6,2582.1L440.2,2580.0L440.8,2594.2L441.4,2581.8L442.0,2578.6L442.6,2587.8L443.2,2599.7L443.8,2590.7L444.4,2590.5L445.0,2574.5L445.6,2583.0L446.2,2594.9L446.8,2584.1L447.4,2593.3L448.0,2588.2L448.6,2587.0L449.2,2594.3L449.8,2582.7L450.4,2582.5L451.0,2583.6L451.6,2582.8L452.2,2575.7L452.8,2592.6L453.4,2585.8L454.0,2582.5L454.6,2586.7L455.2,2579.1L455.8,2589.6L456.4,2581.8L457.0,2587.1L457.6,2580.2L458.2,2579.9L458.8,2581.9L459.4,2572.3L460.0,2574.6L460.6,2578.9L461.2,2582.7L461.8,2578.5L462.4,2582.1L463.0,2581.5L463.6,2583.4L464.2,2588.7L464.8,2580.2L465.4,2582.1L466.0,2580.5L466.6,2567.2L467.2,2579.6L467.8,2582.1L468.4,2586.2L469.0,2578.6L469.6,2585.3L470.2,2575.4L470.8,2579.0L471.4,2586.1L472.0,2567.0L472.6,2574.9L473.2,2573.9L473.8,2575.0L474.4,2572.3L475.0,2581.0L475.6,2569.3L476.2,2568.9L476.8,2578.5L477.4,2568.3L478.0,2576.3L478.6,2575.2L479.2,2570.8L479.8,2572.1L480.4,2575.1L481.0,2579.0L481.6,2572.9L482.2,2573.6L482.8,2567.3L483.4,2574.3L484.0,2563.0L484.6,2574.5L485.2,2571.7L485.8,2585.3L486.4,2581.6L487.0,2574.9L487.6,2580.7L488.2,2576.6L488.8,2571.4L489.4,2563.5L490.0,2580.9L490.6,2578.1L491.2,2567.0L491.8,2581.2L492.4,2582.2L493.0,2574.9L493.6,2582.5L494.2,2568.7L494.8,2578.9L495.4,2579.8L496.0,2583.2L496.6,2581.0L497.2,2582.3L497.8,2582.0L498.4,2575.2L499.0,2589.2L499.6,2576.8L500.2,2582.4L500.8,2577.7L501.4,2575.3L502.0,2579.9L502.6,2578.8L503.2,2585.4L503.8,2582.3L504.4,2573.1L505.0,2580.2L505.6,2575.3L506.2,2573.1L506.8,2571.0L507.4,2578.5L508.0,2574.4L508.6,2571.5L509.2,2577.8L509.8,2580.1L510.4,2581.7L511.0,2574.0L511.6,2577.2L512.2,2587.5L512.8,2575.7L513.4,2579.2L514.0,2593.5L514.6,2584.6L515.2,2575.2L515.8,2567.8L516.4,2580.0L517.0,2570.8L517.6,2578.4L518.2,2576.4L518.8,2571.5L519.4,2589.1L520.0,2579.1L520.6,2585.7L521.2,2586.0L521.8,2578.5L522.4,2581.9L523.0,2579.1L523.6,2586.5L524.2,2584.3L524.8,2580.3L525.4,2592.0L526.0,2586.1L526.6,2585.7L527.2,2578.3L527.8,2585.7L528.4,2574.8L529.0,2587.7L529.6,2578.6L530.2,2582.1L530.8,2579.4L531.4,2582.6L532.0,2582.0L532.6,2580.1L533.2,2579.1L533.8,2572.4L534.4,2570.3L535.0,2585.5L535.6,2580.7L536.2,2568.6L536.8,2586.0L537.4,2570.7L538.0,2574.9L538.6,2574.9L539.2,2573.4L539.8,2577.4L540.4,2567.7L541.0,2576.5L541.6,2575.8L542.2,2577.9L542.8,2575.1L543.4,2573.1L544.0,2573.7L544.6,2585.1L545.2,2573.5L545.8,2580.6L546.4,2580.5L547.0,2579.5L547.6,2581.1L548.2,2581.8L548.8,2577.7L549.4,2584.5L550.0,2595.8L550.6,2575.4L551.2,2577.7L551.8,2572.7L552.4,2587.8L553.0,2566.9L553.6,2573.8L554.2,2581.6L554.8,2572.3L555.4,2577.0L556.0,2574.0L556.6,2570.8L557.2,2578.8L557.8,2581.1L558.4,2576.2L559.0,2580.2L559.6,2583.1L560.2,2586.4L560.8,2572.2L561.4,2583.6L562.0,2579.4L562.6,2570.4L563.2,2576.5L563.8,2584.2L564.4,2585.0L565.0,2574.7L565.6,2590.2L566.2,2584.4L566.8,2581.0L567.4,2576.5L568.0,2581.3L568.6,2578.7L569.2,2586.5L569.8,2582.6L570.4,2583.2L571.0,2579.0L571.6,2573.9L572.2,2585.5L572.8,2575.4L573.4,2578.0L574.0,2580.2L574.6,2577.8L575.2,2586.2L575.8,2574.2L576.4,2592.2L577.0,2581.1L577.6,2588.5L578.2,2590.8L578.8,2578.2L579.4,2577.1L580.0,2585.0L580.6,2581.1L581.2,2578.7L581.8,2570.0L582.4,2569.8L583.0,2581.3L583.6,2584.6L584.2,2574.4L584.8,2572.7L585.4,2578.5L586.0,2580.1L586.6,2581.2L587.2,2577.3L587.8,2568.3L588.4,2586.3L589.0,2576.3L589.6,2584.4L590.2,2567.3L590.8,2578.3L591.4,2576.1L592.0,2574.4L592.6,2585.4L593.2,2586.1L593.8,2577.7L594.4,2583.7L595.0,2573.4L595.6,2575.4L596.2,2576.9L596.8,2577.6L597.4,2584.8L598.0,2574.8L598.6,2587.1L599.2,2587.5L599.8,2582.5L600.4,2577.5L601.0,2569.4L601.6,2584.4L602.2,2579.9L602.8,2583.9L603.4,2576.8L604.0,2583.0L604.6,2582.7L605.2,2581.1L605.8,2581.0L606.4,2580.6L607.0,2582.4L607.6,2574.4L608.2,2583.5L608.8,2580.8L609.4,2576.3L610.0,2573.0L610.6,2584.5L611.2,2578.4L611.8,2576.5L612.4,2581.2L613.0,2579.7L613.6,2576.7L614.2,2572.5L614.8,2581.0L615.4,2579.5L616.0,2579.6L616.6,2587.1L617.2,2573.0L617.8,2575.3L618.4,2582.6L619.0,2586.6L619.6,2586.9L620.2,2587.1L620.8,2568.4L621.4,2582.2L622.0,2581.9L622.6,2582.9L623.2,2575.6L623.8,2582.9L624.4,2586.0L625.0,2588.0L625.6,2578.6L626.2,2568.1L626.8,2574.4L627.4,2576.2L628.0,2575.4L628.6,2581.5L629.2,2569.7L629.8,2564.5L630.4,2565.6L631.0,2572.6L631.6,2565.5L632.2,2564.4L632.8,2567.5L633.4,2577.6L634.0,2573.8L634.6,2571.6L635.2,2579.7L635.8,2577.8L636.4,2567.1L637.0,2577.1L637.6,2575.0L638.2,2562.3L638.8,2568.1L639.4,2576.0L640.0,2577.5L640.6,2570.2L641.2,2566.4L641.8,2570.7L642.4,2558.3L643.0,2572.7L643.6,2566.3L644.2,2566.2L644.8,2562.6L645.4,2573.2L646.0,2555.1L646.6,2562.8L647.2,2571.2L647.8,2564.5L648.4,2575.5L649.0,2568.9L649.6,2566.5L650.2,2575.3L650.8,2568.1L651.4,2573.2L652.0,2565.5L652.6,2567.5L653.2,2576.7L653.8,2573.7L654.4,2569.1L655.0,2570.1L655.6,2576.3L656.2,2583.5L656.8,2571.7L657.4,2580.7L658.0,2562.1L658.6,2570.2L659.2,2581.5L659.8,2585.4L660.4,2576.1L661.0,2577.4L661.6,2575.1L662.2,2579.2L662.8,2569.4L663.4,2576.6L664.0,2570.9L664.6,2575.1L665.2,2576.7L665.8,2574.4L666.4,2572.3L667.0,2576.2L667.6,2570.1L668.2,2585.7L668.8,2583.6L669.4,2580.2L670.0,2592.3L670.6,2590.2L671.2,2585.5L671.8,2581.1L672.4,2585.6L673.0,2586.3L673.6,2588.1L674.2,2577.0L674.8,2575.0L675.4,2592.0L676.0,2587.0L676.6,2582.5L677.2,2575.1L677.8,2583.2L678.4,2584.9L679.0,2583.5L679.6,2586.2L680.2,2582.9L680.8,2587.2L681.4,2579.1L682.0,2580.5L682.6,2583.0L683.2,2584.0L683.8,2595.3L684.4,2574.7L685.0,2586.4L685.6,2580.4L686.2,2580.1L686.8,2587.1L687.4,2576.6L688.0,2581.6L688.6,2592.1L689.2,2577.7L689.8,2581.5L690.4,2574.9L691.0,2581.8L691.6,2570.0L692.2,2578.5L692.8,2577.8L693.4,2590.6L694.0,2575.3L694.6,2570.0L695.2,2566.8L695.8,2563.2L696.4,2572.6L697.0,2577.7L697.6,2568.5L698.2,2572.9L698.8,2562.4L699.4,2562.5L700.0,2559.8L700.6,2552.2L701.2,2559.0L701.8,2570.0L702.4,2552.5L703.0,2564.5L703.6,2567.2L704.2,2565.3L704.8,2570.7L705.4,2577.1L706.0,2578.5L706.6,2561.0L707.2,2584.5L707.8,2573.5L708.4,2584.4L709.0,2577.0L709.6,2573.0L710.2,2573.8L710.8,2593.2L711.4,2586.0L712.0,2574.4L712.6,2576.1L713.2,2581.2L713.8,2578.2L714.4,2575.2L715.0,2574.4L715.6,2569.5L716.2,2580.3L716.8,2581.8L717.4,2586.2L718.0,2572.1L718.6,2581.5L719.2,2581.1L719.8,2587.8L720.4,2579.0L721.0,2578.0L721.6,2569.5L722.2,2581.5L722.8,2579.0L723.4,2581.5L724.0,2571.0L724.6,2588.2L725.2,2571.4L725.8,2579.1L726.4,2578.5L727.0,2583.2L727.6,2573.4L728.2,2568.5L728.8,2567.6L729.4,2576.3L730.0,2568.8L730.6,2570.4L731.2,2563.9L731.8,2569.2L732.4,2570.7L733.0,2572.7L733.6,2560.5L734.2,2563.1L734.8,2576.3L735.4,2563.6L736.0,2563.1L736.6,2560.9L737.2,2554.7L737.8,2555.5L738.4,2564.7L739.0,2558.6L739.6,2575.3L740.2,2555.6L740.8,2550.0L741.4,2558.4L742.0,2556.4L742.6,2571.8L743.2,2563.6L743.8,2569.1L744.4,2557.1L745.0,2570.9L745.6,2571.2L746.2,2572.3L746.8,2570.1L747.4,2572.6L748.0,2572.8L748.6,2578.0L749.2,2570.9L749.8,2579.4L750.4,2572.5L751.0,2578.6L751.6,2572.3L752.2,2571.0L752.8,2571.5L753.4,2587.4L754.0,2569.8L754.6,2570.5L755.2,2584.9L755.8,2572.7L756.4,2574.6L757.0,2576.4L757.6,2591.6L758.2,2577.7L758.8,2576.8L759.4,2580.5L760.0,2583.0L760.6,2584.2L761.2,2570.0L761.8,2579.7L762.4,2586.0L763.0,2565.6L763.6,2575.4L764.2,2573.5L764.8,2572.4L765.4,2571.8L766.0,2563.6L766.6,2587.1L767.2,2580.6L767.8,2578.3L768.4,2579.1L769.0,2556.6L769.6,2572.2L770.2,2577.8L770.8,2578.5L771.4,2578.6L772.0,2585.9L772.6,2580.1L773.2,2586.2L773.8,2586.0L774.4,2574.2L775.0,2580.5L775.6,2596.7L776.2,2587.2L776.8,2585.4L777.4,2578.7L778.0,2581.7L778.6,2573.7L779.2,2578.3L779.8,2586.2L780.4,2579.8L781.0,2582.1L781.6,2592.8L782.2,2587.4L782.8,2585.9L783.4,2588.0L784.0,2578.0L784.6,2578.1L785.2,2568.4L785.8,2582.8L786.4,2578.3L787.0,2579.4L787.6,2573.9L788.2,2581.2L788.8,2581.2L789.4,2578.0L790.0,2569.5L790.6,2573.4L791.2,2577.1L791.8,2573.5L792.4,2578.5L793.0,2582.1L793.6,2574.8L794.2,2577.6L794.8,2576.0L795.4,2585.2L796.0,2585.3L796.6,2594.0L797.2,2580.7L797.8,2574.7L798.4,2580.9L799.0,2575.6L799.6,2578.0L800.2,2584.2L800.8,2575.3L801.4,2582.9L802.0,2567.0L802.6,2585.0L803.2,2578.6L803.8,2575.4L804.4,2575.3L805.0,2586.7L805.6,2576.9L806.2,2585.0L806.8,2575.0L807.4,2576.8L808.0,2578.6L808.6,2585.4L809.2,2576.3L809.8,2574.9L810.4,2572.2L811.0,2572.3L811.6,2568.6L812.2,2583.8L812.8,2583.1L813.4,2569.4L814.0,2571.5L814.6,2566.0L815.2,2579.2L815.8,2579.5L816.4,2577.0L817.0,2572.1L817.6,2583.1L818.2,2584.0L818.8,2583.8L819.4,2588.4L820.0,2574.3L820.6,2576.9L821.2,2575.5L821.8,2582.0L822.4,2590.8L823.0,2583.4L823.6,2585.7L824.2,2577.6L824.8,2574.9L825.4,2584.3L826.0,2582.1L826.6,2585.9L827.2,2582.6L827.8,2572.8L828.4,2562.7L829.0,2578.6L829.6,2572.8L830.2,2570.5L830.8,2570.3L831.4,2575.5L832.0,2577.1L832.6,2580.9L833.2,2593.3L833.8,2574.3L834.4,2580.4L835.0,2574.2L835.6,2576.1L836.2,2581.0L836.8,2582.2L837.4,2573.9L838.0,2587.1L838.6,2577.0L839.2,2587.4L839.8,2581.9L840.4,2587.6L841.0,2585.4L841.6,2581.3L842.2,2587.6L842.8,2578.7L843.4,2577.7L844.0,2582.8L844.6,2592.2L845.2,2581.0L845.8,2581.1L846.4,2592.9L847.0,2585.9L847.6,2585.1L848.2,2580.1L848.8,2587.1L849.4,2591.5L850.0,2590.8L850.6,2593.6L851.2,2590.2L851.8,2591.7L852.4,2591.9L853.0,2587.4L853.6,2595.1L854.2,2602.1L854.8,2593.7L855.4,2587.1L856.0,2593.9L856.6,2593.5L857.2,2610.0L857.8,2599.1L858.4,2591.7L859.0,2595.9L859.6,2606.4L860.2,2592.8L860.8,2599.8L861.4,2603.9L862.0,2601.9L862.6,2600.4L863.2,2603.4L863.8,2597.2L864.4,2603.2L865.0,2601.9L865.6,2601.6L866.2,2599.2L866.8,2601.8L867.4,2596.3L868.0,2596.5L868.6,2600.6L869.2,2603.7L869.8,2605.0L870.4,2591.8L871.0,2600.3L871.6,2602.0L872.2,2596.6L872.8,2599.1L873.4,2596.1L874.0,2602.3L874.6,2594.0L875.2,2605.5L875.8,2602.7L876.4,2601.9L877.0,2603.6L877.6,2611.2L878.2,2610.0L878.8,2607.0L879.4,2612.1L880.0,2605.4L880.6,2598.4L881.2,2595.9L881.8,2605.2L882.4,2601.6L883.0,2602.0L883.6,2600.4L884.2,2608.4L884.8,2595.6L885.4,2594.2L886.0,2609.5L886.6,2602.0L887.2,2596.6L887.8,2585.9L888.4,2590.8L889.0,2595.4L889.6,2598.9L890.2,2598.4L890.8,2597.1L891.4,2606.7L892.0,2591.9L892.6,2597.8L893.2,2593.4L893.8,2601.5L894.4,2600.3L895.0,2603.4L895.6,2602.3L896.2,2621.3L896.8,2603.3L897.4,2598.6L898.0,2600.7L898.6,2600.3L899.2,2608.2L899.8,2608.8L900.4,2604.4L901.0,2602.6L901.6,2599.3L902.2,2612.2L902.8,2607.3L903.4,2583.2L904.0,2600.0L904.6,2594.2L905.2,2598.7L905.8,2608.4L906.4,2591.6L907.0,2592.1L907.6,2608.2L908.2,2591.9L908.8,2594.6L909.4,2602.8L910.0,2594.2L910.6,2598.4L911.2,2601.2L911.8,2608.2L912.4,2590.7L913.0,2594.0L913.6,2597.6L914.2,2601.9L914.8,2595.8L915.4,2601.7L916.0,2602.2L916.6,2612.1L917.2,2626.0L917.8,2611.6L918.4,2622.0L919.0,2600.0L919.6,2603.6L920.2,2599.8L920.8,2587.9L921.4,2588.7L922.0,2600.5L922.6,2590.3L923.2,2593.5L923.8,2593.4L924.4,2588.0L925.0,2600.0L925.6,2594.4L926.2,2590.9L926.8,2592.8L927.4,2586.0L928.0,2597.1L928.6,2587.2L929.2,2603.3L929.8,2588.7L930.4,2589.6L931.0,2597.8L931.6,2596.6L932.2,2588.1L932.8,2598.1L933.4,2596.8L934.0,2595.8L934.6,2599.3L935.2,2599.1L935.8,2602.5L936.4,2599.4L937.0,2598.3L937.6,2595.1L938.2,2601.1L938.8,2589.3L939.4,2604.4L940.0,2604.2L940.6,2603.0L941.2,2589.4L941.8,2600.7L942.4,2594.5L943.0,2595.0L943.6,2607.9L944.2,2592.6L944.8,2589.5L945.4,2577.1L946.0,2572.9L946.6,2585.9L947.2,2586.7L947.8,2589.3L948.4,2586.6L949.0,2577.3L949.6,2588.9L950.2,2591.5L950.8,2592.4L951.4,2576.6L952.0,2576.1L952.6,2576.9L953.2,2576.8L953.8,2573.0L954.4,2582.0L955.0,2592.7L955.6,2579.4L956.2,2575.7L956.8,2583.6L957.4,2582.6L958.0,2588.6L958.6,2583.2L959.2,2589.0L959.8,2587.8L960.4,2588.3L961.0,2594.9L961.6,2596.0L962.2,2594.5L962.8,2599.3L963.4,2590.1L964.0,2596.4L964.6,2596.1L965.2,2600.6L965.8,2583.5L966.4,2592.4L967.0,2594.3L967.6,2587.6L968.2,2587.7L968.8,2590.4L969.4,2590.4L970.0,2579.8L970.6,2579.4L971.2,2571.8L971.8,2589.6L972.4,2585.2L973.0,2589.0L973.6,2582.5L974.2,2576.6L974.8,2590.2L975.4,2575.2L976.0,2584.5L976.6,2584.4L977.2,2593.1L977.8,2594.1L978.4,2584.7L979.0,2583.5L979.6,2586.9L980.2,2583.3L980.8,2594.1L981.4,2594.2L982.0,2601.5L982.6,2610.0L983.2,2590.1L983.8,2590.3L984.4,2599.7L985.0,2599.9L985.6,2594.8L986.2,2585.6L986.8,2608.8L987.4,2597.5L988.0,2588.9L988.6,2583.2L989.2,2605.7L989.8,2598.6L990.4,2594.7L991.0,2587.2L991.6,2590.9L992.2,2589.8L992.8,2580.1L993.4,2606.9L994.0,2596.5L994.6,2591.3L995.2,2589.0L995.8,2591.8L996.4,2607.7L997.0,2596.5L997.6,2587.4L998.2,2598.6L998.8,2594.5L999.4,2594.8L1000.0,2592.3L1000.6,2592.3L1001.2,2595.5L1001.8,2591.2L1002.4,2584.9L1003.0,2585.4L1003.6,2590.1L1004.2,2578.6L1004.8,2584.7L1005.4,2585.6L1006.0,2596.3L1006.6,2595.0L1007.2,2591.8L1007.8,2593.9L1008.4,2600.3L1009.0,2604.2L1009.6,2593.0L1010.2,2591.0L1010.8,2595.7L1011.4,2586.5L1012.0,2595.4L1012.6,2603.7L1013.2,2605.7L1013.8,2606.6L1014.4,2599.7L1015.0,2599.5L1015.6,2596.5L1016.2,2597.0L1016.8,2600.4L1017.4,2602.6L1018.0,2599.1L1018.6,2586.4L1019.2,2598.7L1019.8,2596.1L1020.4,2592.5L1021.0,2596.2L1021.6,2601.1L1022.2,2595.9L1022.8,2592.6L1023.4,2615.1L1024.0,2593.7L1024.6,2599.3L1025.2,2602.0L1025.8,2591.4L1026.4,2598.1L1027.0,2589.1L1027.6,2592.5L1028.2,2590.3L1028.8,2604.7L1029.4,2588.0L1030.0,2598.6L1030.6,2595.4L1031.2,2585.9L1031.8,2604.9L1032.4,2591.8L1033.0,2592.4L1033.6,2593.4L1034.2,2587.2L1034.8,2589.7L1035.4,2592.1L1036.0,2589.0L1036.6,2592.9L1037.2,2598.2L1037.8,2583.0L1038.4,2579.3L1039.0,2587.9L1039.6,2589.1L1040.2,2589.4L1040.8,2580.6L1041.4,2575.7L1042.0,2592.7L1042.6,2594.8L1043.2,2601.8L1043.8,2585.5L1044.4,2594.1L1045.0,2597.5L1045.6,2581.1L1046.2,2597.4L1046.8,2602.5L1047.4,2599.8L1048.0,2597.9L1048.6,2600.4L1049.2,2593.9L1049.8,2588.2L1050.4,2591.6L1051.0,2594.3L1051.6,2590.2L1052.2,2596.6L1052.8,2589.0L1053.4,2591.1L1054.0,2582.5L1054.6,2596.0L1055.2,2589.6L1055.8,2600.4L1056.4,2580.7L1057.0,2593.1L1057.6,2588.9L1058.2,2590.0L1058.8,2601.8L1059.4,2595.8L1060.0,2586.4L1060.6,2596.1L1061.2,2587.1L1061.8,2596.2L1062.4,2583.2L1063.0,2588.4L1063.6,2588.6L1064.2,2587.8L1064.8,2580.3L1065.4,2579.9L1066.0,2589.9L1066.6,2593.1L1067.2,2589.7L1067.8,2585.6L1068.4,2577.8L1069.0,2585.6L1069.6,2586.4L1070.2,2586.5L1070.8,2589.2L1071.4,2589.3L1072.0,2592.1L1072.6,2590.4L1073.2,2587.6L1073.8,2592.8L1074.4,2591.5L1075.0,2585.4L1075.6,2593.6L1076.2,2587.7L1076.8,2587.2L1077.4,2593.8L1078.0,2594.8L1078.6,2602.1L1079.2,2597.1L1079.8,2605.5L1080.4,2612.7L1081.0,2603.7L1081.6,2603.6L1082.2,2597.7L1082.8,2604.0L1083.4,2601.0L1084.0,2600.9L1084.6,2592.9L1085.2,2594.2L1085.8,2594.3L1086.4,2598.0L1087.0,2604.8L1087.6,2590.4L1088.2,2596.2L1088.8,2594.1L1089.4,2607.0L1090.0,2594.5L1090.6,2592.2L1091.2,2598.8L1091.8,2589.1L1092.4,2598.1L1093.0,2584.8L1093.6,2606.9L1094.2,2595.2L1094.8,2593.8L1095.4,2590.6L1096.0,2598.6L1096.6,2600.5L1097.2,2598.2L1097.8,2610.6L1098.4,2602.9L1099.0,2605.3L1099.6,2605.8L1100.2,2612.7L1100.8,2605.1L1101.4,2607.6L1102.0,2609.5L1102.6,2611.7L1103.2,2596.4L1103.8,2614.5L1104.4,2607.3L1105.0,2602.0L1105.6,2605.2L1106.2,2592.9L1106.8,2600.4L1107.4,2603.3L1108.0,2610.1L1108.6,2604.5L1109.2,2609.2L1109.8,2604.7L1110.4,2612.5L1111.0,2604.7L1111.6,2607.3L1112.2,2604.3L1112.8,2598.3L1113.4,2595.8L1114.0,2598.7L1114.6,2609.6L1115.2,2621.8L1115.8,2600.1L1116.4,2599.2L1117.0,2605.1L1117.6,2605.5L1118.2,2600.1L1118.8,2614.6L1119.4,2605.0L1120.0,2607.2L1120.6,2605.1L1121.2,2606.0L1121.8,2612.9L1122.4,2602.2L1123.0,2604.0L1123.6,2608.7L1124.2,2599.7L1124.8,2617.4L1125.4,2604.3L1126.0,2608.0L1126.6,2609.0L1127.2,2614.6L1127.8,2604.5L1128.4,2603.5L1129.0,2603.1L1129.6,2609.2L1130.2,2604.1L1130.8,2618.0L1131.4,2613.9L1132.0,2590.3L1132.6,2601.7L1133.2,2608.3L1133.8,2618.4L1134.4,2595.2L1135.0,2602.3L1135.6,2612.1L1136.2,2598.9L1136.8,2603.5L1137.4,2599.7L1138.0,2605.1L1138.6,2593.8L1139.2,2599.5L1139.8,2593.8L1140.4,2604.4L1141.0,2603.2L1141.6,2597.6L1142.2,2596.6L1142.8,2595.8L1143.4,2590.5L1144.0,2592.0L1144.6,2594.7L1145.2,2596.1L1145.8,2593.2L1146.4,2595.4L1147.0,2594.7L1147.6,2599.4L1148.2,2597.8L1148.8,2606.8L1149.4,2596.4L1150.0,2594.9L1150.6,2594.3L1151.2,2599.4L1151.8,2598.4L1152.4,2597.3L1153.0,2603.7L1153.6,2610.6L1154.2,2596.9L1154.8,2596.9L1155.4,2600.5L1156.0,2602.5L1156.6,2608.5L1157.2,2599.0L1157.8,2602.2L1158.4,2599.3L1159.0,2603.0L1159.6,2605.2L1160.2,2601.8L1160.8,2609.2L1161.4,2615.0L1162.0,2607.3L1162.6,2605.5L1163.2,2615.2L1163.8,2608.9L1164.4,2619.2L1165.0,2592.1L1165.6,2608.6L1166.2,2602.6L1166.8,2606.2L1167.4,2613.4L1168.0,2612.8L1168.6,2604.3L1169.2,2609.7L1169.8,2597.1L1170.4,2605.6L1171.0,2603.0L1171.6,2595.0L1172.2,2609.9L1172.8,2599.4L1173.4,2603.5L1174.0,2601.3L1174.6,2607.1L1175.2,2608.3L1175.8,2605.7L1176.4,2601.4L1177.0,2605.0L1177.6,2602.4L1178.2,2599.1L1178.8,2607.3L1179.4,2608.0L1180.0,2608.9L1180.6,2611.8L1181.2,2614.4L1181.8,2598.4L1182.4,2600.5L1183.0,2594.4L1183.6,2593.5L1184.2,2606.5L1184.8,2596.0L1185.4,2600.7L1186.0,2592.5L1186.6,2597.3L1187.2,2607.5L1187.8,2606.4L1188.4,2603.9L1189.0,2607.5L1189.6,2605.6L1190.2,2607.4L1190.8,2611.6L1191.4,2604.7L1192.0,2600.5L1192.6,2592.7L1193.2,2597.8L1193.8,2598.1L1194.4,2608.4L1195.0,2591.6L1195.6,2594.4L1196.2,2590.2L1196.8,2601.1L1197.4,2594.7L1198.0,2587.4L1198.6,2588.5L1199.2,2601.7L1199.8,2591.5L1200.4,2604.9L1201.0,2603.5L1201.6,2590.5L1202.2,2592.9L1202.8,2594.5L1203.4,2584.9L1204.0,2586.9L1204.6,2588.5L1205.2,2589.7L1205.8,2590.8L1206.4,2577.9L1207.0,2586.8L1207.6,2582.9L1208.2,2582.6L1208.8,2581.2L1209.4,2589.6L1210.0,2592.8L1210.6,2580.5L1211.2,2583.7L1211.8,2576.4L1212.4,2583.5L1213.0,2587.4L1213.6,2585.5L1214.2,2589.7L1214.8,2584.4L1215.4,2585.6L1216.0,2592.6L1216.6,2593.7L1217.2,2578.4L1217.8,2587.8L1218.4,2574.8L1219.0,2590.7L1219.6,2588.0L1220.2,2587.6L1220.8,2597.3L1221.4,2591.6L1222.0,2595.8L1222.6,2593.6L1223.2,2599.7L1223.8,2592.0L1224.4,2592.1L1225.0,2592.5L1225.6,2604.6L1226.2,2587.3L1226.8,2588.4L1227.4,2594.3L1228.0,2591.9L1228.6,2585.1L1229.2,2596.4L1229.8,2588.7L1230.4,2592.2L1231.0,2590.9L1231.6,2591.1L1232.2,2581.7L1232.8,2593.6L1233.4,2581.8L1234.0,2585.3L1234.6,2592.6L1235.2,2585.2L1235.8,2588.0L1236.4,2586.8L1237.0,2587.5L1237.6,2591.4L1238.2,2579.7L1238.8,2584.5L1239.4,2599.6L1240.0,2575.5L1240.6,2583.2L1241.2,2590.5L1241.8,2576.6L1242.4,2582.5L1243.0,2583.5L1243.6,2598.2L1244.2,2588.5L1244.8,2599.1L1245.4,2592.1L1246.0,2596.6L1246.6,2589.2L1247.2,2590.5L1247.8,2598.9L1248.4,2596.1L1249.0,2603.4L1249.6,2605.4L1250.2,2608.7L1250.8,2613.9L1251.4,2613.8L1252.0,2599.8L1252.6,2599.4L1253.2,2611.0L1253.8,2601.8L1254.4,2601.4L1255.0,2609.9L1255.6,2600.0L1256.2,2605.9L1256.8,2598.6L1257.4,2605.8L1258.0,2597.8L1258.6,2601.8L1259.2,2600.9L1259.8,2603.5L1260.4,2589.8L1261.0,2589.8L1261.6,2583.7L1262.2,2582.7L1262.8,2589.0L1263.4,2591.8L1264.0,2598.5L1264.6,2589.0L1265.2,2604.2L1265.8,2594.0L1266.4,2598.4L1267.0,2593.9L1267.6,2588.4L1268.2,2607.0L1268.8,2596.9L1269.4,2604.6L1270.0,2597.4L1270.6,2603.3L1271.2,2597.7L1271.8,2595.4L1272.4,2596.2L1273.0,2601.1L1273.6,2592.2L1274.2,2593.2L1274.8,2606.0L1275.4,2595.1L1276.0,2600.1L1276.6,2594.0L1277.2,2598.3L1277.8,2607.5L1278.4,2603.3L1279.0,2603.7L1279.6,2599.1L1280.2,2601.4L1280.8,2594.0L1281.4,2596.2L1282.0,2605.3L1282.6,2592.4L1283.2,2606.9L1283.8,2602.6L1284.4,2592.9L1285.0,2583.5L1285.6,2581.3L1286.2,2598.4L1286.8,2594.9L1287.4,2601.0L1288.0,2597.9L1288.6,2604.0L1289.2,2599.4L1289.8,2585.1L1290.4,2588.9L1291.0,2587.0L1291.6,2590.1L1292.2,2590.7L1292.8,2593.6L1293.4,2602.8L1294.0,2594.1L1294.6,2590.0L1295.2,2592.9L1295.8,2593.0L1296.4,2592.6L1297.0,2593.3L1297.6,2593.1L1298.2,2601.8L1298.8,2600.8L1299.4,2594.4L1300.0,2604.7L1300.6,2606.4L1301.2,2598.2L1301.8,2593.5L1302.4,2599.8L1303.0,2598.5L1303.6,2600.6L1304.2,2591.3L1304.8,2609.8L1305.4,2597.1L1306.0,2599.0L1306.6,2593.2L1307.2,2598.8L1307.8,2587.3L1308.4,2589.2L1309.0,2582.3L1309.6,2602.4L1310.2,2587.6L1310.8,2583.8L1311.4,2599.5L1312.0,2589.1L1312.6,2592.7L1313.2,2602.2L1313.8,2598.6L1314.4,2597.5L1315.0,2602.0L1315.6,2588.5L1316.2,2605.0L1316.8,2606.1L1317.4,2611.1L1318.0,2589.8L1318.6,2596.0L1319.2,2600.4L1319.8,2616.2L1320.4,2608.3L1321.0,2618.2L1321.6,2609.7L1322.2,2601.9L1322.8,2598.5L1323.4,2603.7L1324.0,2615.9L1324.6,2602.0L1325.2,2597.5L1325.8,2608.4L1326.4,2613.3L1327.0,2619.0L1327.6,2614.2L1328.2,2612.9L1328.8,2599.5L1329.4,2608.7L1330.0,2608.2L1330.6,2612.1L1331.2,2608.6L1331.8,2625.9L1332.4,2632.9L1333.0,2631.6L1333.6,2626.3L1334.2,2625.6L1334.8,2622.4L1335.4,2624.4L1336.0,2615.0L1336.6,2627.5L1337.2,2621.0L1337.8,2619.2L1338.4,2625.4L1339.0,2616.9L1339.6,2625.3L1340.2,2630.9L1340.8,2618.9L1341.4,2617.6L1342.0,2612.4L1342.6,2623.7L1343.2,2621.3L1343.8,2606.8L1344.4,2621.3L1345.0,2614.9L1345.6,2611.8L1346.2,2617.4L1346.8,2614.9L1347.4,2624.7L1348.0,2611.4L1348.6,2611.6L1349.2,2612.4L1349.8,2617.1L1350.4,2622.2L1351.0,2613.4L1351.6,2616.5L1352.2,2614.8L1352.8,2625.8L1353.4,2621.6L1354.0,2637.8L1354.6,2637.8L1355.2,2622.9L1355.8,2624.9L1356.4,2625.8L1357.0,2620.9L1357.6,2621.2L1358.2,2629.0L1358.8,2624.1L1359.4,2622.5L1360.0,2621.9L1360.6,2626.9L1361.2,2617.1L1361.8,2619.3L1362.4,2618.1L1363.0,2618.6L1363.6,2611.5L1364.2,2608.2L1364.8,2611.6L1365.4,2620.0L1366.0,2619.4L1366.6,2619.4L1367.2,2622.8L1367.8,2635.9L1368.4,2627.7L1369.0,2613.9L1369.6,2632.2L1370.2,2625.1L1370.8,2618.7L1371.4,2634.0L1372.0,2626.5L1372.6,2634.2L1373.2,2626.3L1373.8,2635.3L1374.4,2627.0L1375.0,2635.4L1375.6,2633.2L1376.2,2620.7L1376.8,2629.2L1377.4,2629.5L1378.0,2628.2L1378.6,2621.0L1379.2,2634.7L1379.8,2629.9L1380.4,2637.4L1381.0,2627.8L1381.6,2639.2L1382.2,2635.7L1382.8,2649.2L1383.4,2627.8L1384.0,2637.5L1384.6,2630.1L1385.2,2627.2L1385.8,2637.7L1386.4,2635.8L1387.0,2639.4L1387.6,2622.7L1388.2,2624.2L1388.8,2637.6L1389.4,2629.3L1390.0,2640.2L1390.6,2641.8L1391.2,2630.7L1391.8,2629.5L1392.4,2630.4L1393.0,2628.6L1393.6,2629.9L1394.2,2630.7L1394.8,2635.0L1395.4,2632.1L1396.0,2630.1L1396.6,2633.0L1397.2,2632.7L1397.8,2634.2L1398.4,2637.3L1399.0,2647.6L1399.6,2628.6L1400.2,2632.6L1400.8,2642.1L1401.4,2642.1L1402.0,2641.6L1402.6,2654.4L1403.2,2633.4L1403.8,2643.2L1404.4,2636.9L1405.0,2645.7L1405.6,2650.5L1406.2,2642.1L1406.8,2657.7L1407.4,2649.4L1408.0,2647.9L1408.6,2646.9L1409.2,2650.9L1409.8,2649.8L1410.4,2661.4L1411.0,2653.0L1411.6,2661.3L1412.2,2666.6L1412.8,2659.3L1413.4,2666.2L1414.0,2655.3L1414.6,2662.3L1415.2,2656.7L1415.8,2668.4L1416.4,2655.3L1417.0,2654.6L1417.6,2655.3L1418.2,2648.7L1418.8,2651.0L1419.4,2651.1L1420.0,2651.5L1420.6,2643.6L1421.2,2645.8L1421.8,2643.7L1422.4,2646.8L1423.0,2647.2L1423.6,2644.5L1424.2,2641.9L1424.8,2649.7L1425.4,2634.1L1426.0,2647.9L1426.6,2641.8L1427.2,2630.4L1427.8,2640.3L1428.4,2631.8L1429.0,2638.9L1429.6,2629.6L1430.2,2645.1L1430.8,2635.0L1431.4,2648.7L1432.0,2635.7L1432.6,2638.7L1433.2,2629.7L1433.8,2637.2L1434.4,2636.8L1435.0,2640.3L1435.6,2652.6L1436.2,2651.7L1436.8,2646.3L1437.4,2640.1L1438.0,2641.2L1438.6,2640.7L1439.2,2636.7L1439.8,2649.2L1440.4,2645.9L1441.0,2648.0L1441.6,2643.6L1442.2,2649.1L1442.8,2656.6L1443.4,2650.9L1444.0,2652.8L1444.6,2642.5L1445.2,2645.1L1445.8,2645.0L1446.4,2651.9L1447.0,2650.2L1447.6,2644.6L1448.2,2649.5L1448.8,2647.8L1449.4,2637.5L1450.0,2648.2L1450.6,2654.5L1451.2,2645.3L1451.8,2657.4L1452.4,2654.4L1453.0,2653.3L1453.6,2655.0L1454.2,2650.2L1454.8,2659.8L1455.4,2648.4L1456.0,2651.4L1456.6,2661.0L1457.2,2655.0L1457.8,2672.1L1458.4,2664.3L1459.0,2665.9L1459.6,2668.4L1460.2,2661.9L1460.8,2664.3L1461.4,2667.9L1462.0,2665.1L1462.6,2673.3L1463.2,2668.4L1463.8,2662.0L1464.4,2668.4L1465.0,2661.0L1465.6,2663.8L1466.2,2659.6L1466.8,2655.0L1467.4,2650.5L1468.0,2651.3L1468.6,2653.0L1469.2,2651.4L1469.8,2633.9L1470.4,2648.5L1471.0,2657.4L1471.6,2658.0L1472.2,2651.9L1472.8,2652.4L1473.4,2667.0L1474.0,2648.6L1474.6,2655.7L1475.2,2662.0L1475.8,2647.6L1476.4,2660.5L1477.0,2649.1L1477.6,2661.3L1478.2,2668.9L1478.8,2646.2L1479.4,2652.8L1480.0,2657.4L1480.6,2651.3L1481.2,2659.4L1481.8,2654.8L1482.4,2655.2L1483.0,2655.3L1483.6,2662.3L1484.2,2666.1L1484.8,2671.5L1485.4,2666.8L1486.0,2661.7L1486.6,2666.9L1487.2,2668.2L1487.8,2670.8L1488.4,2675.4L1489.0,2669.8L1489.6,2672.4L1490.2,2672.8L1490.8,2669.4L1491.4,2670.8L1492.0,2677.6L1492.6,2671.0L1493.2,2671.3L1493.8,2663.5L1494.4,2668.2L1495.0,2669.9L1495.6,2677.4L1496.2,2665.9L1496.8,2681.7L1497.4,2679.0L1498.0,2674.4L1498.6,2677.9L1499.2,2687.1L1499.8,2692.6L1500.4,2674.6L1501.0,2676.5L1501.6,2673.6L1502.2,2678.7L1502.8,2675.4L1503.4,2681.2L1504.0,2677.2L1504.6,2678.4L1505.2,2684.6L1505.8,2673.3L1506.4,2671.9L1507.0,2674.3L1507.6,2666.6L1508.2,2665.9L1508.8,2674.1L1509.4,2670.0L1510.0,2666.2L1510.6,2680.6L1511.2,2677.4L1511.8,2676.6L1512.4,2671.8L1513.0,2672.2L1513.6,2667.9L1514.2,2677.0L1514.8,2665.4L1515.4,2675.4L1516.0,2676.3L1516.6,2669.8L1517.2,2680.0L1517.8,2672.8L1518.4,2685.4L1519.0,2683.2L1519.6,2673.3L1520.2,2670.9L1520.8,2668.6L1521.4,2667.8L1522.0,2672.9L1522.6,2663.7L1523.2,2678.4L1523.8,2675.9L1524.4,2670.0L1525.0,2672.1L1525.6,2681.6L1526.2,2669.4L1526.8,2679.6L1527.4,2668.4L1528.0,2665.0L1528.6,2672.3L1529.2,2658.1L1529.8,2674.2L1530.4,2669.4L1531.0,2666.8L1531.6,2669.8L1532.2,2666.5L1532.8,2674.5L1533.4,2672.9L1534.0,2669.5L1534.6,2665.2L1535.2,2661.5L1535.8,2666.3L1536.4,2652.5L1537.0,2672.7L1537.6,2668.2L1538.2,2656.5L1538.8,2667.9L1539.4,2658.5L1540.0,2660.9L1540.6,2654.4L1541.2,2662.0L1541.8,2666.4L1542.4,2664.5L1543.0,2667.4L1543.6,2661.5L1544.2,2668.3L1544.8,2657.9L1545.4,2661.4L1546.0,2647.8L1546.6,2660.0L1547.2,2658.0L1547.8,2662.0L1548.4,2665.4L1549.0,2669.1L1549.6,2656.8L1550.2,2662.3L1550.8,2653.7L1551.4,2674.1L1552.0,2671.2L1552.6,2670.6L1553.2,2674.6L1553.8,2672.2L1554.4,2663.2L1555.0,2671.9L1555.6,2675.9L1556.2,2676.8L1556.8,2669.0L1557.4,2667.4L1558.0,2682.6L1558.6,2669.3L1559.2,2671.0L1559.8,2659.6L1560.4,2670.8L1561.0,2668.1L1561.6,2659.9L1562.2,2671.9L1562.8,2663.9L1563.4,2668.4L1564.0,2666.9L1564.6,2658.1L1565.2,2663.4L1565.8,2668.9L1566.4,2656.2L1567.0,2656.1L1567.6,2656.1L1568.2,2663.3L1568.8,2654.3L1569.4,2659.5L1570.0,2663.5L1570.6,2649.8L1571.2,2664.8L1571.8,2658.2L1572.4,2657.6L1573.0,2669.2L1573.6,2665.6L1574.2,2652.7L1574.8,2661.0L1575.4,2657.4L1576.0,2663.3L1576.6,2658.9L1577.2,2658.9L1577.8,2668.2L1578.4,2653.9L1579.0,2663.5L1579.6,2661.1L1580.2,2662.7L1580.8,2646.2L1581.4,2653.2L1582.0,2654.1L1582.6,2664.3L1583.2,2649.8L1583.8,2648.2L1584.4,2652.5L1585.0,2654.7L1585.6,2648.6L1586.2,2653.4L1586.8,2643.3L1587.4,2659.8L1588.0,2649.5L1588.6,2652.1L1589.2,2667.4L1589.8,2648.9L1590.4,2644.6L1591.0,2646.9L1591.6,2662.0L1592.2,2650.7L1592.8,2648.5L1593.4,2652.8L1594.0,2651.9L1594.6,2661.1L1595.2,2658.6L1595.8,2656.6L1596.4,2657.9L1597.0,2651.4L1597.6,2647.7L1598.2,2654.2L1598.8,2657.2L1599.4,2654.7L1600.0,2654.2L1600.6,2656.2L1601.2,2648.4L1601.8,2654.2L1602.4,2652.7L1603.0,2649.0L1603.6,2660.1L1604.2,2656.6L1604.8,2659.1L1605.4,2658.7L1606.0,2649.8L1606.6,2662.9L1607.2,2660.8L1607.8,2665.1L1608.4,2670.7L1609.0,2658.6L1609.6,2660.3L1610.2,2662.1L1610.8,2665.7L1611.4,2664.4L1612.0,2645.9L1612.6,2665.2L1613.2,2655.3L1613.8,2663.7L1614.4,2657.3L1615.0,2661.7L1615.6,2670.7L1616.2,2656.5L1616.8,2669.0L1617.4,2659.3L1618.0,2664.0L1618.6,2663.9L1619.2,2665.8L1619.8,2678.8L1620.4,2681.7L1621.0,2671.3L1621.6,2654.8L1622.2,2665.2L1622.8,2661.1L1623.4,2665.8L1624.0,2658.7L1624.6,2669.8L1625.2,2661.5L1625.8,2661.2L1626.4,2657.2L1627.0,2655.5L1627.6,2660.7L1628.2,2659.9L1628.8,2663.2L1629.4,2663.7L1630.0,2662.1L1630.6,2666.1L1631.2,2663.3L1631.8,2659.9L1632.4,2660.8L1633.0,2670.8L1633.6,2671.7L1634.2,2668.5L1634.8,2671.1L1635.4,2674.7L1636.0,2671.4L1636.6,2689.4L1637.2,2676.9L1637.8,2674.6L1638.4,2666.7L1639.0,2677.4L1639.6,2680.3L1640.2,2674.2L1640.8,2683.0L1641.4,2674.1L1642.0,2676.4L1642.6,2675.9L1643.2,2670.0L1643.8,2664.5L1644.4,2667.8L1645.0,2661.6L1645.6,2678.8L1646.2,2673.0L1646.8,2672.6L1647.4,2669.2L1648.0,2676.1L1648.6,2667.7L1649.2,2683.1L1649.8,2679.5L1650.4,2669.8L1651.0,2672.6L1651.6,2679.4L1652.2,2682.9L1652.8,2672.3L1653.4,2675.4L1654.0,2693.7L1654.6,2683.3L1655.2,2681.0L1655.8,2686.4L1656.4,2678.2L1657.0,2674.9L1657.6,2667.9L1658.2,2681.7L1658.8,2670.1L1659.4,2678.8L1660.0,2665.7L1660.6,2673.2L1661.2,2679.5L1661.8,2673.2L1662.4,2675.2L1663.0,2673.6L1663.6,2679.9L1664.2,2673.1L1664.8,2677.3L1665.4,2688.7L1666.0,2688.6L1666.6,2691.5L1667.2,2680.2L1667.8,2677.3L1668.4,2679.8L1669.0,2679.5L1669.6,2678.0L1670.2,2680.8L1670.8,2667.5L1671.4,2672.1L1672.0,2666.7L1672.6,2674.1L1673.2,2684.1L1673.8,2681.6L1674.4,2686.3L1675.0,2685.9L1675.6,2690.0L1676.2,2683.1L1676.8,2692.0L1677.4,2697.7L1678.0,2705.0L1678.6,2711.3L1679.2,2703.6L1679.8,2702.5L1680.4,2703.0L1681.0,2707.6L1681.6,2686.6L1682.2,2684.3L1682.8,2682.6L1683.4,2681.4L1684.0,2691.4L1684.6,2683.2L1685.2,2685.6L1685.8,2694.5L1686.4,2690.5L1687.0,2685.9L1687.6,2674.5L1688.2,2671.2L1688.8,2682.7L1689.4,2689.0L1690.0,2675.7L1690.6,2678.5L1691.2,2662.5L1691.8,2690.6L1692.4,2679.3L1693.0,2670.8L1693.6,2677.5L1694.2,2671.3L1694.8,2676.1L1695.4,2686.2L1696.0,2670.8L1696.6,2675.7L1697.2,2673.1L1697.8,2672.6L1698.4,2679.4L1699.0,2685.8L1699.6,2679.0L1700.2,2673.0L1700.8,2677.0L1701.4,2675.6L1702.0,2679.3L1702.6,2674.8L1703.2,2681.4L1703.8,2691.0L1704.4,2681.2L1705.0,2686.5L1705.6,2682.1L1706.2,2683.8L1706.8,2676.2L1707.4,2696.2L1708.0,2685.9L1708.6,2685.8L1709.2,2687.7L1709.8,2675.2L1710.4,2674.6L1711.0,2678.4L1711.6,2670.2L1712.2,2674.4L1712.8,2685.6L1713.4,2669.9L1714.0,2679.3L1714.6,2686.8L1715.2,2687.3L1715.8,2691.8L1716.4,2689.9L1717.0,2703.4L1717.6,2685.7L1718.2,2702.0L1718.8,2694.2L1719.4,2702.1L1720.0,2706.7L1720.6,2716.4L1721.2,2703.8L1721.8,2700.1L1722.4,2716.2L1723.0,2709.0L1723.6,2712.0L1724.2,2716.3L1724.8,2719.5L1725.4,2710.2L1726.0,2692.7L1726.6,2700.3L1727.2,2700.3L1727.8,2692.9L1728.4,2692.1L1729.0,2699.5L1729.6,2695.9L1730.2,2687.8L1730.8,2695.8L1731.4,2691.8L1732.0,2684.0L1732.6,2688.9L1733.2,2684.7L1733.8,2690.7L1734.4,2695.3L1735.0,2687.1L1735.6,2684.9L1736.2,2694.5L1736.8,2686.3L1737.4,2691.5L1738.0,2693.1L1738.6,2694.8L1739.2,2696.9L1739.8,2693.3L1740.4,2691.7L1741.0,2694.9L1741.6,2704.5L1742.2,2703.9L1742.8,2696.8L1743.4,2704.7L1744.0,2702.7L1744.6,2692.9L1745.2,2705.3L1745.8,2711.9L1746.4,2698.3L1747.0,2685.7L1747.6,2701.9L1748.2,2698.2L1748.8,2693.3L1749.4,2681.4L1750.0,2691.5L1750.6,2690.7L1751.2,2689.4L1751.8,2688.0L1752.4,2695.3L1753.0,2688.5L1753.6,2695.4L1754.2,2683.7L1754.8,2689.9L1755.4,2695.4L1756.0,2690.4L1756.6,2697.7L1757.2,2696.4L1757.8,2698.9L1758.4,2698.2L1759.0,2703.7L1759.6,2691.2L1760.2,2696.2L1760.8,2709.0L1761.4,2698.6L1762.0,2709.0L1762.6,2703.3L1763.2,2700.1L1763.8,2702.7L1764.4,2711.9L1765.0,2702.7L1765.6,2697.1L1766.2,2708.2L1766.8,2709.5 L1768.5,2641" fill="none" stroke="#e81010" stroke-width="3.6" stroke-linejoin="round" clip-path="url(#cb)"/>
<line x1="313.6" y1="2475.5" x2="314.6" y2="2722.0" stroke="#66dd66" stroke-width="5" clip-path="url(#cb)"/>
<path d="M316.5,2724.2L317.0,2713.5L317.5,2713.7L318.0,2712.3L318.5,2706.7L319.0,2711.0L319.5,2701.6L320.0,2693.0L320.5,2688.8L321.0,2690.2L321.5,2694.8L322.0,2684.0L322.5,2682.1L323.0,2680.4L323.5,2677.7L324.0,2683.1L324.5,2670.4L325.0,2669.9L325.5,2665.5L326.0,2666.0L326.5,2657.1L327.0,2665.1L327.5,2657.2L328.0,2654.8L328.5,2648.3L329.0,2647.1L329.5,2648.8L330.0,2648.8L330.5,2646.7L331.0,2643.8L331.5,2640.7L332.0,2636.4L332.5,2636.5L333.0,2633.9L333.5,2629.0L334.0,2630.1L334.5,2629.8L335.0,2623.8L335.5,2620.6L336.0,2623.8L336.5,2626.2L337.0,2616.9L337.5,2616.3L338.0,2613.9L338.5,2618.3L339.0,2605.6L339.5,2612.6L340.0,2614.8L340.5,2605.4L341.0,2611.5L341.5,2605.2L342.0,2600.9L342.5,2602.1L343.0,2593.4L343.5,2594.2L344.0,2599.8L344.5,2589.0L345.0,2594.8L345.5,2586.2L346.0,2590.1L346.5,2586.2L347.0,2575.5L347.5,2580.1L348.0,2582.6L348.5,2576.4L349.0,2577.4L349.5,2581.2L350.0,2576.6L350.5,2572.4L351.0,2575.8L351.5,2580.9L352.0,2574.5L352.5,2578.7L353.0,2581.5L353.5,2575.3L354.0,2570.0L354.5,2570.6L355.0,2574.7L355.5,2576.2L356.0,2573.0L356.5,2571.5L357.0,2568.7L357.5,2569.2L358.0,2565.8L358.5,2564.2L359.0,2560.0L359.5,2558.7L360.0,2561.9L360.5,2556.5L361.0,2555.6L361.5,2560.6L362.0,2556.7L362.5,2566.3L363.0,2558.9L363.5,2553.6L364.0,2558.3L364.5,2555.9L365.0,2552.1L365.5,2558.3L366.0,2551.3L366.5,2542.9L367.0,2555.6L367.5,2552.5L368.0,2561.4L368.5,2554.4L369.0,2549.8L369.5,2558.1L370.0,2547.8L370.5,2552.2L371.0,2554.3L371.5,2550.0L372.0,2548.9L372.5,2548.6L373.0,2549.9L373.5,2543.1L374.0,2547.2L374.5,2546.7L375.0,2552.0L375.5,2540.9L376.0,2537.9L376.5,2544.5L377.0,2541.3L377.5,2544.0L378.0,2543.4L378.5,2547.3L379.0,2539.4L379.5,2539.6L380.0,2531.6L380.5,2537.4L381.0,2545.0L381.5,2535.8L382.0,2534.4L382.5,2529.6L383.0,2534.3L383.5,2531.5L384.0,2527.1L384.5,2531.1L385.0,2527.7L385.5,2526.6L386.0,2520.3L386.5,2528.0L387.0,2523.2L387.5,2519.3L388.0,2516.5L388.5,2516.5L389.0,2519.6L389.5,2513.2L390.0,2516.9L390.5,2514.7L391.0,2515.4L391.5,2510.4L392.0,2505.8L392.5,2498.3L393.0,2506.2L393.5,2507.3L394.0,2503.5L394.5,2503.7L395.0,2499.4L395.5,2500.0L396.0,2497.0L396.5,2505.9L397.0,2502.7L397.5,2501.2L398.0,2499.1L398.5,2504.8L399.0,2511.7L399.5,2509.3L400.0,2506.8L400.5,2514.4L401.0,2515.4L401.5,2515.3L402.0,2514.6L402.5,2517.7L403.0,2516.0L403.5,2520.4L404.0,2515.3L404.5,2524.2L405.0,2520.6L405.5,2527.6L406.0,2512.6L406.5,2519.7L407.0,2518.5L407.5,2511.8L408.0,2512.3L408.5,2512.1L409.0,2508.5L409.5,2502.3L410.0,2499.8L410.5,2500.3L411.0,2497.9L411.5,2492.4L412.0,2490.6L412.5,2490.3L413.0,2492.7L413.5,2484.9L414.0,2482.8L414.5,2486.7L415.0,2479.2L415.5,2480.9L416.0,2480.4L416.5,2481.6L417.0,2475.7L417.5,2482.4L418.0,2473.1L418.5,2479.5L419.0,2470.6L419.5,2471.4L420.0,2477.8L420.5,2473.3L421.0,2471.9L421.5,2473.1L422.0,2476.2L422.5,2475.5L423.0,2473.9L423.5,2479.0L424.0,2471.8L424.5,2473.6L425.0,2473.8L425.5,2476.8L426.0,2475.2L426.5,2474.3L427.0,2467.7L427.5,2466.1L428.0,2467.7L428.5,2460.6L429.0,2463.2L429.5,2461.7L430.0,2455.3L430.5,2456.4L431.0,2455.1L431.5,2460.7L432.0,2461.4L432.5,2449.5L433.0,2449.5L433.5,2439.8L434.0,2447.0L434.5,2445.2 L434.8,2486" fill="none" stroke="#22dd22" stroke-width="4" stroke-linejoin="round" clip-path="url(#cb)"/>
<path d="M311.5,1519.0 H1929.5 V2725.3" fill="none" stroke="#000" stroke-width="4" stroke-linecap="square"/>
<line x1="311.5" y1="1517.0" x2="311.5" y2="2727.3" stroke="#000" stroke-width="4"/>
<line x1="311.5" y1="2725.3" x2="1931.5" y2="2725.3" stroke="#000" stroke-width="4"/>
<line x1="311.5" y1="2725.3" x2="311.5" y2="2749.3" stroke="#000" stroke-width="4" />
<line x1="581.2" y1="2725.3" x2="581.2" y2="2749.3" stroke="#000" stroke-width="4" />
<line x1="850.8" y1="2725.3" x2="850.8" y2="2749.3" stroke="#000" stroke-width="4" />
<line x1="1120.5" y1="2725.3" x2="1120.5" y2="2749.3" stroke="#000" stroke-width="4" />
<line x1="1390.2" y1="2725.3" x2="1390.2" y2="2749.3" stroke="#000" stroke-width="4" />
<line x1="1659.8" y1="2725.3" x2="1659.8" y2="2749.3" stroke="#000" stroke-width="4" />
<line x1="1929.5" y1="2725.3" x2="1929.5" y2="2749.3" stroke="#000" stroke-width="4" />
<line x1="446.3" y1="2725.3" x2="446.3" y2="2738.3" stroke="#000" stroke-width="4" />
<line x1="716.0" y1="2725.3" x2="716.0" y2="2738.3" stroke="#000" stroke-width="4" />
<line x1="985.7" y1="2725.3" x2="985.7" y2="2738.3" stroke="#000" stroke-width="4" />
<line x1="1255.3" y1="2725.3" x2="1255.3" y2="2738.3" stroke="#000" stroke-width="4" />
<line x1="1525.0" y1="2725.3" x2="1525.0" y2="2738.3" stroke="#000" stroke-width="4" />
<line x1="1794.7" y1="2725.3" x2="1794.7" y2="2738.3" stroke="#000" stroke-width="4" />
<line x1="311.5" y1="2725.3" x2="287.5" y2="2725.3" stroke="#000" stroke-width="4" />
<line x1="311.5" y1="2484.0" x2="287.5" y2="2484.0" stroke="#000" stroke-width="4" />
<line x1="311.5" y1="2242.8" x2="287.5" y2="2242.8" stroke="#000" stroke-width="4" />
<line x1="311.5" y1="2001.5" x2="287.5" y2="2001.5" stroke="#000" stroke-width="4" />
<line x1="311.5" y1="1760.3" x2="287.5" y2="1760.3" stroke="#000" stroke-width="4" />
<line x1="311.5" y1="1519.0" x2="287.5" y2="1519.0" stroke="#000" stroke-width="4" />
<line x1="311.5" y1="2604.7" x2="298.5" y2="2604.7" stroke="#000" stroke-width="4" />
<line x1="311.5" y1="2363.4" x2="298.5" y2="2363.4" stroke="#000" stroke-width="4" />
<line x1="311.5" y1="2122.2" x2="298.5" y2="2122.2" stroke="#000" stroke-width="4" />
<line x1="311.5" y1="1880.9" x2="298.5" y2="1880.9" stroke="#000" stroke-width="4" />
<line x1="311.5" y1="1639.6" x2="298.5" y2="1639.6" stroke="#000" stroke-width="4" />
<text x="149.77" y="2740.80" font-size="60" letter-spacing="0.6" >0.00</text>
<text x="150.44" y="2499.54" font-size="60" letter-spacing="0.6" >0.02</text>
<text x="149.18" y="2258.28" font-size="60" letter-spacing="0.6" >0.04</text>
<text x="150.06" y="2017.02" font-size="60" letter-spacing="0.6" >0.06</text>
<text x="150.03" y="1775.76" font-size="60" letter-spacing="0.6" >0.08</text>
<text x="149.77" y="1534.50" font-size="60" letter-spacing="0.6" >0.10</text>
<text x="295.32" y="2811.00" font-size="60" letter-spacing="1.0" >0</text>
<text x="513.09" y="2811.00" font-size="60" letter-spacing="1.0" >2000</text>
<text x="783.58" y="2811.00" font-size="60" letter-spacing="1.0" >4000</text>
<text x="1052.41" y="2811.00" font-size="60" letter-spacing="1.0" >6000</text>
<text x="1322.30" y="2811.00" font-size="60" letter-spacing="1.0" >8000</text>
<text x="1573.80" y="2811.00" font-size="60" letter-spacing="1.0" >10000</text>
<text x="1843.46" y="2811.00" font-size="60" letter-spacing="1.0" >12000</text>
<text x="1000.85" y="2882.50" font-size="73.5" letter-spacing="-0.60" >Time, s</text>
<text transform="translate(107.00,2582.96) rotate(-90) scale(0.9955,1)" font-size="73">Relative change in length, %</text>
<text x="60.38" y="1523.50" font-size="64" letter-spacing="4.69" >b)</text>
<line x1="1352.0" y1="1571.7" x2="1494.5" y2="1571.7" stroke="#000000" stroke-width="3.5" />
<line x1="1352.0" y1="1661.0" x2="1494.5" y2="1661.0" stroke="#802838" stroke-width="4.5" />
<line x1="1352.0" y1="1749.5" x2="1494.5" y2="1749.5" stroke="#22e040" stroke-width="5.5" />
<text x="1510.15" y="1591.40" font-size="59" letter-spacing="2.36" >400</text>
<text x="1613.49" y="1581.51" font-size="58.87" >°</text>
<text x="1635.50" y="1591.40" font-size="59" letter-spacing="2.45" >C_15min</text>
<text x="1510.15" y="1680.70" font-size="59" letter-spacing="2.36" >400</text>
<text x="1613.49" y="1670.81" font-size="58.87" >°</text>
<text x="1635.50" y="1680.70" font-size="59" letter-spacing="2.34" >C_180min</text>
<text x="1509.25" y="1772.60" font-size="59" letter-spacing="2.81" >350</text>
<text x="1613.49" y="1762.71" font-size="58.87" >°</text>
<text x="1635.50" y="1772.60" font-size="59" letter-spacing="2.45" >C<tspan stroke="#000" stroke-width="2.6">_</tspan>15min</text>
<path d="M414.2,3735.8L420.7,3731.2L421.4,3730.7L422.1,3730.2L422.8,3729.7L423.6,3729.1L424.5,3728.6L425.3,3727.9L426.2,3727.3L427.2,3726.6L428.1,3726.0L429.1,3725.3L430.1,3724.5L431.2,3723.8L432.2,3723.1L433.3,3722.3L434.4,3721.5L435.5,3720.7L436.7,3719.9L437.8,3719.1L439.0,3718.3L440.2,3717.4L441.4,3716.6L442.5,3715.8L443.7,3714.9L444.9,3714.1L446.1,3713.2L447.3,3712.4L448.6,3711.5L449.8,3710.7L451.0,3709.8L452.2,3708.9L453.4,3708.1L454.7,3707.2L455.9,3706.3L457.1,3705.5L458.3,3704.6L459.5,3703.7L460.8,3702.9L462.0,3702.0L463.2,3701.1L464.4,3700.3L465.7,3699.4L466.9,3698.5L468.1,3697.7L469.3,3696.8L470.6,3695.9L471.8,3695.1L473.0,3694.2L474.2,3693.3L475.4,3692.5L476.7,3691.6L477.9,3690.7L479.1,3689.8L480.3,3689.0L481.5,3688.1L482.8,3687.2L484.0,3686.3L485.2,3685.4L486.4,3684.6L487.6,3683.7L488.8,3682.8L490.0,3681.9L491.3,3681.0L492.5,3680.1L493.7,3679.2L494.9,3678.4L496.1,3677.5L497.3,3676.6L498.5,3675.7L499.7,3674.8L500.9,3673.9L502.1,3673.0L503.3,3672.1L504.5,3671.2L505.7,3670.3L506.9,3669.4L508.1,3668.5L509.3,3667.6L510.5,3666.7L511.7,3665.8L512.9,3664.9L514.1,3664.0L515.3,3663.1L516.5,3662.1L517.7,3661.2L518.9,3660.3L520.1,3659.4L521.3,3658.5L522.5,3657.6L523.7,3656.7L524.9,3655.8L526.1,3654.9L527.3,3654.0L528.4,3653.1L529.6,3652.2L530.8,3651.3L532.0,3650.4L533.2,3649.5L534.4,3648.6L535.6,3647.6L536.8,3646.7L538.0,3645.8L539.2,3644.9L540.4,3644.0L541.6,3643.1L542.8,3642.2L544.0,3641.3L545.2,3640.4L546.4,3639.5L547.6,3638.6L548.8,3637.7L550.0,3636.8L551.2,3635.9L552.4,3635.0L553.6,3634.1L554.8,3633.2L556.0,3632.3L557.2,3631.4L558.4,3630.5L559.6,3629.6L560.8,3628.7L562.0,3627.8L563.2,3626.9L564.4,3626.0L565.6,3625.1L566.8,3624.2L568.0,3623.3L569.2,3622.4L570.4,3621.5L571.6,3620.6L572.8,3619.7L574.0,3618.8L575.2,3617.9L576.4,3617.0L577.6,3616.1L578.8,3615.2L580.0,3614.3L581.2,3613.4L582.4,3612.5L583.6,3611.6L584.8,3610.7L586.0,3609.8L587.2,3608.9L588.4,3608.0L589.7,3607.1L590.9,3606.2L592.1,3605.3L593.3,3604.5L594.5,3603.6L595.7,3602.7L596.9,3601.8L598.1,3600.9L599.3,3600.0L600.5,3599.1L601.7,3598.2L603.0,3597.4L604.2,3596.5L605.4,3595.6L606.6,3594.7L607.8,3593.8L609.0,3593.0L610.3,3592.1L611.5,3591.2L612.7,3590.3L613.9,3589.5L615.1,3588.6L616.4,3587.7L617.6,3586.9L618.8,3586.0L620.0,3585.1L621.3,3584.3L622.5,3583.4L623.7,3582.5L624.9,3581.7L626.2,3580.8L627.4,3579.9L628.6,3579.1L629.9,3578.2L631.1,3577.4L632.3,3576.5L633.5,3575.6L634.8,3574.8L636.0,3573.9L637.2,3573.1L638.5,3572.2L639.7,3571.3L640.9,3570.5L642.1,3569.6L643.4,3568.8L644.6,3567.9L645.8,3567.0L647.1,3566.2L648.3,3565.3L649.5,3564.4L650.7,3563.6L652.0,3562.7L653.2,3561.9L654.4,3561.0L655.7,3560.1L656.9,3559.3L658.1,3558.4L659.4,3557.6L660.6,3556.7L661.8,3555.8L663.0,3555.0L664.3,3554.1L665.5,3553.3L666.7,3552.4L668.0,3551.5L669.2,3550.7L670.4,3549.8L671.6,3548.9L672.9,3548.1L674.1,3547.2L675.3,3546.4L676.6,3545.5L677.8,3544.6L679.0,3543.8L680.2,3542.9L681.5,3542.1L682.7,3541.2L683.9,3540.3L685.2,3539.5L686.4,3538.6L687.6,3537.7L688.8,3536.9L690.1,3536.0L691.3,3535.2L692.5,3534.3L693.8,3533.4L695.0,3532.6L696.2,3531.7L697.4,3530.9L698.7,3530.0L699.9,3529.1L701.1,3528.3L702.4,3527.4L703.6,3526.5L704.8,3525.7L706.0,3524.8L707.3,3524.0L708.5,3523.1L709.7,3522.2L711.0,3521.4L712.2,3520.5L713.4,3519.7L714.7,3518.8L715.9,3517.9L717.1,3517.1L718.3,3516.2L719.6,3515.4L720.8,3514.5L722.0,3513.6L723.3,3512.8L724.5,3511.9L725.7,3511.0L726.9,3510.2L728.2,3509.3L729.4,3508.5L730.6,3507.6L731.9,3506.7L733.1,3505.9L734.3,3505.0L735.6,3504.2L736.8,3503.3L738.0,3502.4L739.2,3501.6L740.5,3500.7L741.7,3499.9L742.9,3499.0L744.2,3498.1L745.4,3497.3L746.6,3496.4L747.8,3495.6L749.1,3494.7L750.3,3493.8L751.5,3493.0L752.8,3492.1L754.0,3491.3L755.2,3490.4L756.5,3489.5L757.7,3488.7L758.9,3487.8L760.1,3487.0L761.4,3486.1L762.6,3485.2L763.8,3484.4L765.1,3483.5L766.3,3482.7L767.5,3481.8L768.8,3480.9L770.0,3480.1L771.2,3479.2L772.4,3478.4L773.7,3477.5L774.9,3476.6L776.1,3475.8L777.4,3474.9L778.6,3474.1L779.8,3473.2L781.0,3472.3L782.3,3471.5L783.5,3470.6L784.7,3469.7L786.0,3468.9L787.2,3468.0L788.4,3467.1L789.6,3466.3L790.9,3465.4L792.1,3464.5L793.3,3463.7L794.5,3462.8L795.7,3461.9L797.0,3461.1L798.2,3460.2L799.4,3459.3L800.6,3458.4L801.8,3457.6L803.1,3456.7L804.3,3455.8L805.5,3454.9L806.7,3454.0L807.9,3453.1L809.1,3452.2L810.3,3451.3L811.5,3450.4L812.7,3449.5L813.9,3448.6L815.1,3447.7L816.3,3446.8L817.5,3445.9L818.7,3445.0L819.9,3444.1L821.0,3443.2L822.2,3442.2L823.4,3441.3L824.6,3440.4L825.8,3439.5L827.0,3438.5L828.1,3437.6L829.3,3436.7L830.5,3435.8L831.7,3434.8L832.8,3433.9L834.0,3433.0L835.2,3432.0L836.4,3431.1L837.5,3430.1L838.7,3429.2L839.9,3428.3L841.0,3427.3L842.2,3426.4L843.4,3425.4L844.5,3424.5L845.7,3423.5L846.9,3422.6L848.0,3421.6L849.2,3420.7L850.3,3419.7L851.5,3418.8L852.7,3417.8L853.8,3416.9L855.0,3415.9L856.1,3415.0L857.3,3414.0L858.4,3413.0L859.6,3412.1L860.7,3411.1L861.9,3410.1L863.0,3409.2L864.2,3408.2L865.3,3407.2L866.5,3406.3L867.6,3405.3L868.8,3404.3L869.9,3403.4L871.0,3402.4L872.2,3401.4L873.3,3400.5L874.5,3399.5L875.6,3398.5L876.8,3397.5L877.9,3396.6L879.1,3395.6L880.2,3394.6L881.3,3393.7L882.5,3392.7L883.6,3391.7L884.8,3390.7L885.9,3389.8L887.1,3388.8L888.2,3387.8L889.3,3386.9L890.5,3385.9L891.6,3384.9L892.8,3384.0L893.9,3383.0L895.1,3382.0L896.2,3381.1L897.4,3380.1L898.5,3379.1L899.7,3378.2L900.8,3377.2L902.0,3376.2L903.1,3375.3L904.3,3374.3L905.4,3373.4L906.6,3372.4L907.8,3371.5L908.9,3370.5L910.1,3369.6L911.2,3368.6L912.4,3367.7L913.6,3366.7L914.7,3365.8L915.9,3364.8L917.1,3363.9L918.3,3363.0L919.4,3362.1L920.6,3361.1L921.8,3360.2L923.0,3359.3L924.2,3358.4L925.4,3357.5L926.6,3356.5L927.8,3355.6L929.0,3354.7L930.2,3353.8L931.4,3352.9L932.6,3352.0L933.8,3351.1L935.0,3350.3L936.2,3349.4L937.4,3348.5L938.6,3347.6L939.8,3346.7L941.0,3345.8L942.2,3345.0L943.5,3344.1L944.7,3343.2L945.9,3342.4L947.1,3341.5L948.4,3340.6L949.6,3339.8L950.8,3338.9L952.1,3338.1L953.3,3337.2L954.5,3336.4L955.8,3335.5L957.0,3334.7L958.2,3333.8L959.5,3333.0L960.7,3332.2L962.0,3331.3L963.2,3330.5L964.5,3329.7L965.8,3328.9L967.0,3328.1L968.3,3327.2L969.5,3326.4L970.8,3325.6L972.1,3324.8L973.3,3324.0L974.6,3323.2L975.9,3322.5L977.2,3321.7L978.4,3320.9L979.7,3320.1L981.0,3319.3L982.3,3318.6L983.6,3317.8L984.9,3317.0L986.2,3316.2L987.4,3315.5L988.7,3314.7L990.0,3314.0L991.3,3313.2L992.6,3312.5L993.9,3311.7L995.2,3311.0L996.5,3310.2L997.8,3309.5L999.1,3308.7L1000.5,3308.0L1001.8,3307.3L1003.1,3306.6L1004.4,3305.8L1005.7,3305.1L1007.0,3304.4L1008.3,3303.7L1009.7,3303.0L1011.0,3302.3L1012.3,3301.6L1013.6,3300.9L1015.0,3300.2L1016.3,3299.5L1017.6,3298.8L1019.0,3298.1L1020.3,3297.4L1021.6,3296.7L1023.0,3296.1L1024.3,3295.4L1025.6,3294.7L1027.0,3294.0L1028.3,3293.4L1029.7,3292.7L1031.0,3292.0L1032.4,3291.4L1033.7,3290.7L1035.1,3290.0L1036.4,3289.4L1037.8,3288.7L1039.1,3288.1L1040.5,3287.4L1041.8,3286.8L1043.2,3286.1L1044.5,3285.5L1045.9,3284.8L1047.2,3284.2L1048.6,3283.6L1049.9,3282.9L1051.3,3282.3L1052.7,3281.7L1054.0,3281.0L1055.4,3280.4L1056.8,3279.8L1058.1,3279.1L1059.5,3278.5L1060.8,3277.9L1062.2,3277.3L1063.6,3276.7L1064.9,3276.0L1066.3,3275.4L1067.7,3274.8L1069.1,3274.2L1070.4,3273.6L1071.8,3273.0L1073.2,3272.4L1074.5,3271.8L1075.9,3271.2L1077.3,3270.6L1078.7,3270.0L1080.0,3269.4L1081.4,3268.8L1082.8,3268.2L1084.2,3267.6L1085.6,3267.0L1086.9,3266.4L1088.3,3265.9L1089.7,3265.3L1091.1,3264.7L1092.5,3264.1L1093.9,3263.6L1095.3,3263.0L1096.6,3262.4L1098.0,3261.9L1099.4,3261.3L1100.8,3260.7L1102.2,3260.2L1103.6,3259.6L1105.0,3259.1L1106.4,3258.6L1107.8,3258.0L1109.2,3257.5L1110.6,3257.0L1112.0,3256.5L1113.4,3255.9L1114.8,3255.4L1116.2,3254.9L1117.7,3254.5L1119.1,3254.0L1120.5,3253.5L1121.9,3253.0L1123.3,3252.6L1124.8,3252.1L1126.2,3251.7L1127.6,3251.3L1129.1,3250.9L1130.5,3250.5L1131.9,3250.1L1133.4,3249.7L1134.8,3249.3L1136.3,3248.9L1137.7,3248.5L1139.2,3248.2L1140.6,3247.8L1142.1,3247.5L1143.5,3247.2L1145.0,3246.8L1146.5,3246.5L1147.9,3246.2L1149.4,3245.9L1150.9,3245.6L1152.3,3245.3L1153.8,3245.1L1155.3,3244.8L1156.7,3244.5L1158.2,3244.2L1159.7,3244.0L1161.2,3243.7L1162.6,3243.5L1164.1,3243.2L1165.6,3243.0L1167.1,3242.8L1168.6,3242.6L1170.0,3242.3L1171.5,3242.1L1173.0,3241.9L1174.5,3241.7L1176.0,3241.5L1177.5,3241.3L1179.0,3241.1L1180.4,3241.0L1181.9,3240.8L1183.4,3240.6L1184.9,3240.5L1186.4,3240.3L1187.9,3240.1L1189.4,3240.0L1190.9,3239.9L1192.4,3239.7L1193.9,3239.6L1195.4,3239.5L1196.9,3239.3L1198.3,3239.2L1199.8,3239.1L1201.3,3239.0L1202.8,3238.9L1204.3,3238.8L1205.8,3238.7L1207.3,3238.6L1208.8,3238.5L1210.3,3238.5L1211.8,3238.4L1213.3,3238.4L1214.8,3238.3L1216.3,3238.2L1217.8,3238.2L1219.3,3238.2L1220.8,3238.1L1222.3,3238.1L1223.8,3238.1L1225.3,3238.1L1226.8,3238.1L1228.3,3238.1L1229.8,3238.1L1231.3,3238.1L1232.8,3238.1L1234.3,3238.1L1235.8,3238.2L1237.3,3238.2L1238.8,3238.3L1240.3,3238.3L1241.8,3238.4L1243.2,3238.4L1244.7,3238.5L1246.2,3238.6L1247.7,3238.7L1249.2,3238.8L1250.7,3238.9L1252.2,3239.0L1253.7,3239.2L1255.2,3239.3L1256.7,3239.5L1258.1,3239.6L1259.6,3239.8L1261.1,3240.0L1262.6,3240.2L1264.1,3240.4L1265.6,3240.6L1267.0,3240.8L1268.5,3241.0L1270.0,3241.3L1271.4,3241.5L1272.9,3241.8L1274.4,3242.0L1275.8,3242.3L1277.3,3242.6L1278.7,3243.0L1280.2,3243.3L1281.6,3243.6L1283.1,3244.0L1284.5,3244.4L1285.9,3244.7L1287.4,3245.2L1288.8,3245.6L1290.2,3246.0L1291.6,3246.5L1293.0,3246.9L1294.4,3247.4L1295.8,3247.9L1297.2,3248.4L1298.6,3249.0L1299.9,3249.5L1301.3,3250.1L1302.7,3250.6L1304.1,3251.2L1305.4,3251.8L1306.8,3252.4L1308.1,3253.0L1309.5,3253.7L1310.8,3254.3L1312.2,3255.0L1313.5,3255.6L1314.8,3256.3L1316.2,3257.0L1317.5,3257.7L1318.8,3258.4L1320.1,3259.1L1321.5,3259.8L1322.8,3260.5L1324.1,3261.2L1325.4,3261.9L1326.7,3262.7L1328.0,3263.4L1329.3,3264.2L1330.6,3264.9L1331.8,3265.7L1333.1,3266.5L1334.4,3267.3L1335.7,3268.0L1336.9,3268.8L1338.2,3269.6L1339.5,3270.4L1340.7,3271.3L1342.0,3272.1L1343.2,3272.9L1344.5,3273.7L1345.7,3274.6L1347.0,3275.4L1348.2,3276.3L1349.4,3277.1L1350.7,3278.0L1351.9,3278.8L1353.1,3279.7L1354.3,3280.6L1355.5,3281.4L1356.8,3282.3L1358.0,3283.2L1359.2,3284.1L1360.4,3285.0L1361.6,3285.9L1362.7,3286.8L1363.9,3287.7L1365.1,3288.6L1366.3,3289.5L1367.4,3290.5L1368.6,3291.4L1369.8,3292.4L1370.9,3293.3L1372.0,3294.3L1373.2,3295.3L1374.3,3296.2L1375.4,3297.2L1376.5,3298.2L1377.6,3299.2L1378.7,3300.3L1379.8,3301.3L1380.8,3302.3L1381.9,3303.4L1383.0,3304.4L1384.0,3305.5L1385.0,3306.6L1386.0,3307.7L1387.0,3308.8L1388.0,3309.9L1389.0,3311.0L1390.0,3312.1L1391.0,3313.2L1391.9,3314.4L1392.9,3315.5L1393.8,3316.7L1394.8,3317.9L1395.7,3319.0L1396.6,3320.2L1397.5,3321.4L1398.4,3322.6L1399.3,3323.8L1400.2,3325.0L1401.0,3326.2L1401.9,3327.4L1402.8,3328.7L1403.6,3329.9L1404.4,3331.1L1405.3,3332.4L1406.1,3333.6L1406.9,3334.9L1407.8,3336.1L1408.6,3337.4L1409.4,3338.6L1410.2,3339.9L1411.0,3341.2L1411.8,3342.4L1412.5,3343.7L1413.3,3345.0L1414.1,3346.3L1414.9,3347.6L1415.6,3348.9L1416.4,3350.1L1417.2,3351.4L1417.9,3352.7L1418.7,3354.0L1419.5,3355.3L1420.2,3356.6L1421.0,3357.9L1421.7,3359.2L1422.5,3360.5L1423.2,3361.8L1424.0,3363.1L1424.7,3364.4L1425.5,3365.7L1426.2,3367.0L1427.0,3368.3L1427.7,3369.6L1428.5,3370.9L1429.2,3372.2L1430.0,3373.5L1430.7,3374.8L1431.5,3376.1L1432.2,3377.4L1432.9,3378.7L1433.7,3380.0L1434.4,3381.3L1435.2,3382.6L1435.9,3383.9L1436.6,3385.2L1437.3,3386.5L1438.1,3387.9L1438.8,3389.2L1439.5,3390.5L1440.2,3391.8L1440.9,3393.1L1441.6,3394.4L1442.4,3395.8L1443.1,3397.1L1443.8,3398.4L1444.5,3399.7L1445.2,3401.1L1445.9,3402.4L1446.6,3403.7L1447.3,3405.1L1447.9,3406.4L1448.6,3407.7L1449.3,3409.0L1450.0,3410.4L1450.7,3411.7L1451.4,3413.0L1452.1,3414.4L1452.8,3415.7L1453.5,3417.0L1454.1,3418.4L1454.8,3419.7L1455.5,3421.0L1456.2,3422.4L1456.9,3423.7L1457.5,3425.1L1458.2,3426.4L1458.9,3427.7L1459.5,3429.1L1460.2,3430.4L1460.8,3431.8L1461.5,3433.1L1462.1,3434.5L1462.7,3435.8L1463.4,3437.2L1464.0,3438.5L1464.6,3439.9L1465.2,3441.3L1465.8,3442.6L1466.4,3444.0L1466.9,3445.4L1467.5,3446.8L1468.1,3448.2L1468.6,3449.6L1469.1,3451.0L1469.7,3452.3L1470.2,3453.7L1470.7,3455.2L1471.2,3456.6L1471.7,3458.0L1472.2,3459.4L1472.7,3460.8L1473.2,3462.2L1473.7,3463.6L1474.1,3465.1L1474.6,3466.5L1475.1,3467.9L1475.5,3469.3L1476.0,3470.8L1476.4,3472.2L1476.9,3473.6L1477.3,3475.0L1477.8,3476.5L1478.2,3477.9L1478.7,3479.3L1479.1,3480.8L1479.6,3482.2L1480.0,3483.6L1480.4,3485.1L1480.9,3486.5L1481.3,3487.9L1481.7,3489.4L1482.2,3490.8L1482.6,3492.3L1483.0,3493.7L1483.5,3495.1L1483.9,3496.6L1484.3,3498.0L1484.8,3499.4L1485.2,3500.9L1485.6,3502.3L1486.1,3503.8L1486.5,3505.2L1486.9,3506.6L1487.4,3508.1L1487.8,3509.5L1488.2,3510.9L1488.7,3512.4L1489.1,3513.8L1489.5,3515.3L1490.0,3516.7L1490.4,3518.1L1490.8,3519.6L1491.2,3521.0L1491.7,3522.4L1492.1,3523.9L1492.5,3525.3L1493.0,3526.7L1493.4,3528.2L1493.9,3529.6L1494.3,3531.1L1494.7,3532.5L1495.2,3533.9L1495.6,3535.4L1496.0,3536.8L1496.5,3538.2L1496.9,3539.7L1497.4,3541.1L1497.8,3542.5L1498.2,3544.0L1498.7,3545.4L1499.1,3546.8L1499.6,3548.3L1500.0,3549.7L1500.5,3551.1L1500.9,3552.6L1501.3,3554.0L1501.8,3555.4L1502.2,3556.9L1502.7,3558.3L1503.1,3559.7L1503.5,3561.2L1504.0,3562.6L1504.4,3564.1L1504.8,3565.5L1505.3,3566.9L1505.7,3568.4L1506.1,3569.8L1506.5,3571.2L1506.9,3572.7L1507.4,3574.1L1507.8,3575.6L1508.2,3577.0L1508.6,3578.5L1509.0,3579.9L1509.4,3581.3L1509.8,3582.8L1510.2,3584.2L1510.6,3585.7L1511.0,3587.1L1511.4,3588.6L1511.8,3590.0L1512.2,3591.5L1512.6,3592.9L1513.0,3594.4L1513.4,3595.8L1513.8,3597.3L1514.1,3598.7L1514.5,3600.2L1514.9,3601.6L1515.3,3603.1L1515.7,3604.5L1516.1,3606.0L1516.5,3607.4L1516.8,3608.9L1517.2,3610.3L1517.6,3611.8L1518.0,3613.2L1518.4,3614.7L1518.7,3616.1L1519.1,3617.6L1519.5,3619.0L1519.9,3620.5L1520.3,3621.9L1520.7,3623.4L1521.0,3624.8L1521.4,3626.3L1521.8,3627.7L1522.2,3629.2L1522.6,3630.6L1522.9,3632.1L1523.3,3633.5L1523.7,3635.0L1524.1,3636.4L1524.5,3637.9L1524.9,3639.3L1525.2,3640.8L1525.6,3642.2L1526.0,3643.7L1526.4,3645.2L1526.8,3646.6L1527.2,3648.1L1527.5,3649.5L1527.9,3651.0L1528.3,3652.4L1528.7,3653.9L1529.1,3655.3L1529.5,3656.8L1529.8,3658.2L1530.2,3659.7L1530.6,3661.1L1531.0,3662.6L1531.4,3664.0L1531.8,3665.5L1532.1,3666.9L1532.5,3668.4L1532.9,3669.8L1533.3,3671.3L1533.7,3672.7L1534.1,3674.2L1534.4,3675.6L1534.8,3677.1L1535.2,3678.5L1535.6,3680.0L1536.0,3681.4L1536.4,3682.9L1536.8,3684.3L1537.1,3685.8L1537.5,3687.2L1537.9,3688.7L1538.3,3690.1L1538.7,3691.6L1539.1,3693.0L1539.5,3694.5L1539.8,3695.9L1540.2,3697.4L1540.6,3698.8L1541.0,3700.3L1541.4,3701.7L1541.8,3703.2L1542.1,3704.6L1542.5,3706.1L1542.9,3707.5L1543.3,3709.0L1543.7,3710.4L1544.0,3711.9L1544.4,3713.3L1544.8,3714.8L1545.2,3716.2L1545.6,3717.7L1545.9,3719.1L1546.3,3720.6L1546.7,3722.1L1547.0,3723.5L1547.4,3725.0L1547.8,3726.4L1548.1,3727.9L1548.5,3729.3L1548.9,3730.8L1549.2,3732.2L1549.6,3733.7L1549.9,3735.2L1550.3,3736.6L1550.7,3738.1L1551.0,3739.5L1551.4,3741.0L1551.7,3742.5L1552.1,3743.9L1552.4,3745.4L1552.8,3746.8L1553.1,3748.3L1553.5,3749.7L1553.8,3751.2L1554.1,3752.7L1554.5,3754.1L1554.8,3755.6L1555.2,3757.1L1555.5,3758.5L1555.9,3760.0L1556.2,3761.4L1556.6,3762.9L1556.9,3764.4L1557.2,3765.8L1557.6,3767.3L1557.9,3768.7L1558.3,3770.2L1558.6,3771.7L1559.0,3773.1L1559.3,3774.6L1559.6,3776.0L1560.0,3777.5L1560.3,3779.0L1560.7,3780.4L1561.0,3781.9L1561.4,3783.3L1561.7,3784.8L1562.0,3786.3L1562.4,3787.7L1562.7,3789.2L1563.1,3790.7L1563.4,3792.1L1563.8,3793.6L1564.1,3795.0L1564.5,3796.5L1564.8,3798.0L1565.2,3799.4L1565.5,3800.9L1565.8,3802.3L1566.2,3803.8L1566.5,3805.3L1566.9,3806.7L1567.2,3808.2L1567.6,3809.6L1567.9,3811.1L1568.3,3812.6L1568.6,3814.0L1569.0,3815.5L1569.3,3816.9L1569.7,3818.4L1570.0,3819.8L1570.4,3821.3L1570.7,3822.8L1571.1,3824.2L1571.5,3825.7L1571.8,3827.1L1572.2,3828.6L1572.5,3830.1L1572.9,3831.5L1573.3,3833.0L1573.6,3834.4L1574.0,3835.9L1574.3,3837.3L1574.7,3838.8L1575.1,3840.2L1575.5,3841.7L1575.8,3843.1L1576.2,3844.6L1576.6,3846.1L1577.0,3847.5L1577.3,3849.0L1577.7,3850.4L1578.1,3851.9L1578.5,3853.3L1578.9,3854.8L1579.3,3856.2L1579.7,3857.7L1580.0,3859.1L1580.4,3860.6L1580.8,3862.0L1581.2,3863.4L1581.6,3864.9L1582.0,3866.3L1582.4,3867.8L1582.8,3869.2L1583.2,3870.7L1583.6,3872.1L1584.1,3873.6L1584.5,3875.0L1584.9,3876.4L1585.3,3877.9L1585.7,3879.3L1586.1,3880.8L1586.5,3882.2L1586.9,3883.7L1587.4,3885.1L1587.8,3886.5L1588.2,3888.0L1588.7,3889.4L1589.1,3890.8L1589.5,3892.3L1590.0,3893.7L1590.4,3895.2L1590.8,3896.6L1591.3,3898.0L1591.7,3899.4L1592.2,3900.9L1592.6,3902.3L1593.1,3903.7L1593.6,3905.2L1594.0,3906.6L1594.5,3908.0L1595.0,3909.4L1595.4,3910.9L1595.9,3912.3L1596.4,3913.7L1596.9,3915.1L1597.4,3916.5L1597.8,3918.0L1598.3,3919.4L1598.8,3920.8L1599.3,3922.2L1599.8,3923.6L1600.3,3925.0L1600.8,3926.5L1601.3,3927.9L1601.8,3929.3L1602.3,3930.7L1602.8,3932.1L1603.4,3933.5L1603.9,3934.9L1604.4,3936.3L1604.9,3937.7L1605.4,3939.2L1605.9,3940.6L1606.5,3942.0L1607.0,3943.4L1607.5,3944.8L1608.1,3946.2L1608.6,3947.6L1609.1,3949.0L1609.7,3950.4L1610.2,3951.8L1610.8,3953.2L1611.3,3954.6L1611.8,3956.0L1612.4,3957.4L1612.9,3958.8L1613.5,3960.2L1614.1,3961.5L1614.6,3962.9L1615.2,3964.3L1615.7,3965.7L1616.3,3967.1L1616.9,3968.5L1617.5,3969.9L1618.0,3971.3L1618.6,3972.7L1619.2,3974.0L1619.8,3975.4L1620.4,3976.8L1621.0,3978.2L1621.6,3979.5L1622.2,3980.9L1622.8,3982.3L1623.4,3983.7L1624.0,3985.0L1624.6,3986.4L1625.2,3987.8L1625.9,3989.1L1626.5,3990.5L1627.1,3991.8L1627.8,3993.2L1628.4,3994.5L1629.1,3995.9L1629.7,3997.2L1630.4,3998.6L1631.0,3999.9L1631.7,4001.3L1632.4,4002.6L1633.0,4003.9L1633.7,4005.3L1634.4,4006.6L1635.1,4007.9L1635.8,4009.2L1636.5,4010.5L1637.2,4011.8L1637.9,4013.1L1638.6,4014.4L1639.3,4015.7L1640.0,4017.0L1640.7,4018.2L1641.4,4019.5L1642.1,4020.7L1642.8,4021.9L1643.5,4023.1L1644.2,4024.3L1644.9,4025.4L1645.6,4026.6L1646.3,4027.7L1647.0,4028.8L1647.6,4029.8L1648.3,4030.8L1648.9,4031.8L1649.5,4032.8L1650.1,4033.7L1650.7,4034.6L1651.2,4035.5L1651.8,4036.3L1652.3,4037.0L1652.8,4037.8L1653.2,4038.4L1657.7,4045.0L1657.7,4045.0L1663.5,4039.6L1664.1,4039.0L1664.7,4038.4L1665.4,4037.8L1666.1,4037.1L1666.8,4036.4L1667.5,4035.6L1668.3,4034.8L1669.0,4034.0L1669.8,4033.2L1670.7,4032.3L1671.5,4031.4L1672.4,4030.4L1673.2,4029.5L1674.1,4028.5L1675.0,4027.5L1675.9,4026.4L1676.8,4025.4L1677.7,4024.3L1678.6,4023.2L1679.5,4022.1L1680.4,4021.0L1681.3,4019.8L1682.2,4018.7L1683.1,4017.6L1684.0,4016.4L1684.9,4015.2L1685.8,4014.0L1686.7,4012.9L1687.6,4011.7L1688.5,4010.5L1689.4,4009.3L1690.3,4008.1L1691.2,4006.8L1692.0,4005.6L1692.9,4004.4L1693.8,4003.2L1694.6,4002.0L1695.5,4000.7L1696.3,3999.5L1697.2,3998.3L1698.0,3997.0L1698.9,3995.8L1699.7,3994.6L1700.6,3993.3L1701.4,3992.1L1702.3,3990.8L1703.1,3989.6L1703.9,3988.3L1704.8,3987.1L1705.6,3985.8L1706.4,3984.6L1707.2,3983.3L1708.0,3982.0L1708.9,3980.8L1709.7,3979.5L1710.5,3978.3L1711.3,3977.0L1712.1,3975.7L1712.9,3974.5L1713.7,3973.2L1714.5,3971.9L1715.3,3970.7L1716.1,3969.4L1716.9,3968.1L1717.7,3966.8L1718.5,3965.6L1719.3,3964.3L1720.1,3963.0L1720.8,3961.7L1721.6,3960.4L1722.4,3959.2L1723.2,3957.9L1724.0,3956.6L1724.7,3955.3L1725.5,3954.0L1726.3,3952.7L1727.0,3951.4L1727.8,3950.1L1728.6,3948.8L1729.3,3947.6L1730.1,3946.3L1730.9,3945.0L1731.6,3943.7L1732.4,3942.4L1733.1,3941.1L1733.9,3939.8L1734.6,3938.5L1735.3,3937.2L1736.1,3935.8L1736.8,3934.5L1737.5,3933.2L1738.3,3931.9L1739.0,3930.6L1739.7,3929.3L1740.4,3928.0L1741.2,3926.7L1741.9,3925.3L1742.6,3924.0L1743.3,3922.7L1744.0,3921.4L1744.7,3920.0L1745.4,3918.7L1746.1,3917.4L1746.8,3916.1L1747.6,3914.8L1748.3,3913.4L1749.0,3912.1L1749.7,3910.8L1750.4,3909.5L1751.1,3908.2L1751.8,3906.8L1752.6,3905.5L1753.3,3904.2L1754.0,3902.9L1754.7,3901.6L1755.5,3900.3L1756.2,3899.0L1757.0,3897.7L1757.7,3896.4L1758.4,3895.1L1759.2,3893.8L1760.0,3892.5L1760.7,3891.2L1761.5,3889.9L1762.2,3888.6L1763.0,3887.3L1763.8,3886.0L1764.5,3884.7L1765.3,3883.4L1766.1,3882.1L1766.8,3880.8L1767.6,3879.5L1768.4,3878.3L1769.1,3877.0L1769.9,3875.7L1770.7,3874.4L1771.4,3873.1L1772.2,3871.8L1772.9,3870.5L1773.7,3869.2L1774.5,3867.9L1775.2,3866.6L1776.0,3865.3L1776.7,3864.0L1777.5,3862.7L1778.3,3861.4L1779.0,3860.1L1779.8,3858.8L1780.5,3857.5L1781.3,3856.2L1782.0,3854.9L1782.8,3853.7L1783.5,3852.4L1784.3,3851.1L1785.1,3849.8L1785.8,3848.5L1786.6,3847.2L1787.3,3845.9L1788.1,3844.6L1788.8,3843.3L1789.6,3842.0L1790.3,3840.7L1791.1,3839.4L1791.8,3838.1L1792.6,3836.8L1793.4,3835.5L1794.1,3834.2L1794.9,3832.9L1795.6,3831.6L1796.4,3830.3L1797.1,3829.0L1797.9,3827.7L1798.7,3826.4L1799.4,3825.1L1800.2,3823.8L1800.9,3822.5L1801.7,3821.2L1802.5,3819.9L1803.2,3818.6L1804.0,3817.3L1804.8,3816.0L1805.5,3814.7L1806.3,3813.4L1807.0,3812.2L1807.8,3810.9L1808.6,3809.6L1809.3,3808.3L1810.1,3807.0L1810.8,3805.7L1811.6,3804.4L1812.4,3803.1L1813.1,3801.8L1813.9,3800.5L1814.7,3799.2L1815.4,3797.9L1816.2,3796.6L1816.9,3795.3L1817.7,3794.0L1818.5,3792.7L1819.2,3791.4L1820.0,3790.1L1820.7,3788.9L1821.5,3787.6L1822.3,3786.3L1823.0,3785.0L1823.8,3783.7L1824.5,3782.4L1825.3,3781.1L1826.1,3779.8L1826.8,3778.5L1827.6,3777.2L1828.3,3775.9L1829.1,3774.6L1829.9,3773.3L1830.6,3772.0L1831.4,3770.7L1832.1,3769.4L1832.9,3768.1L1833.6,3766.8L1834.4,3765.5L1835.1,3764.2L1835.9,3762.9L1836.6,3761.6L1837.4,3760.3L1838.1,3759.0L1838.9,3757.7L1839.6,3756.4L1840.3,3755.1L1841.1,3753.8L1841.8,3752.5L1842.5,3751.1L1843.3,3749.8L1844.0,3748.5L1844.8,3747.2L1845.5,3745.9L1846.2,3744.6L1846.9,3743.3L1847.7,3742.0L1848.4,3740.7L1849.1,3739.3L1849.9,3738.0L1850.6,3736.7L1851.3,3735.4L1852.0,3734.1L1852.8,3732.8L1853.5,3731.5L1854.2,3730.1L1855.0,3728.8L1855.7,3727.5L1856.4,3726.2L1857.1,3724.9L1857.8,3723.6L1858.6,3722.3L1859.3,3720.9L1860.0,3719.6L1860.7,3718.3L1861.5,3717.0L1862.2,3715.7L1862.9,3714.4L1863.6,3713.0L1864.4,3711.7L1865.1,3710.4L1865.8,3709.1L1866.5,3707.8L1867.2,3706.5L1868.0,3705.1L1868.7,3703.8L1869.4,3702.5L1870.1,3701.2L1870.8,3699.9L1871.5,3698.5L1872.2,3697.2L1872.9,3695.9L1873.6,3694.6L1874.3,3693.2L1875.0,3691.9L1875.7,3690.6L1876.4,3689.2L1877.1,3687.9L1877.8,3686.6L1878.5,3685.2L1879.1,3683.9L1879.8,3682.5L1880.5,3681.2L1881.1,3679.8L1881.8,3678.5L1882.4,3677.1L1883.0,3675.8L1883.7,3674.4L1884.3,3673.1L1884.9,3671.7L1885.5,3670.3L1886.2,3669.0L1886.8,3667.6L1887.4,3666.2L1888.0,3664.8L1888.6,3663.5L1889.2,3662.1L1889.7,3660.7L1890.3,3659.3L1890.9,3658.0L1891.5,3656.6L1892.1,3655.2L1892.7,3653.8L1893.2,3652.4L1893.8,3651.0L1894.4,3649.7L1895.0,3648.3L1895.6,3646.9L1896.1,3645.5L1896.7,3644.1L1897.3,3642.7L1897.9,3641.4L1898.5,3640.0L1899.1,3638.6L1899.7,3637.3L1900.3,3635.9L1900.9,3634.5L1901.5,3633.2L1902.1,3631.8L1902.7,3630.4L1903.3,3629.1L1903.9,3627.7L1904.5,3626.3L1905.1,3625.0L1905.7,3623.6L1906.3,3622.3L1907.0,3620.9L1907.6,3619.5L1908.2,3618.1L1908.8,3616.7L1909.5,3615.4L1910.1,3614.0L1910.8,3612.6L1911.4,3611.3L1912.1,3609.9L1912.9,3608.7L1913.7,3607.5L1914.7,3606.6L1915.8,3605.7L1916.9,3605.1L1918.2,3604.5L1919.5,3604.0L1920.7,3603.5L1921.9,3603.1L1922.9,3602.6L1924.0,3602.2L1924.9,3601.7L1925.7,3601.3L1926.5,3600.8L1927.2,3600.4L1927.8,3599.9L1928.3,3599.6L1934.0,3596.0" fill="none" stroke="#d81818" stroke-width="3.4" stroke-linejoin="round" stroke-linecap="round" clip-path="url(#cc)" />
<path d="M426.1,3581.7L432.2,3576.7L432.9,3576.1L433.6,3575.6L434.3,3575.0L435.0,3574.4L435.8,3573.8L436.7,3573.1L437.5,3572.4L438.4,3571.7L439.4,3571.0L440.3,3570.3L441.3,3569.5L442.3,3568.7L443.3,3567.9L444.4,3567.1L445.5,3566.3L446.6,3565.4L447.7,3564.6L448.8,3563.7L449.9,3562.9L451.1,3562.0L452.2,3561.1L453.4,3560.3L454.6,3559.4L455.7,3558.5L456.9,3557.6L458.1,3556.8L459.3,3555.9L460.5,3555.0L461.7,3554.1L462.9,3553.2L464.1,3552.3L465.3,3551.4L466.5,3550.6L467.7,3549.7L468.9,3548.8L470.1,3547.9L471.3,3547.0L472.6,3546.1L473.8,3545.2L475.0,3544.4L476.2,3543.5L477.4,3542.6L478.6,3541.7L479.8,3540.8L481.0,3539.9L482.2,3539.0L483.5,3538.2L484.7,3537.3L485.9,3536.4L487.1,3535.5L488.3,3534.6L489.5,3533.7L490.7,3532.9L492.0,3532.0L493.2,3531.1L494.4,3530.2L495.6,3529.3L496.8,3528.4L498.0,3527.6L499.2,3526.7L500.4,3525.8L501.7,3524.9L502.9,3524.0L504.1,3523.1L505.3,3522.3L506.5,3521.4L507.7,3520.5L508.9,3519.6L510.2,3518.7L511.4,3517.8L512.6,3517.0L513.8,3516.1L515.0,3515.2L516.2,3514.3L517.4,3513.4L518.6,3512.5L519.9,3511.6L521.1,3510.8L522.3,3509.9L523.5,3509.0L524.7,3508.1L525.9,3507.2L527.1,3506.3L528.3,3505.5L529.6,3504.6L530.8,3503.7L532.0,3502.8L533.2,3501.9L534.4,3501.0L535.6,3500.2L536.8,3499.3L538.1,3498.4L539.3,3497.5L540.5,3496.6L541.7,3495.7L542.9,3494.9L544.1,3494.0L545.3,3493.1L546.6,3492.2L547.8,3491.3L549.0,3490.5L550.2,3489.6L551.4,3488.7L552.6,3487.8L553.9,3486.9L555.1,3486.1L556.3,3485.2L557.5,3484.3L558.7,3483.5L560.0,3482.6L561.2,3481.7L562.4,3480.8L563.6,3480.0L564.9,3479.1L566.1,3478.2L567.3,3477.4L568.5,3476.5L569.8,3475.7L571.0,3474.8L572.2,3474.0L573.5,3473.1L574.7,3472.2L575.9,3471.4L577.2,3470.5L578.4,3469.7L579.6,3468.8L580.9,3468.0L582.1,3467.1L583.4,3466.3L584.6,3465.5L585.8,3464.6L587.1,3463.8L588.3,3462.9L589.6,3462.1L590.8,3461.2L592.1,3460.4L593.3,3459.6L594.5,3458.7L595.8,3457.9L597.0,3457.0L598.3,3456.2L599.5,3455.4L600.8,3454.5L602.0,3453.7L603.3,3452.9L604.5,3452.0L605.8,3451.2L607.0,3450.4L608.3,3449.5L609.5,3448.7L610.8,3447.9L612.0,3447.1L613.3,3446.2L614.5,3445.4L615.8,3444.6L617.0,3443.7L618.3,3442.9L619.5,3442.1L620.8,3441.3L622.0,3440.4L623.3,3439.6L624.6,3438.8L625.8,3438.0L627.1,3437.1L628.3,3436.3L629.6,3435.5L630.8,3434.7L632.1,3433.8L633.3,3433.0L634.6,3432.2L635.8,3431.3L637.0,3430.5L638.3,3429.6L639.5,3428.8L640.8,3427.9L642.0,3427.1L643.2,3426.3L644.5,3425.4L645.7,3424.5L646.9,3423.7L648.2,3422.8L649.4,3422.0L650.6,3421.1L651.8,3420.2L653.1,3419.3L654.3,3418.5L655.5,3417.6L656.7,3416.7L657.9,3415.8L659.1,3415.0L660.3,3414.1L661.6,3413.2L662.8,3412.3L664.0,3411.4L665.2,3410.5L666.4,3409.6L667.6,3408.7L668.8,3407.8L670.0,3406.9L671.2,3406.0L672.4,3405.1L673.6,3404.2L674.8,3403.3L676.0,3402.4L677.2,3401.5L678.4,3400.6L679.6,3399.7L680.8,3398.8L682.0,3397.8L683.1,3396.9L684.3,3396.0L685.5,3395.1L686.7,3394.2L687.9,3393.3L689.1,3392.4L690.3,3391.4L691.5,3390.5L692.6,3389.6L693.8,3388.7L695.0,3387.7L696.2,3386.8L697.4,3385.9L698.5,3385.0L699.7,3384.0L700.9,3383.1L702.1,3382.2L703.2,3381.2L704.4,3380.3L705.6,3379.4L706.8,3378.4L707.9,3377.5L709.1,3376.6L710.3,3375.6L711.5,3374.7L712.6,3373.7L713.8,3372.8L715.0,3371.9L716.2,3370.9L717.3,3370.0L718.5,3369.1L719.7,3368.1L720.8,3367.2L722.0,3366.3L723.2,3365.3L724.4,3364.4L725.5,3363.4L726.7,3362.5L727.9,3361.6L729.1,3360.6L730.2,3359.7L731.4,3358.8L732.6,3357.8L733.7,3356.9L734.9,3355.9L736.1,3355.0L737.3,3354.1L738.4,3353.1L739.6,3352.2L740.8,3351.3L742.0,3350.3L743.1,3349.4L744.3,3348.5L745.5,3347.5L746.7,3346.6L747.8,3345.7L749.0,3344.7L750.2,3343.8L751.4,3342.9L752.5,3341.9L753.7,3341.0L754.9,3340.1L756.1,3339.2L757.3,3338.2L758.4,3337.3L759.6,3336.4L760.8,3335.5L762.0,3334.5L763.2,3333.6L764.4,3332.7L765.6,3331.8L766.8,3330.9L768.0,3330.0L769.2,3329.1L770.4,3328.2L771.6,3327.3L772.8,3326.4L774.0,3325.5L775.2,3324.6L776.4,3323.7L777.6,3322.8L778.8,3321.9L780.0,3321.1L781.2,3320.2L782.4,3319.3L783.7,3318.4L784.9,3317.6L786.1,3316.7L787.3,3315.8L788.5,3314.9L789.8,3314.1L791.0,3313.2L792.2,3312.3L793.4,3311.4L794.6,3310.6L795.9,3309.7L797.1,3308.8L798.3,3307.9L799.5,3307.0L800.7,3306.2L801.9,3305.3L803.2,3304.4L804.4,3303.5L805.6,3302.6L806.8,3301.7L808.0,3300.8L809.2,3300.0L810.4,3299.1L811.6,3298.2L812.8,3297.3L814.0,3296.3L815.2,3295.4L816.4,3294.5L817.6,3293.6L818.8,3292.7L819.9,3291.8L821.1,3290.9L822.3,3290.0L823.5,3289.0L824.7,3288.1L825.9,3287.2L827.0,3286.3L828.2,3285.3L829.4,3284.4L830.6,3283.5L831.8,3282.5L832.9,3281.6L834.1,3280.7L835.3,3279.7L836.5,3278.8L837.6,3277.9L838.8,3276.9L840.0,3276.0L841.1,3275.0L842.3,3274.1L843.5,3273.2L844.7,3272.2L845.8,3271.3L847.0,3270.4L848.2,3269.4L849.4,3268.5L850.5,3267.6L851.7,3266.6L852.9,3265.7L854.0,3264.7L855.2,3263.8L856.4,3262.9L857.6,3261.9L858.7,3261.0L859.9,3260.1L861.1,3259.1L862.2,3258.2L863.4,3257.2L864.6,3256.3L865.8,3255.4L866.9,3254.4L868.1,3253.5L869.3,3252.6L870.5,3251.6L871.6,3250.7L872.8,3249.7L874.0,3248.8L875.1,3247.9L876.3,3246.9L877.5,3246.0L878.7,3245.1L879.8,3244.1L881.0,3243.2L882.2,3242.2L883.3,3241.3L884.5,3240.4L885.7,3239.4L886.9,3238.5L888.0,3237.6L889.2,3236.6L890.4,3235.7L891.6,3234.7L892.7,3233.8L893.9,3232.9L895.1,3231.9L896.2,3231.0L897.4,3230.1L898.6,3229.1L899.8,3228.2L900.9,3227.3L902.1,3226.3L903.3,3225.4L904.5,3224.5L905.7,3223.5L906.8,3222.6L908.0,3221.7L909.2,3220.8L910.4,3219.8L911.6,3218.9L912.8,3218.0L913.9,3217.1L915.1,3216.2L916.3,3215.3L917.5,3214.4L918.7,3213.4L919.9,3212.5L921.1,3211.6L922.3,3210.7L923.5,3209.8L924.7,3209.0L925.9,3208.1L927.1,3207.2L928.3,3206.3L929.6,3205.4L930.8,3204.5L932.0,3203.6L933.2,3202.8L934.4,3201.9L935.6,3201.0L936.9,3200.1L938.1,3199.3L939.3,3198.4L940.5,3197.5L941.7,3196.7L943.0,3195.8L944.2,3194.9L945.4,3194.1L946.7,3193.2L947.9,3192.3L949.1,3191.5L950.3,3190.6L951.6,3189.7L952.8,3188.9L954.0,3188.0L955.2,3187.2L956.5,3186.3L957.7,3185.4L958.9,3184.6L960.2,3183.7L961.4,3182.8L962.6,3182.0L963.9,3181.1L965.1,3180.3L966.3,3179.4L967.5,3178.5L968.8,3177.7L970.0,3176.8L971.2,3176.0L972.5,3175.1L973.7,3174.2L974.9,3173.4L976.2,3172.5L977.4,3171.7L978.6,3170.8L979.8,3169.9L981.1,3169.1L982.3,3168.2L983.5,3167.4L984.8,3166.5L986.0,3165.7L987.2,3164.8L988.5,3163.9L989.7,3163.1L990.9,3162.2L992.2,3161.4L993.4,3160.5L994.6,3159.7L995.9,3158.8L997.1,3158.0L998.3,3157.1L999.6,3156.3L1000.8,3155.4L1002.1,3154.6L1003.3,3153.7L1004.5,3152.9L1005.8,3152.0L1007.0,3151.2L1008.3,3150.4L1009.5,3149.5L1010.8,3148.7L1012.0,3147.8L1013.2,3147.0L1014.5,3146.2L1015.7,3145.3L1017.0,3144.5L1018.2,3143.7L1019.5,3142.8L1020.7,3142.0L1022.0,3141.2L1023.2,3140.3L1024.5,3139.5L1025.7,3138.7L1027.0,3137.9L1028.3,3137.1L1029.5,3136.2L1030.8,3135.4L1032.0,3134.6L1033.3,3133.8L1034.6,3133.0L1035.8,3132.2L1037.1,3131.4L1038.4,3130.6L1039.7,3129.8L1040.9,3129.0L1042.2,3128.3L1043.5,3127.5L1044.8,3126.7L1046.1,3125.9L1047.4,3125.2L1048.7,3124.4L1049.9,3123.7L1051.2,3122.9L1052.5,3122.2L1053.8,3121.4L1055.2,3120.7L1056.5,3120.0L1057.8,3119.2L1059.1,3118.5L1060.4,3117.8L1061.7,3117.1L1063.0,3116.4L1064.4,3115.7L1065.7,3115.0L1067.0,3114.3L1068.3,3113.6L1069.7,3112.9L1071.0,3112.2L1072.4,3111.6L1073.7,3110.9L1075.0,3110.2L1076.4,3109.6L1077.7,3108.9L1079.1,3108.3L1080.4,3107.6L1081.8,3107.0L1083.2,3106.4L1084.5,3105.8L1085.9,3105.2L1087.3,3104.6L1088.6,3104.0L1090.0,3103.4L1091.4,3102.8L1092.8,3102.2L1094.2,3101.7L1095.6,3101.1L1096.9,3100.6L1098.3,3100.0L1099.7,3099.5L1101.1,3098.9L1102.5,3098.4L1103.9,3097.9L1105.3,3097.4L1106.8,3096.9L1108.2,3096.4L1109.6,3095.8L1111.0,3095.3L1112.4,3094.9L1113.8,3094.4L1115.2,3093.9L1116.7,3093.4L1118.1,3092.9L1119.5,3092.4L1120.9,3091.9L1122.3,3091.5L1123.8,3091.0L1125.2,3090.5L1126.6,3090.1L1128.0,3089.6L1129.5,3089.1L1130.9,3088.7L1132.3,3088.2L1133.8,3087.8L1135.2,3087.3L1136.6,3086.9L1138.1,3086.4L1139.5,3086.0L1140.9,3085.6L1142.4,3085.1L1143.8,3084.7L1145.2,3084.3L1146.7,3083.9L1148.1,3083.5L1149.6,3083.1L1151.0,3082.7L1152.5,3082.3L1153.9,3081.9L1155.3,3081.5L1156.8,3081.1L1158.2,3080.7L1159.7,3080.3L1161.2,3080.0L1162.6,3079.6L1164.1,3079.3L1165.5,3078.9L1167.0,3078.6L1168.4,3078.3L1169.9,3077.9L1171.4,3077.6L1172.8,3077.3L1174.3,3077.0L1175.8,3076.7L1177.2,3076.4L1178.7,3076.2L1180.2,3075.9L1181.7,3075.6L1183.1,3075.4L1184.6,3075.1L1186.1,3074.9L1187.6,3074.6L1189.0,3074.4L1190.5,3074.2L1192.0,3074.0L1193.5,3073.7L1195.0,3073.5L1196.5,3073.3L1197.9,3073.1L1199.4,3073.0L1200.9,3072.8L1202.4,3072.6L1203.9,3072.4L1205.4,3072.3L1206.9,3072.1L1208.4,3071.9L1209.9,3071.8L1211.3,3071.6L1212.8,3071.5L1214.3,3071.4L1215.8,3071.3L1217.3,3071.1L1218.8,3071.0L1220.3,3070.9L1221.8,3070.8L1223.3,3070.7L1224.8,3070.7L1226.3,3070.6L1227.8,3070.5L1229.3,3070.5L1230.8,3070.4L1232.3,3070.4L1233.8,3070.3L1235.3,3070.3L1236.7,3070.3L1238.2,3070.3L1239.7,3070.3L1241.2,3070.3L1242.7,3070.3L1244.2,3070.3L1245.7,3070.3L1247.2,3070.4L1248.7,3070.5L1250.2,3070.5L1251.7,3070.6L1253.2,3070.7L1254.7,3070.8L1256.1,3070.9L1257.6,3071.0L1259.1,3071.2L1260.6,3071.3L1262.1,3071.5L1263.6,3071.7L1265.0,3071.9L1266.5,3072.0L1268.0,3072.3L1269.5,3072.5L1270.9,3072.7L1272.4,3073.0L1273.9,3073.2L1275.3,3073.5L1276.8,3073.8L1278.2,3074.1L1279.7,3074.4L1281.1,3074.7L1282.6,3075.1L1284.0,3075.4L1285.4,3075.8L1286.9,3076.2L1288.3,3076.6L1289.7,3077.0L1291.1,3077.5L1292.5,3077.9L1293.9,3078.4L1295.3,3078.9L1296.7,3079.4L1298.1,3079.9L1299.5,3080.4L1300.9,3081.0L1302.3,3081.6L1303.6,3082.1L1305.0,3082.7L1306.4,3083.3L1307.7,3083.9L1309.1,3084.5L1310.4,3085.2L1311.8,3085.8L1313.1,3086.5L1314.4,3087.2L1315.8,3087.8L1317.1,3088.5L1318.4,3089.2L1319.7,3089.9L1321.0,3090.6L1322.3,3091.4L1323.6,3092.1L1324.9,3092.8L1326.2,3093.6L1327.5,3094.4L1328.8,3095.1L1330.0,3095.9L1331.3,3096.7L1332.6,3097.5L1333.8,3098.3L1335.0,3099.2L1336.3,3100.0L1337.5,3100.8L1338.8,3101.7L1340.0,3102.5L1341.2,3103.4L1342.4,3104.3L1343.6,3105.1L1344.8,3106.0L1346.0,3106.9L1347.2,3107.8L1348.4,3108.7L1349.6,3109.7L1350.8,3110.6L1351.9,3111.5L1353.1,3112.4L1354.3,3113.4L1355.4,3114.3L1356.6,3115.3L1357.7,3116.2L1358.9,3117.2L1360.0,3118.1L1361.2,3119.1L1362.3,3120.1L1363.4,3121.1L1364.5,3122.1L1365.7,3123.1L1366.8,3124.1L1367.9,3125.1L1369.0,3126.1L1370.0,3127.1L1371.1,3128.2L1372.2,3129.2L1373.2,3130.2L1374.3,3131.3L1375.4,3132.4L1376.4,3133.4L1377.4,3134.5L1378.5,3135.6L1379.5,3136.7L1380.5,3137.8L1381.5,3138.9L1382.5,3140.0L1383.5,3141.1L1384.5,3142.2L1385.5,3143.3L1386.5,3144.5L1387.5,3145.6L1388.4,3146.7L1389.4,3147.9L1390.4,3149.0L1391.3,3150.2L1392.3,3151.3L1393.3,3152.5L1394.2,3153.6L1395.2,3154.8L1396.2,3155.9L1397.1,3157.1L1398.1,3158.2L1399.0,3159.4L1400.0,3160.5L1400.9,3161.7L1401.8,3162.9L1402.8,3164.0L1403.7,3165.2L1404.7,3166.4L1405.6,3167.6L1406.5,3168.7L1407.5,3169.9L1408.4,3171.1L1409.3,3172.3L1410.2,3173.5L1411.1,3174.7L1412.0,3175.8L1412.9,3177.0L1413.8,3178.2L1414.7,3179.4L1415.6,3180.6L1416.5,3181.9L1417.4,3183.1L1418.2,3184.3L1419.1,3185.5L1420.0,3186.7L1420.8,3188.0L1421.7,3189.2L1422.5,3190.4L1423.4,3191.7L1424.2,3192.9L1425.0,3194.2L1425.8,3195.4L1426.7,3196.7L1427.5,3197.9L1428.3,3199.2L1429.1,3200.5L1429.9,3201.7L1430.7,3203.0L1431.5,3204.3L1432.3,3205.5L1433.1,3206.8L1433.9,3208.1L1434.7,3209.4L1435.5,3210.6L1436.2,3211.9L1437.0,3213.2L1437.8,3214.5L1438.6,3215.8L1439.3,3217.1L1440.1,3218.4L1440.8,3219.6L1441.6,3220.9L1442.4,3222.2L1443.1,3223.5L1443.9,3224.8L1444.6,3226.1L1445.3,3227.4L1446.1,3228.7L1446.8,3230.1L1447.6,3231.4L1448.3,3232.7L1449.0,3234.0L1449.7,3235.3L1450.5,3236.6L1451.2,3237.9L1451.9,3239.2L1452.6,3240.6L1453.3,3241.9L1454.0,3243.2L1454.7,3244.5L1455.4,3245.9L1456.1,3247.2L1456.8,3248.5L1457.5,3249.8L1458.2,3251.2L1458.9,3252.5L1459.6,3253.9L1460.2,3255.2L1460.9,3256.5L1461.6,3257.9L1462.2,3259.2L1462.9,3260.6L1463.6,3261.9L1464.2,3263.3L1464.9,3264.6L1465.5,3266.0L1466.1,3267.3L1466.7,3268.7L1467.4,3270.1L1468.0,3271.4L1468.6,3272.8L1469.2,3274.2L1469.8,3275.5L1470.4,3276.9L1471.0,3278.3L1471.6,3279.7L1472.2,3281.0L1472.8,3282.4L1473.3,3283.8L1473.9,3285.2L1474.5,3286.6L1475.1,3288.0L1475.6,3289.3L1476.2,3290.7L1476.8,3292.1L1477.3,3293.5L1477.9,3294.9L1478.5,3296.3L1479.0,3297.7L1479.6,3299.1L1480.2,3300.5L1480.7,3301.9L1481.3,3303.3L1481.8,3304.6L1482.4,3306.0L1483.0,3307.4L1483.5,3308.8L1484.1,3310.2L1484.6,3311.6L1485.2,3313.0L1485.8,3314.4L1486.3,3315.8L1486.9,3317.2L1487.4,3318.6L1488.0,3320.0L1488.5,3321.4L1489.1,3322.8L1489.7,3324.2L1490.2,3325.5L1490.8,3326.9L1491.3,3328.3L1491.9,3329.7L1492.4,3331.1L1493.0,3332.5L1493.5,3333.9L1494.1,3335.3L1494.6,3336.7L1495.2,3338.1L1495.7,3339.5L1496.3,3340.9L1496.8,3342.3L1497.3,3343.7L1497.9,3345.1L1498.4,3346.5L1498.9,3347.9L1499.5,3349.3L1500.0,3350.7L1500.5,3352.1L1501.0,3353.5L1501.6,3354.9L1502.1,3356.4L1502.6,3357.8L1503.1,3359.2L1503.6,3360.6L1504.1,3362.0L1504.6,3363.4L1505.1,3364.8L1505.6,3366.2L1506.1,3367.7L1506.6,3369.1L1507.0,3370.5L1507.5,3371.9L1508.0,3373.3L1508.5,3374.8L1509.0,3376.2L1509.4,3377.6L1509.9,3379.0L1510.4,3380.5L1510.9,3381.9L1511.3,3383.3L1511.8,3384.7L1512.3,3386.2L1512.8,3387.6L1513.2,3389.0L1513.7,3390.4L1514.2,3391.8L1514.7,3393.3L1515.1,3394.7L1515.6,3396.1L1516.1,3397.5L1516.6,3399.0L1517.0,3400.4L1517.5,3401.8L1518.0,3403.2L1518.4,3404.7L1518.9,3406.1L1519.4,3407.5L1519.8,3408.9L1520.3,3410.4L1520.8,3411.8L1521.2,3413.2L1521.7,3414.7L1522.1,3416.1L1522.6,3417.5L1523.0,3419.0L1523.5,3420.4L1523.9,3421.8L1524.3,3423.3L1524.8,3424.7L1525.2,3426.1L1525.6,3427.6L1526.1,3429.0L1526.5,3430.4L1526.9,3431.9L1527.3,3433.3L1527.7,3434.8L1528.1,3436.2L1528.5,3437.7L1528.9,3439.1L1529.3,3440.6L1529.7,3442.0L1530.1,3443.5L1530.5,3444.9L1530.9,3446.4L1531.3,3447.8L1531.6,3449.3L1532.0,3450.7L1532.4,3452.2L1532.8,3453.6L1533.1,3455.1L1533.5,3456.5L1533.8,3458.0L1534.2,3459.4L1534.6,3460.9L1534.9,3462.4L1535.3,3463.8L1535.6,3465.3L1536.0,3466.7L1536.3,3468.2L1536.7,3469.7L1537.0,3471.1L1537.3,3472.6L1537.7,3474.0L1538.0,3475.5L1538.3,3477.0L1538.6,3478.4L1539.0,3479.9L1539.3,3481.4L1539.6,3482.8L1539.9,3484.3L1540.3,3485.8L1540.6,3487.2L1540.9,3488.7L1541.2,3490.2L1541.5,3491.6L1541.8,3493.1L1542.1,3494.6L1542.4,3496.0L1542.7,3497.5L1543.0,3499.0L1543.4,3500.4L1543.7,3501.9L1544.0,3503.4L1544.3,3504.8L1544.6,3506.3L1544.9,3507.8L1545.2,3509.2L1545.6,3510.7L1545.9,3512.2L1546.2,3513.6L1546.5,3515.1L1546.9,3516.6L1547.2,3518.0L1547.5,3519.5L1547.9,3521.0L1548.2,3522.4L1548.6,3523.9L1548.9,3525.3L1549.3,3526.8L1549.6,3528.2L1550.0,3529.7L1550.3,3531.2L1550.7,3532.6L1551.1,3534.1L1551.5,3535.5L1551.8,3537.0L1552.2,3538.4L1552.6,3539.9L1553.0,3541.3L1553.4,3542.8L1553.8,3544.2L1554.1,3545.7L1554.5,3547.1L1554.9,3548.6L1555.3,3550.0L1555.7,3551.5L1556.1,3552.9L1556.5,3554.4L1556.9,3555.8L1557.3,3557.3L1557.7,3558.7L1558.1,3560.2L1558.4,3561.6L1558.8,3563.1L1559.2,3564.5L1559.6,3566.0L1560.0,3567.4L1560.4,3568.9L1560.8,3570.3L1561.1,3571.8L1561.5,3573.2L1561.9,3574.7L1562.3,3576.1L1562.7,3577.6L1563.0,3579.0L1563.4,3580.5L1563.8,3581.9L1564.2,3583.4L1564.6,3584.8L1564.9,3586.3L1565.3,3587.7L1565.7,3589.2L1566.0,3590.6L1566.4,3592.1L1566.8,3593.6L1567.1,3595.0L1567.5,3596.5L1567.9,3597.9L1568.2,3599.4L1568.6,3600.8L1569.0,3602.3L1569.3,3603.7L1569.7,3605.2L1570.1,3606.7L1570.4,3608.1L1570.8,3609.6L1571.1,3611.0L1571.5,3612.5L1571.9,3613.9L1572.2,3615.4L1572.6,3616.9L1572.9,3618.3L1573.3,3619.8L1573.6,3621.2L1574.0,3622.7L1574.4,3624.2L1574.7,3625.6L1575.1,3627.1L1575.4,3628.5L1575.8,3630.0L1576.1,3631.4L1576.5,3632.9L1576.8,3634.4L1577.2,3635.8L1577.5,3637.3L1577.9,3638.7L1578.2,3640.2L1578.6,3641.7L1578.9,3643.1L1579.3,3644.6L1579.6,3646.0L1580.0,3647.5L1580.3,3649.0L1580.6,3650.4L1581.0,3651.9L1581.3,3653.3L1581.7,3654.8L1582.0,3656.3L1582.4,3657.7L1582.7,3659.2L1583.0,3660.7L1583.4,3662.1L1583.7,3663.6L1584.1,3665.0L1584.4,3666.5L1584.7,3668.0L1585.1,3669.4L1585.4,3670.9L1585.8,3672.3L1586.1,3673.8L1586.4,3675.3L1586.8,3676.7L1587.1,3678.2L1587.5,3679.7L1587.8,3681.1L1588.1,3682.6L1588.5,3684.0L1588.8,3685.5L1589.2,3687.0L1589.5,3688.4L1589.9,3689.9L1590.2,3691.4L1590.5,3692.8L1590.9,3694.3L1591.2,3695.7L1591.6,3697.2L1591.9,3698.7L1592.2,3700.1L1592.6,3701.6L1592.9,3703.0L1593.3,3704.5L1593.6,3706.0L1593.9,3707.4L1594.3,3708.9L1594.6,3710.4L1595.0,3711.8L1595.3,3713.3L1595.7,3714.7L1596.0,3716.2L1596.3,3717.7L1596.7,3719.1L1597.0,3720.6L1597.4,3722.0L1597.7,3723.5L1598.1,3725.0L1598.4,3726.4L1598.8,3727.9L1599.1,3729.3L1599.5,3730.8L1599.8,3732.3L1600.2,3733.7L1600.5,3735.2L1600.9,3736.6L1601.2,3738.1L1601.6,3739.6L1601.9,3741.0L1602.3,3742.5L1602.6,3743.9L1603.0,3745.4L1603.3,3746.9L1603.7,3748.3L1604.1,3749.8L1604.4,3751.2L1604.8,3752.7L1605.2,3754.1L1605.5,3755.6L1605.9,3757.0L1606.3,3758.5L1606.7,3759.9L1607.1,3761.4L1607.4,3762.8L1607.8,3764.3L1608.2,3765.7L1608.6,3767.2L1609.0,3768.6L1609.4,3770.1L1609.9,3771.5L1610.3,3772.9L1610.7,3774.4L1611.1,3775.8L1611.5,3777.3L1611.9,3778.7L1612.4,3780.1L1612.8,3781.6L1613.2,3783.0L1613.7,3784.4L1614.1,3785.9L1614.5,3787.3L1614.9,3788.8L1615.4,3790.2L1615.8,3791.6L1616.2,3793.1L1616.6,3794.5L1617.1,3796.0L1617.5,3797.4L1617.9,3798.8L1618.3,3800.3L1618.7,3801.7L1619.1,3803.2L1619.6,3804.6L1620.0,3806.0L1620.4,3807.5L1620.8,3808.9L1621.2,3810.4L1621.6,3811.8L1622.0,3813.3L1622.4,3814.7L1622.8,3816.1L1623.2,3817.6L1623.6,3819.0L1624.0,3820.5L1624.5,3821.9L1624.9,3823.4L1625.3,3824.8L1625.7,3826.2L1626.1,3827.7L1626.6,3829.1L1627.0,3830.5L1627.4,3832.0L1627.9,3833.4L1628.3,3834.8L1628.8,3836.3L1629.2,3837.7L1629.7,3839.1L1630.1,3840.6L1630.6,3842.0L1631.1,3843.4L1631.5,3844.8L1632.0,3846.3L1632.5,3847.7L1633.0,3849.1L1633.4,3850.5L1633.9,3851.9L1634.4,3853.4L1634.9,3854.8L1635.4,3856.2L1635.9,3857.6L1636.4,3859.0L1636.9,3860.4L1637.4,3861.9L1637.8,3863.3L1638.4,3864.7L1638.9,3866.1L1639.4,3867.5L1639.9,3868.9L1640.4,3870.3L1640.9,3871.7L1641.4,3873.1L1642.0,3874.5L1642.5,3875.9L1643.0,3877.2L1643.5,3878.6L1644.1,3880.0L1644.6,3881.4L1645.2,3882.7L1645.7,3884.1L1646.3,3885.4L1646.9,3886.8L1647.5,3888.1L1648.1,3889.5L1648.7,3890.8L1649.4,3892.1L1650.1,3893.4L1650.8,3894.7L1651.5,3896.0L1652.2,3897.3L1652.9,3898.6L1653.6,3899.9L1654.3,3901.2L1655.1,3902.4L1656.0,3903.5L1657.0,3904.5L1658.0,3905.5L1659.2,3906.3L1660.4,3906.9L1661.8,3907.5L1663.1,3908.0L1664.5,3908.3L1666.0,3908.6L1667.4,3908.7L1668.9,3908.6L1670.3,3908.4L1671.8,3908.2L1673.2,3907.8L1674.7,3907.4L1676.1,3907.0L1677.5,3906.4L1678.8,3905.9L1680.1,3905.2L1681.4,3904.5L1682.6,3903.7L1683.8,3902.8L1685.0,3901.9L1686.2,3901.0L1687.3,3900.1L1688.4,3899.1L1689.4,3898.1L1690.5,3897.1L1691.5,3896.0L1692.4,3894.9L1693.4,3893.8L1694.3,3892.7L1695.2,3891.6L1696.1,3890.4L1697.0,3889.3L1697.9,3888.1L1698.8,3886.9L1699.7,3885.7L1700.6,3884.6L1701.5,3883.4L1702.3,3882.2L1703.2,3881.0L1704.0,3879.8L1704.9,3878.5L1705.7,3877.3L1706.6,3876.1L1707.4,3874.8L1708.2,3873.6L1709.0,3872.3L1709.8,3871.1L1710.6,3869.8L1711.4,3868.5L1712.2,3867.2L1712.9,3866.0L1713.7,3864.7L1714.5,3863.4L1715.2,3862.1L1716.0,3860.8L1716.7,3859.5L1717.5,3858.2L1718.2,3856.9L1719.0,3855.6L1719.7,3854.3L1720.4,3853.0L1721.1,3851.7L1721.8,3850.3L1722.5,3849.0L1723.2,3847.7L1723.9,3846.4L1724.6,3845.0L1725.3,3843.7L1726.0,3842.4L1726.7,3841.0L1727.3,3839.7L1728.0,3838.3L1728.7,3837.0L1729.3,3835.7L1730.0,3834.3L1730.6,3833.0L1731.3,3831.6L1731.9,3830.3L1732.6,3828.9L1733.2,3827.5L1733.9,3826.2L1734.5,3824.8L1735.1,3823.5L1735.7,3822.1L1736.4,3820.7L1737.0,3819.4L1737.6,3818.0L1738.2,3816.7L1738.8,3815.3L1739.4,3813.9L1740.0,3812.5L1740.6,3811.2L1741.2,3809.8L1741.8,3808.4L1742.4,3807.1L1743.0,3805.7L1743.6,3804.4L1744.1,3803.0L1744.7,3801.6L1745.3,3800.3L1745.8,3799.0L1746.4,3797.6L1746.9,3796.3L1747.5,3795.0L1748.0,3793.7L1748.5,3792.4L1749.1,3791.1L1749.6,3789.9L1750.1,3788.7L1750.6,3787.5L1751.1,3786.3L1751.6,3785.1L1752.0,3784.0L1752.5,3782.9L1752.9,3781.9L1753.4,3780.9L1753.8,3779.9L1754.2,3779.0L1754.6,3778.1L1755.0,3777.2L1755.3,3776.4L1755.6,3775.7L1759.0,3768.5L1759.0,3768.5L1763.8,3762.3L1764.3,3761.6L1764.8,3760.9L1765.3,3760.1L1765.8,3759.3L1766.4,3758.5L1767.0,3757.6L1767.6,3756.7L1768.3,3755.8L1768.9,3754.8L1769.6,3753.8L1770.2,3752.8L1770.9,3751.7L1771.6,3750.6L1772.3,3749.5L1773.1,3748.3L1773.8,3747.2L1774.5,3746.0L1775.3,3744.8L1776.0,3743.6L1776.8,3742.4L1777.5,3741.1L1778.3,3739.9L1779.0,3738.6L1779.8,3737.4L1780.5,3736.1L1781.3,3734.8L1782.1,3733.6L1782.8,3732.3L1783.6,3731.0L1784.3,3729.7L1785.1,3728.4L1785.9,3727.2L1786.7,3725.9L1787.4,3724.6L1788.2,3723.3L1789.0,3722.0L1789.7,3720.7L1790.5,3719.5L1791.3,3718.2L1792.1,3716.9L1792.8,3715.6L1793.6,3714.3L1794.4,3713.0L1795.2,3711.8L1796.0,3710.5L1796.8,3709.2L1797.6,3707.9L1798.4,3706.7L1799.2,3705.4L1800.0,3704.1L1800.8,3702.8L1801.6,3701.6L1802.4,3700.3L1803.2,3699.0L1804.0,3697.8L1804.8,3696.5L1805.6,3695.2L1806.4,3694.0L1807.2,3692.7L1808.0,3691.5L1808.9,3690.2L1809.7,3688.9L1810.5,3687.7L1811.3,3686.4L1812.1,3685.2L1813.0,3683.9L1813.8,3682.7L1814.6,3681.4L1815.4,3680.1L1816.2,3678.9L1817.1,3677.6L1817.9,3676.4L1818.7,3675.1L1819.5,3673.9L1820.4,3672.6L1821.2,3671.4L1822.0,3670.1L1822.8,3668.8L1823.7,3667.6L1824.5,3666.3L1825.3,3665.1L1826.1,3663.8L1826.9,3662.6L1827.8,3661.3L1828.6,3660.1L1829.4,3658.8L1830.2,3657.5L1831.0,3656.3L1831.9,3655.0L1832.7,3653.8L1833.5,3652.5L1834.3,3651.2L1835.1,3650.0L1835.9,3648.7L1836.8,3647.5L1837.6,3646.2L1838.4,3644.9L1839.2,3643.7L1840.0,3642.4L1840.8,3641.1L1841.6,3639.9L1842.4,3638.6L1843.2,3637.3L1844.0,3636.1L1844.8,3634.8L1845.6,3633.5L1846.4,3632.3L1847.2,3631.0L1848.0,3629.7L1848.8,3628.4L1849.6,3627.2L1850.4,3625.9L1851.2,3624.6L1852.0,3623.4L1852.8,3622.1L1853.6,3620.8L1854.4,3619.5L1855.2,3618.3L1856.0,3617.0L1856.8,3615.7L1857.6,3614.4L1858.4,3613.2L1859.2,3611.9L1860.0,3610.6L1860.8,3609.4L1861.6,3608.1L1862.4,3606.8L1863.2,3605.5L1864.0,3604.3L1864.8,3603.0L1865.6,3601.7L1866.4,3600.4L1867.1,3599.2L1867.9,3597.9L1868.7,3596.6L1869.5,3595.3L1870.3,3594.1L1871.1,3592.8L1871.9,3591.5L1872.7,3590.3L1873.5,3589.0L1874.3,3587.7L1875.1,3586.4L1875.9,3585.2L1876.7,3583.9L1877.5,3582.6L1878.3,3581.3L1879.1,3580.1L1879.9,3578.8L1880.7,3577.5L1881.5,3576.2L1882.3,3575.0L1883.1,3573.7L1883.9,3572.4L1884.7,3571.2L1885.5,3569.9L1886.3,3568.6L1887.1,3567.3L1887.9,3566.1L1888.7,3564.8L1889.5,3563.5L1890.3,3562.3L1891.1,3561.0L1891.9,3559.7L1892.7,3558.5L1893.5,3557.2L1894.3,3555.9L1895.1,3554.7L1895.9,3553.4L1896.7,3552.1L1897.5,3550.8L1898.3,3549.6L1899.1,3548.3L1899.9,3547.0L1900.7,3545.8L1901.5,3544.5L1902.3,3543.2L1903.1,3542.0L1903.9,3540.7L1904.7,3539.4L1905.5,3538.2L1906.3,3536.9L1907.1,3535.6L1907.9,3534.4L1908.7,3533.1L1909.5,3531.9L1910.3,3530.6L1911.1,3529.3L1911.9,3528.1L1912.7,3526.8L1913.5,3525.6L1914.3,3524.4L1915.1,3523.1L1915.9,3521.9L1916.7,3520.7L1917.4,3519.5L1918.2,3518.3L1919.0,3517.1L1919.7,3515.9L1920.5,3514.8L1921.2,3513.6L1921.9,3512.5L1922.6,3511.4L1923.3,3510.3L1924.0,3509.3L1924.6,3508.2L1925.3,3507.3L1925.9,3506.3L1926.5,3505.4L1927.1,3504.5L1927.6,3503.6L1928.2,3502.8L1928.7,3502.0L1929.2,3501.3L1929.6,3500.6L1934.0,3494.0" fill="none" stroke="#000000" stroke-width="3.6" stroke-linejoin="round" stroke-linecap="round" clip-path="url(#cc)" />
<path d="M416.9,3587.0L418.2,3508.0L418.2,3508.0L432.7,3498.7L432.7,3498.7L434.1,3497.1L434.9,3496.2L435.8,3495.2L436.8,3494.1L437.8,3492.9L438.9,3491.8L440.0,3490.8L441.1,3489.7L442.2,3488.8L443.4,3487.9L444.6,3487.0L445.8,3486.1L447.0,3485.2L448.2,3484.4L449.3,3483.5L450.5,3482.7L451.7,3481.8L452.9,3480.9L454.1,3480.1L455.3,3479.2L456.5,3478.3L457.7,3477.4L458.9,3476.6L460.1,3475.7L461.4,3474.8L462.6,3474.0L463.8,3473.1L465.0,3472.2L466.2,3471.4L467.5,3470.5L468.7,3469.6L469.9,3468.8L471.1,3467.9L472.4,3467.0L473.6,3466.2L474.8,3465.3L476.0,3464.4L477.3,3463.6L478.5,3462.7L479.7,3461.8L480.9,3461.0L482.2,3460.1L483.4,3459.2L484.6,3458.4L485.9,3457.5L487.1,3456.6L488.3,3455.8L489.5,3454.9L490.8,3454.0L492.0,3453.2L493.2,3452.3L494.4,3451.5L495.7,3450.6L496.9,3449.7L498.1,3448.9L499.3,3448.0L500.6,3447.1L501.8,3446.3L503.0,3445.4L504.2,3444.5L505.5,3443.7L506.7,3442.8L507.9,3441.9L509.1,3441.1L510.4,3440.2L511.6,3439.3L512.8,3438.4L514.0,3437.6L515.2,3436.7L516.4,3435.8L517.7,3434.9L518.9,3434.0L520.1,3433.1L521.3,3432.2L522.5,3431.3L523.7,3430.4L524.9,3429.5L526.1,3428.6L527.3,3427.7L528.4,3426.8L529.6,3425.9L530.8,3425.0L532.0,3424.0L533.2,3423.1L534.4,3422.2L535.5,3421.3L536.7,3420.3L537.9,3419.4L539.1,3418.5L540.2,3417.5L541.4,3416.6L542.6,3415.7L543.8,3414.7L544.9,3413.8L546.1,3412.8L547.3,3411.9L548.4,3411.0L549.6,3410.0L550.8,3409.1L552.0,3408.1L553.1,3407.2L554.3,3406.3L555.5,3405.3L556.6,3404.4L557.8,3403.5L559.0,3402.5L560.2,3401.6L561.3,3400.6L562.5,3399.7L563.7,3398.8L564.8,3397.8L566.0,3396.9L567.2,3395.9L568.4,3395.0L569.5,3394.1L570.7,3393.1L571.9,3392.2L573.0,3391.2L574.2,3390.3L575.4,3389.4L576.5,3388.4L577.7,3387.5L578.9,3386.6L580.1,3385.6L581.2,3384.7L582.4,3383.7L583.6,3382.8L584.7,3381.9L585.9,3380.9L587.1,3380.0L588.3,3379.0L589.4,3378.1L590.6,3377.2L591.8,3376.2L592.9,3375.3L594.1,3374.4L595.3,3373.4L596.5,3372.5L597.6,3371.5L598.8,3370.6L600.0,3369.7L601.1,3368.7L602.3,3367.8L603.5,3366.8L604.7,3365.9L605.8,3365.0L607.0,3364.0L608.2,3363.1L609.3,3362.2L610.5,3361.2L611.7,3360.3L612.9,3359.3L614.0,3358.4L615.2,3357.5L616.4,3356.5L617.5,3355.6L618.7,3354.6L619.9,3353.7L621.0,3352.8L622.2,3351.8L623.4,3350.9L624.6,3349.9L625.7,3349.0L626.9,3348.1L628.1,3347.1L629.3,3346.2L630.4,3345.3L631.6,3344.3L632.8,3343.4L634.0,3342.5L635.2,3341.6L636.3,3340.7L637.5,3339.7L638.7,3338.8L639.9,3337.9L641.1,3337.0L642.3,3336.1L643.5,3335.2L644.7,3334.3L645.9,3333.5L647.2,3332.6L648.4,3331.7L649.6,3330.9L650.8,3330.0L652.1,3329.2L653.3,3328.3L654.5,3327.5L655.8,3326.6L657.0,3325.8L658.3,3325.0L659.5,3324.2L660.8,3323.3L662.1,3322.5L663.3,3321.7L664.6,3320.9L665.8,3320.1L667.1,3319.3L668.4,3318.5L669.6,3317.7L670.9,3316.9L672.2,3316.1L673.4,3315.3L674.7,3314.5L676.0,3313.6L677.2,3312.8L678.5,3312.0L679.8,3311.2L681.0,3310.4L682.3,3309.6L683.6,3308.8L684.9,3308.0L686.1,3307.2L687.4,3306.4L688.7,3305.6L689.9,3304.8L691.2,3304.0L692.5,3303.2L693.7,3302.4L695.0,3301.6L696.2,3300.8L697.5,3300.0L698.8,3299.2L700.0,3298.3L701.3,3297.5L702.6,3296.7L703.8,3295.9L705.1,3295.1L706.3,3294.3L707.6,3293.4L708.8,3292.6L710.1,3291.8L711.3,3291.0L712.6,3290.1L713.8,3289.3L715.0,3288.4L716.3,3287.6L717.5,3286.7L718.7,3285.8L720.0,3285.0L721.2,3284.1L722.4,3283.2L723.6,3282.3L724.8,3281.4L726.0,3280.5L727.2,3279.6L728.4,3278.7L729.6,3277.8L730.8,3276.9L731.9,3276.0L733.1,3275.1L734.3,3274.1L735.5,3273.2L736.7,3272.3L737.8,3271.3L739.0,3270.4L740.2,3269.5L741.3,3268.5L742.5,3267.6L743.7,3266.6L744.8,3265.7L746.0,3264.7L747.2,3263.8L748.3,3262.9L749.5,3261.9L750.7,3261.0L751.8,3260.0L753.0,3259.1L754.2,3258.1L755.3,3257.2L756.5,3256.2L757.7,3255.3L758.8,3254.3L760.0,3253.4L761.2,3252.5L762.3,3251.5L763.5,3250.6L764.7,3249.6L765.8,3248.7L767.0,3247.7L768.1,3246.8L769.3,3245.8L770.5,3244.9L771.6,3243.9L772.8,3243.0L774.0,3242.0L775.1,3241.1L776.3,3240.1L777.5,3239.2L778.6,3238.2L779.8,3237.3L781.0,3236.4L782.1,3235.4L783.3,3234.5L784.4,3233.5L785.6,3232.6L786.8,3231.6L787.9,3230.7L789.1,3229.7L790.3,3228.8L791.4,3227.8L792.6,3226.9L793.8,3225.9L794.9,3225.0L796.1,3224.0L797.2,3223.1L798.4,3222.1L799.6,3221.2L800.7,3220.2L801.9,3219.3L803.0,3218.3L804.2,3217.4L805.4,3216.4L806.5,3215.5L807.7,3214.5L808.8,3213.6L810.0,3212.6L811.1,3211.6L812.3,3210.7L813.5,3209.7L814.6,3208.8L815.8,3207.8L816.9,3206.8L818.1,3205.9L819.2,3204.9L820.4,3203.9L821.5,3203.0L822.7,3202.0L823.8,3201.0L825.0,3200.1L826.1,3199.1L827.2,3198.1L828.4,3197.2L829.5,3196.2L830.7,3195.2L831.8,3194.3L833.0,3193.3L834.1,3192.3L835.3,3191.3L836.4,3190.4L837.5,3189.4L838.7,3188.4L839.8,3187.5L841.0,3186.5L842.1,3185.5L843.3,3184.6L844.4,3183.6L845.6,3182.6L846.7,3181.6L847.9,3180.7L849.0,3179.7L850.1,3178.7L851.3,3177.8L852.4,3176.8L853.6,3175.8L854.7,3174.8L855.9,3173.9L857.0,3172.9L858.2,3171.9L859.3,3171.0L860.5,3170.0L861.6,3169.0L862.7,3168.1L863.9,3167.1L865.0,3166.1L866.2,3165.2L867.4,3164.2L868.5,3163.3L869.7,3162.3L870.8,3161.4L872.0,3160.4L873.2,3159.5L874.3,3158.5L875.5,3157.6L876.7,3156.7L877.8,3155.7L879.0,3154.8L880.2,3153.9L881.4,3153.0L882.6,3152.1L883.8,3151.2L885.0,3150.3L886.2,3149.4L887.4,3148.5L888.6,3147.6L889.8,3146.7L891.0,3145.8L892.3,3145.0L893.5,3144.1L894.7,3143.2L895.9,3142.3L897.1,3141.5L898.4,3140.6L899.6,3139.7L900.8,3138.9L902.0,3138.0L903.3,3137.1L904.5,3136.3L905.7,3135.4L907.0,3134.6L908.2,3133.7L909.4,3132.8L910.6,3132.0L911.9,3131.1L913.1,3130.3L914.3,3129.4L915.6,3128.5L916.8,3127.7L918.0,3126.8L919.3,3126.0L920.5,3125.1L921.7,3124.2L922.9,3123.4L924.2,3122.5L925.4,3121.7L926.6,3120.8L927.9,3119.9L929.1,3119.1L930.3,3118.2L931.5,3117.3L932.8,3116.5L934.0,3115.6L935.2,3114.8L936.5,3113.9L937.7,3113.0L938.9,3112.2L940.2,3111.3L941.4,3110.5L942.6,3109.6L943.8,3108.7L945.1,3107.9L946.3,3107.0L947.5,3106.2L948.8,3105.3L950.0,3104.5L951.2,3103.6L952.5,3102.8L953.7,3101.9L954.9,3101.1L956.2,3100.2L957.4,3099.4L958.7,3098.5L959.9,3097.7L961.1,3096.8L962.4,3096.0L963.6,3095.1L964.9,3094.3L966.1,3093.5L967.4,3092.6L968.6,3091.8L969.9,3091.0L971.1,3090.2L972.4,3089.3L973.6,3088.5L974.9,3087.7L976.1,3086.9L977.4,3086.0L978.7,3085.2L979.9,3084.4L981.2,3083.6L982.4,3082.8L983.7,3081.9L984.9,3081.1L986.2,3080.3L987.5,3079.5L988.7,3078.7L990.0,3077.9L991.2,3077.0L992.5,3076.2L993.8,3075.4L995.0,3074.6L996.3,3073.8L997.5,3073.0L998.8,3072.1L1000.1,3071.3L1001.3,3070.5L1002.6,3069.7L1003.8,3068.9L1005.1,3068.1L1006.3,3067.2L1007.6,3066.4L1008.9,3065.6L1010.1,3064.8L1011.4,3064.0L1012.6,3063.1L1013.9,3062.3L1015.1,3061.5L1016.4,3060.7L1017.7,3059.9L1018.9,3059.0L1020.2,3058.2L1021.4,3057.4L1022.7,3056.6L1024.0,3055.8L1025.2,3055.0L1026.5,3054.1L1027.7,3053.3L1029.0,3052.5L1030.3,3051.7L1031.5,3050.9L1032.8,3050.1L1034.1,3049.3L1035.3,3048.5L1036.6,3047.7L1037.9,3046.9L1039.1,3046.1L1040.4,3045.3L1041.7,3044.5L1043.0,3043.8L1044.3,3043.0L1045.6,3042.2L1046.8,3041.5L1048.1,3040.7L1049.4,3039.9L1050.7,3039.2L1052.0,3038.4L1053.3,3037.7L1054.6,3036.9L1055.9,3036.2L1057.2,3035.5L1058.6,3034.7L1059.9,3034.0L1061.2,3033.3L1062.5,3032.5L1063.8,3031.8L1065.1,3031.1L1066.4,3030.4L1067.7,3029.7L1069.1,3028.9L1070.4,3028.2L1071.7,3027.5L1073.0,3026.8L1074.4,3026.1L1075.7,3025.4L1077.0,3024.7L1078.3,3024.0L1079.7,3023.3L1081.0,3022.6L1082.3,3021.9L1083.7,3021.3L1085.0,3020.6L1086.4,3019.9L1087.7,3019.3L1089.0,3018.6L1090.4,3017.9L1091.7,3017.3L1093.1,3016.6L1094.4,3016.0L1095.8,3015.4L1097.2,3014.7L1098.5,3014.1L1099.9,3013.5L1101.2,3012.8L1102.6,3012.2L1104.0,3011.6L1105.3,3011.0L1106.7,3010.3L1108.1,3009.7L1109.4,3009.1L1110.8,3008.5L1112.2,3007.9L1113.6,3007.3L1114.9,3006.7L1116.3,3006.1L1117.7,3005.5L1119.1,3004.9L1120.5,3004.4L1121.8,3003.8L1123.2,3003.2L1124.6,3002.6L1126.0,3002.1L1127.4,3001.5L1128.8,3001.0L1130.2,3000.4L1131.6,2999.9L1133.0,2999.3L1134.4,2998.8L1135.8,2998.3L1137.2,2997.7L1138.6,2997.2L1140.0,2996.7L1141.4,2996.2L1142.8,2995.7L1144.2,2995.2L1145.7,2994.7L1147.1,2994.2L1148.5,2993.7L1149.9,2993.2L1151.3,2992.7L1152.7,2992.2L1154.2,2991.7L1155.6,2991.2L1157.0,2990.8L1158.4,2990.3L1159.9,2989.8L1161.3,2989.4L1162.7,2988.9L1164.1,2988.5L1165.6,2988.0L1167.0,2987.6L1168.4,2987.2L1169.9,2986.7L1171.3,2986.3L1172.8,2985.9L1174.2,2985.5L1175.6,2985.1L1177.1,2984.7L1178.5,2984.3L1180.0,2983.9L1181.4,2983.5L1182.9,2983.2L1184.3,2982.8L1185.8,2982.4L1187.2,2982.1L1188.7,2981.7L1190.2,2981.4L1191.6,2981.0L1193.1,2980.7L1194.5,2980.3L1196.0,2980.0L1197.5,2979.7L1198.9,2979.4L1200.4,2979.1L1201.9,2978.8L1203.3,2978.6L1204.8,2978.3L1206.3,2978.0L1207.8,2977.8L1209.2,2977.6L1210.7,2977.4L1212.2,2977.2L1213.7,2977.0L1215.2,2976.8L1216.6,2976.6L1218.1,2976.5L1219.6,2976.3L1221.1,2976.2L1222.6,2976.1L1224.1,2976.0L1225.6,2975.8L1227.1,2975.7L1228.6,2975.7L1230.1,2975.6L1231.6,2975.5L1233.1,2975.4L1234.6,2975.3L1236.1,2975.3L1237.6,2975.2L1239.1,2975.2L1240.5,2975.1L1242.0,2975.1L1243.5,2975.0L1245.0,2975.0L1246.5,2975.0L1248.0,2975.0L1249.5,2975.0L1251.0,2975.0L1252.5,2975.0L1254.0,2975.0L1255.5,2975.0L1257.0,2975.0L1258.5,2975.1L1260.0,2975.1L1261.5,2975.2L1263.0,2975.2L1264.5,2975.3L1266.0,2975.4L1267.5,2975.4L1269.0,2975.5L1270.5,2975.6L1272.0,2975.7L1273.5,2975.8L1275.0,2976.0L1276.4,2976.1L1277.9,2976.3L1279.4,2976.4L1280.9,2976.6L1282.3,2976.8L1283.8,2977.1L1285.2,2977.3L1286.7,2977.6L1288.1,2977.9L1289.6,2978.2L1291.0,2978.5L1292.5,2978.9L1293.9,2979.2L1295.3,2979.6L1296.7,2980.1L1298.1,2980.5L1299.5,2981.0L1300.9,2981.5L1302.3,2982.0L1303.7,2982.5L1305.1,2983.0L1306.5,2983.6L1307.9,2984.1L1309.2,2984.7L1310.6,2985.3L1312.0,2985.9L1313.4,2986.5L1314.7,2987.1L1316.1,2987.7L1317.5,2988.3L1318.8,2989.0L1320.2,2989.6L1321.5,2990.2L1322.9,2990.9L1324.2,2991.6L1325.5,2992.2L1326.9,2992.9L1328.2,2993.6L1329.5,2994.3L1330.9,2995.0L1332.2,2995.7L1333.5,2996.4L1334.8,2997.1L1336.1,2997.9L1337.4,2998.6L1338.7,2999.4L1340.0,3000.1L1341.3,3000.9L1342.5,3001.7L1343.8,3002.5L1345.1,3003.2L1346.4,3004.0L1347.6,3004.8L1348.9,3005.6L1350.2,3006.4L1351.4,3007.3L1352.7,3008.1L1353.9,3008.9L1355.2,3009.7L1356.5,3010.5L1357.7,3011.4L1358.9,3012.2L1360.2,3013.0L1361.4,3013.9L1362.7,3014.7L1363.9,3015.6L1365.1,3016.4L1366.3,3017.3L1367.6,3018.2L1368.8,3019.1L1370.0,3020.0L1371.2,3020.9L1372.3,3021.8L1373.5,3022.7L1374.7,3023.6L1375.9,3024.5L1377.0,3025.5L1378.2,3026.4L1379.3,3027.4L1380.5,3028.4L1381.6,3029.4L1382.7,3030.3L1383.8,3031.3L1384.9,3032.4L1386.0,3033.4L1387.1,3034.4L1388.1,3035.4L1389.2,3036.5L1390.2,3037.6L1391.3,3038.6L1392.3,3039.7L1393.3,3040.8L1394.3,3041.9L1395.3,3043.0L1396.3,3044.1L1397.2,3045.3L1398.2,3046.4L1399.1,3047.6L1400.0,3048.8L1400.9,3050.0L1401.8,3051.1L1402.7,3052.3L1403.5,3053.6L1404.4,3054.8L1405.3,3056.0L1406.1,3057.2L1406.9,3058.5L1407.8,3059.7L1408.6,3061.0L1409.4,3062.2L1410.2,3063.5L1411.0,3064.7L1411.8,3066.0L1412.6,3067.3L1413.4,3068.5L1414.2,3069.8L1415.0,3071.1L1415.8,3072.3L1416.6,3073.6L1417.4,3074.9L1418.2,3076.2L1419.0,3077.4L1419.8,3078.7L1420.6,3080.0L1421.4,3081.2L1422.2,3082.5L1423.0,3083.8L1423.8,3085.1L1424.6,3086.3L1425.4,3087.6L1426.2,3088.9L1427.0,3090.2L1427.8,3091.4L1428.5,3092.7L1429.3,3094.0L1430.1,3095.3L1430.9,3096.6L1431.6,3097.9L1432.4,3099.1L1433.2,3100.4L1433.9,3101.7L1434.7,3103.0L1435.5,3104.3L1436.2,3105.6L1437.0,3106.9L1437.7,3108.2L1438.5,3109.5L1439.2,3110.8L1439.9,3112.1L1440.7,3113.4L1441.4,3114.7L1442.1,3116.1L1442.9,3117.4L1443.6,3118.7L1444.3,3120.0L1445.0,3121.3L1445.8,3122.6L1446.5,3123.9L1447.2,3125.3L1447.9,3126.6L1448.6,3127.9L1449.4,3129.2L1450.1,3130.5L1450.8,3131.8L1451.5,3133.2L1452.2,3134.5L1453.0,3135.8L1453.7,3137.1L1454.4,3138.4L1455.1,3139.8L1455.8,3141.1L1456.5,3142.4L1457.2,3143.7L1457.9,3145.0L1458.6,3146.4L1459.3,3147.7L1460.0,3149.0L1460.7,3150.3L1461.4,3151.7L1462.1,3153.0L1462.8,3154.3L1463.5,3155.7L1464.2,3157.0L1464.9,3158.4L1465.5,3159.7L1466.2,3161.0L1466.9,3162.4L1467.5,3163.7L1468.2,3165.1L1468.9,3166.4L1469.5,3167.8L1470.2,3169.1L1470.8,3170.5L1471.5,3171.8L1472.1,3173.2L1472.8,3174.5L1473.4,3175.9L1474.0,3177.2L1474.7,3178.6L1475.3,3180.0L1476.0,3181.3L1476.6,3182.7L1477.2,3184.0L1477.8,3185.4L1478.5,3186.8L1479.1,3188.1L1479.7,3189.5L1480.3,3190.9L1480.9,3192.2L1481.5,3193.6L1482.1,3195.0L1482.7,3196.4L1483.3,3197.8L1483.8,3199.1L1484.4,3200.5L1485.0,3201.9L1485.5,3203.3L1486.1,3204.7L1486.6,3206.1L1487.2,3207.5L1487.7,3208.9L1488.3,3210.3L1488.8,3211.7L1489.3,3213.1L1489.8,3214.5L1490.4,3215.9L1490.9,3217.3L1491.4,3218.7L1491.9,3220.1L1492.4,3221.6L1492.9,3223.0L1493.4,3224.4L1493.9,3225.8L1494.4,3227.2L1494.9,3228.6L1495.4,3230.0L1495.9,3231.4L1496.4,3232.9L1496.9,3234.3L1497.4,3235.7L1497.9,3237.1L1498.4,3238.5L1498.9,3239.9L1499.4,3241.4L1499.9,3242.8L1500.4,3244.2L1500.9,3245.6L1501.4,3247.0L1501.9,3248.4L1502.4,3249.8L1502.9,3251.3L1503.4,3252.7L1503.9,3254.1L1504.4,3255.5L1504.9,3256.9L1505.4,3258.4L1505.9,3259.8L1506.3,3261.2L1506.8,3262.6L1507.3,3264.0L1507.8,3265.5L1508.3,3266.9L1508.8,3268.3L1509.2,3269.7L1509.7,3271.1L1510.2,3272.6L1510.7,3274.0L1511.2,3275.4L1511.6,3276.8L1512.1,3278.3L1512.6,3279.7L1513.1,3281.1L1513.5,3282.5L1514.0,3283.9L1514.5,3285.4L1515.0,3286.8L1515.4,3288.2L1515.9,3289.6L1516.4,3291.1L1516.9,3292.5L1517.3,3293.9L1517.8,3295.3L1518.3,3296.8L1518.7,3298.2L1519.2,3299.6L1519.7,3301.1L1520.1,3302.5L1520.6,3303.9L1521.0,3305.3L1521.5,3306.8L1522.0,3308.2L1522.4,3309.6L1522.9,3311.1L1523.3,3312.5L1523.8,3313.9L1524.2,3315.3L1524.7,3316.8L1525.1,3318.2L1525.5,3319.7L1526.0,3321.1L1526.4,3322.5L1526.8,3324.0L1527.3,3325.4L1527.7,3326.8L1528.1,3328.3L1528.5,3329.7L1528.9,3331.2L1529.3,3332.6L1529.7,3334.1L1530.1,3335.5L1530.5,3336.9L1530.9,3338.4L1531.3,3339.8L1531.7,3341.3L1532.0,3342.8L1532.4,3344.2L1532.8,3345.7L1533.1,3347.1L1533.5,3348.6L1533.9,3350.0L1534.2,3351.5L1534.6,3352.9L1534.9,3354.4L1535.3,3355.9L1535.6,3357.3L1536.0,3358.8L1536.3,3360.2L1536.7,3361.7L1537.1,3363.2L1537.4,3364.6L1537.8,3366.1L1538.1,3367.5L1538.5,3369.0L1538.8,3370.4L1539.2,3371.9L1539.5,3373.4L1539.9,3374.8L1540.2,3376.3L1540.6,3377.7L1541.0,3379.2L1541.3,3380.6L1541.7,3382.1L1542.0,3383.6L1542.4,3385.0L1542.8,3386.5L1543.2,3387.9L1543.5,3389.4L1543.9,3390.8L1544.3,3392.3L1544.7,3393.7L1545.1,3395.2L1545.5,3396.6L1545.9,3398.0L1546.3,3399.5L1546.8,3400.9L1547.2,3402.4L1547.6,3403.8L1548.0,3405.2L1548.5,3406.7L1548.9,3408.1L1549.3,3409.5L1549.8,3411.0L1550.2,3412.4L1550.6,3413.9L1551.1,3415.3L1551.5,3416.7L1551.9,3418.2L1552.3,3419.6L1552.8,3421.0L1553.2,3422.5L1553.6,3423.9L1554.0,3425.4L1554.3,3426.8L1554.7,3428.3L1555.1,3429.7L1555.5,3431.2L1555.8,3432.6L1556.2,3434.1L1556.5,3435.5L1556.8,3437.0L1557.1,3438.5L1557.5,3439.9L1557.8,3441.4L1558.1,3442.9L1558.4,3444.3L1558.6,3445.8L1558.9,3447.3L1559.2,3448.7L1559.5,3450.2L1559.8,3451.7L1560.0,3453.2L1560.3,3454.6L1560.6,3456.1L1560.9,3457.6L1561.1,3459.1L1561.4,3460.5L1561.7,3462.0L1562.0,3463.5L1562.3,3465.0L1562.5,3466.4L1562.8,3467.9L1563.1,3469.4L1563.4,3470.9L1563.7,3472.3L1564.0,3473.8L1564.3,3475.3L1564.6,3476.7L1564.9,3478.2L1565.2,3479.7L1565.5,3481.1L1565.8,3482.6L1566.1,3484.1L1566.4,3485.6L1566.7,3487.0L1567.0,3488.5L1567.3,3490.0L1567.7,3491.4L1568.0,3492.9L1568.3,3494.4L1568.6,3495.8L1568.9,3497.3L1569.2,3498.8L1569.6,3500.2L1569.9,3501.7L1570.2,3503.2L1570.5,3504.6L1570.8,3506.1L1571.1,3507.6L1571.5,3509.0L1571.8,3510.5L1572.1,3512.0L1572.4,3513.4L1572.7,3514.9L1573.1,3516.4L1573.4,3517.8L1573.7,3519.3L1574.0,3520.8L1574.4,3522.2L1574.7,3523.7L1575.0,3525.1L1575.3,3526.6L1575.7,3528.1L1576.0,3529.5L1576.3,3531.0L1576.7,3532.5L1577.0,3533.9L1577.3,3535.4L1577.7,3536.9L1578.0,3538.3L1578.3,3539.8L1578.7,3541.2L1579.0,3542.7L1579.3,3544.2L1579.7,3545.6L1580.0,3547.1L1580.3,3548.6L1580.7,3550.0L1581.0,3551.5L1581.4,3552.9L1581.7,3554.4L1582.0,3555.9L1582.4,3557.3L1582.7,3558.8L1583.0,3560.3L1583.4,3561.7L1583.7,3563.2L1584.1,3564.6L1584.4,3566.1L1584.7,3567.6L1585.1,3569.0L1585.4,3570.5L1585.7,3572.0L1586.0,3573.4L1586.4,3574.9L1586.7,3576.4L1587.0,3577.8L1587.4,3579.3L1587.7,3580.8L1588.0,3582.2L1588.4,3583.7L1588.7,3585.1L1589.0,3586.6L1589.3,3588.1L1589.7,3589.5L1590.0,3591.0L1590.3,3592.5L1590.6,3593.9L1591.0,3595.4L1591.3,3596.9L1591.6,3598.3L1591.9,3599.8L1592.3,3601.3L1592.6,3602.7L1592.9,3604.2L1593.3,3605.7L1593.6,3607.1L1593.9,3608.6L1594.2,3610.0L1594.6,3611.5L1594.9,3613.0L1595.2,3614.4L1595.5,3615.9L1595.9,3617.4L1596.2,3618.8L1596.5,3620.3L1596.8,3621.8L1597.2,3623.2L1597.5,3624.7L1597.8,3626.2L1598.1,3627.6L1598.5,3629.1L1598.8,3630.6L1599.1,3632.0L1599.4,3633.5L1599.7,3635.0L1600.1,3636.4L1600.4,3637.9L1600.7,3639.4L1601.0,3640.8L1601.4,3642.3L1601.7,3643.8L1602.0,3645.2L1602.3,3646.7L1602.6,3648.2L1602.9,3649.6L1603.3,3651.1L1603.6,3652.6L1603.9,3654.0L1604.2,3655.5L1604.5,3657.0L1604.9,3658.4L1605.2,3659.9L1605.5,3661.4L1605.8,3662.8L1606.1,3664.3L1606.5,3665.7L1606.8,3667.2L1607.1,3668.7L1607.5,3670.1L1607.8,3671.6L1608.2,3673.0L1608.6,3674.5L1608.9,3675.9L1609.3,3677.4L1609.7,3678.8L1610.1,3680.3L1610.5,3681.7L1610.9,3683.1L1611.3,3684.6L1611.8,3686.0L1612.2,3687.4L1612.7,3688.9L1613.2,3690.3L1613.6,3691.7L1614.1,3693.1L1614.6,3694.5L1615.1,3695.9L1615.7,3697.3L1616.2,3698.7L1616.7,3700.1L1617.3,3701.5L1617.8,3702.9L1618.3,3704.3L1618.9,3705.7L1619.5,3707.1L1620.0,3708.5L1620.6,3709.9L1621.1,3711.3L1621.7,3712.7L1622.3,3714.1L1622.8,3715.4L1623.4,3716.8L1624.0,3718.2L1624.5,3719.6L1625.1,3721.0L1625.7,3722.4L1626.3,3723.8L1626.9,3725.1L1627.4,3726.5L1628.0,3727.9L1628.6,3729.3L1629.2,3730.7L1629.8,3732.0L1630.4,3733.4L1631.0,3734.8L1631.6,3736.2L1632.2,3737.5L1632.8,3738.9L1633.4,3740.3L1634.1,3741.6L1634.7,3743.0L1635.3,3744.4L1636.0,3745.7L1636.6,3747.1L1637.2,3748.4L1637.9,3749.8L1638.5,3751.1L1639.2,3752.5L1639.9,3753.8L1640.5,3755.1L1641.2,3756.5L1641.9,3757.8L1642.6,3759.1L1643.3,3760.4L1644.1,3761.7L1644.8,3763.0L1645.5,3764.2L1646.2,3765.5L1647.0,3766.8L1647.7,3768.1L1648.5,3769.3L1649.2,3770.6L1650.0,3771.9L1650.7,3773.2L1651.5,3774.4L1652.3,3775.7L1653.2,3776.9L1654.1,3778.1L1655.1,3779.2L1656.2,3780.2L1657.4,3781.1L1658.6,3781.9L1659.9,3782.4L1661.2,3782.6L1662.6,3782.6L1664.0,3782.3L1665.4,3781.9L1666.7,3781.3L1668.1,3780.6L1669.3,3779.8L1670.5,3778.9L1671.7,3778.0L1672.9,3777.1L1674.0,3776.1L1675.1,3775.2L1676.1,3774.1L1677.0,3773.1L1677.9,3771.9L1678.8,3770.8L1679.7,3769.6L1680.6,3768.5L1681.5,3767.3L1682.3,3766.2L1683.2,3765.0L1684.1,3763.8L1684.9,3762.6L1685.8,3761.4L1686.6,3760.2L1687.5,3758.9L1688.3,3757.7L1689.1,3756.5L1689.9,3755.2L1690.7,3753.9L1691.5,3752.7L1692.3,3751.4L1693.0,3750.1L1693.8,3748.8L1694.5,3747.5L1695.3,3746.2L1696.0,3744.9L1696.7,3743.6L1697.4,3742.3L1698.1,3741.0L1698.8,3739.6L1699.5,3738.3L1700.2,3737.0L1700.9,3735.7L1701.6,3734.3L1702.3,3733.0L1703.0,3731.6L1703.6,3730.3L1704.3,3729.0L1705.0,3727.6L1705.6,3726.3L1706.3,3724.9L1707.0,3723.6L1707.6,3722.3L1708.3,3720.9L1709.0,3719.6L1709.6,3718.3L1710.3,3716.9L1711.0,3715.6L1711.6,3714.3L1712.3,3712.9L1713.0,3711.6L1713.6,3710.3L1714.3,3708.9L1714.9,3707.6L1715.6,3706.3L1716.4,3705.0L1717.2,3703.8L1718.0,3702.6L1718.9,3701.5L1719.9,3700.3L1720.8,3699.2L1721.8,3698.0L1722.7,3696.8L1723.6,3695.6L1724.5,3694.3L1725.3,3693.1L1726.2,3691.8L1727.0,3690.6L1727.8,3689.4L1728.5,3688.3L1729.1,3687.4L1730.4,3685.6" fill="none" stroke="#2fd12f" stroke-width="4" stroke-linejoin="round" stroke-linecap="round" clip-path="url(#cc)" />
<path d="M315.5,2955.0 H1934.0 V4160.5" fill="none" stroke="#000" stroke-width="4" stroke-linecap="square"/>
<line x1="315.5" y1="2953.0" x2="315.5" y2="4162.5" stroke="#000" stroke-width="4"/>
<line x1="315.5" y1="4160.5" x2="1936.0" y2="4160.5" stroke="#000" stroke-width="4"/>
<line x1="315.5" y1="4160.5" x2="315.5" y2="4184.5" stroke="#000" stroke-width="4" />
<line x1="517.8" y1="4160.5" x2="517.8" y2="4184.5" stroke="#000" stroke-width="4" />
<line x1="720.1" y1="4160.5" x2="720.1" y2="4184.5" stroke="#000" stroke-width="4" />
<line x1="922.4" y1="4160.5" x2="922.4" y2="4184.5" stroke="#000" stroke-width="4" />
<line x1="1124.8" y1="4160.5" x2="1124.8" y2="4184.5" stroke="#000" stroke-width="4" />
<line x1="1327.1" y1="4160.5" x2="1327.1" y2="4184.5" stroke="#000" stroke-width="4" />
<line x1="1529.4" y1="4160.5" x2="1529.4" y2="4184.5" stroke="#000" stroke-width="4" />
<line x1="1731.7" y1="4160.5" x2="1731.7" y2="4184.5" stroke="#000" stroke-width="4" />
<line x1="1934.0" y1="4160.5" x2="1934.0" y2="4184.5" stroke="#000" stroke-width="4" />
<line x1="416.7" y1="4160.5" x2="416.7" y2="4173.5" stroke="#000" stroke-width="4" />
<line x1="619.0" y1="4160.5" x2="619.0" y2="4173.5" stroke="#000" stroke-width="4" />
<line x1="821.3" y1="4160.5" x2="821.3" y2="4173.5" stroke="#000" stroke-width="4" />
<line x1="1023.6" y1="4160.5" x2="1023.6" y2="4173.5" stroke="#000" stroke-width="4" />
<line x1="1225.9" y1="4160.5" x2="1225.9" y2="4173.5" stroke="#000" stroke-width="4" />
<line x1="1428.2" y1="4160.5" x2="1428.2" y2="4173.5" stroke="#000" stroke-width="4" />
<line x1="1630.5" y1="4160.5" x2="1630.5" y2="4173.5" stroke="#000" stroke-width="4" />
<line x1="1832.8" y1="4160.5" x2="1832.8" y2="4173.5" stroke="#000" stroke-width="4" />
<line x1="315.5" y1="4160.5" x2="291.5" y2="4160.5" stroke="#000" stroke-width="4" />
<line x1="315.5" y1="4009.8" x2="291.5" y2="4009.8" stroke="#000" stroke-width="4" />
<line x1="315.5" y1="3859.1" x2="291.5" y2="3859.1" stroke="#000" stroke-width="4" />
<line x1="315.5" y1="3708.4" x2="291.5" y2="3708.4" stroke="#000" stroke-width="4" />
<line x1="315.5" y1="3557.8" x2="291.5" y2="3557.8" stroke="#000" stroke-width="4" />
<line x1="315.5" y1="3407.1" x2="291.5" y2="3407.1" stroke="#000" stroke-width="4" />
<line x1="315.5" y1="3256.4" x2="291.5" y2="3256.4" stroke="#000" stroke-width="4" />
<line x1="315.5" y1="3105.7" x2="291.5" y2="3105.7" stroke="#000" stroke-width="4" />
<line x1="315.5" y1="2955.0" x2="291.5" y2="2955.0" stroke="#000" stroke-width="4" />
<line x1="315.5" y1="4085.2" x2="302.5" y2="4085.2" stroke="#000" stroke-width="4" />
<line x1="315.5" y1="3934.5" x2="302.5" y2="3934.5" stroke="#000" stroke-width="4" />
<line x1="315.5" y1="3783.8" x2="302.5" y2="3783.8" stroke="#000" stroke-width="4" />
<line x1="315.5" y1="3633.1" x2="302.5" y2="3633.1" stroke="#000" stroke-width="4" />
<line x1="315.5" y1="3482.4" x2="302.5" y2="3482.4" stroke="#000" stroke-width="4" />
<line x1="315.5" y1="3331.7" x2="302.5" y2="3331.7" stroke="#000" stroke-width="4" />
<line x1="315.5" y1="3181.0" x2="302.5" y2="3181.0" stroke="#000" stroke-width="4" />
<line x1="315.5" y1="3030.3" x2="302.5" y2="3030.3" stroke="#000" stroke-width="4" />
<text x="132.89" y="4176.00" font-size="60" letter-spacing="0.8" >-0.30</text>
<text x="133.06" y="4025.31" font-size="60" letter-spacing="0.8" >-0.25</text>
<text x="132.89" y="3874.62" font-size="60" letter-spacing="0.8" >-0.20</text>
<text x="133.06" y="3723.94" font-size="60" letter-spacing="0.8" >-0.15</text>
<text x="132.89" y="3573.25" font-size="60" letter-spacing="0.8" >-0.10</text>
<text x="133.06" y="3422.56" font-size="60" letter-spacing="0.8" >-0.05</text>
<text x="156.97" y="3271.88" font-size="60" letter-spacing="-0.3" >0.00</text>
<text x="157.14" y="3121.19" font-size="60" letter-spacing="-0.3" >0.05</text>
<text x="156.97" y="2970.50" font-size="60" letter-spacing="-0.3" >0.10</text>
<text x="299.32" y="4248.50" font-size="60" letter-spacing="1.0" >0</text>
<text x="484.41" y="4248.50" font-size="60" letter-spacing="1.0" >50</text>
<text x="668.46" y="4248.50" font-size="60" letter-spacing="1.0" >100</text>
<text x="870.77" y="4248.50" font-size="60" letter-spacing="1.0" >150</text>
<text x="1073.86" y="4248.50" font-size="60" letter-spacing="1.0" >200</text>
<text x="1276.17" y="4248.50" font-size="60" letter-spacing="1.0" >250</text>
<text x="1478.85" y="4248.50" font-size="60" letter-spacing="1.0" >300</text>
<text x="1681.16" y="4248.50" font-size="60" letter-spacing="1.0" >350</text>
<text x="1883.93" y="4248.50" font-size="60" letter-spacing="1.0" >400</text>
<text x="913.23" y="4326.00" font-size="56.5" letter-spacing="0.47" >Temperature,</text>
<text x="1274.39" y="4319.35" font-size="60.66" >°</text>
<text transform="translate(1293.23,4326.00) scale(0.9642,1)" font-size="56.5" >C</text>
<text transform="translate(100.80,4019.97) rotate(-90) scale(0.9965,1)" font-size="73">Relative change in length, %</text>
<text x="49.78" y="2962.30" font-size="64" letter-spacing="0.88" >c)</text>
<line x1="342.0" y1="3918.5" x2="484.0" y2="3918.5" stroke="#000000" stroke-width="3.5" />
<line x1="342.0" y1="4009.0" x2="484.0" y2="4009.0" stroke="#d81020" stroke-width="6" />
<line x1="342.0" y1="4098.7" x2="484.0" y2="4098.7" stroke="#4cb84c" stroke-width="6.5" />
<text x="500.15" y="3939.00" font-size="59" letter-spacing="2.36" >400</text>
<text x="603.49" y="3929.11" font-size="58.87" >°</text>
<text x="625.50" y="3939.00" font-size="59" letter-spacing="1.70" >C<tspan stroke="#000" stroke-width="2.6">_</tspan>15min</text>
<text x="500.15" y="4028.40" font-size="59" letter-spacing="2.36" >400</text>
<text x="603.49" y="4018.51" font-size="58.87" >°</text>
<text x="625.50" y="4028.40" font-size="59" letter-spacing="1.84" >C_180min</text>
<text x="499.25" y="4117.70" font-size="59" letter-spacing="2.81" >350</text>
<text x="603.49" y="4107.81" font-size="58.87" >°</text>
<text x="625.50" y="4117.70" font-size="59" letter-spacing="1.70" >C_15min</text>
<rect x="0" y="4332" width="2060" height="34" fill="#fff"/>
</svg>
</body></html>
